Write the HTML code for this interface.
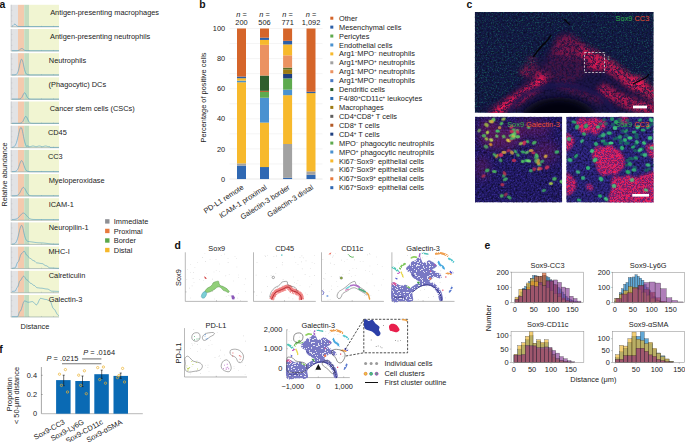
<!DOCTYPE html>
<html><head><meta charset="utf-8">
<style>
html,body{margin:0;padding:0;background:#fff;}
body{width:685px;height:442px;overflow:hidden;}
svg{display:block;font-family:"Liberation Sans",sans-serif;font-size:7.4px;fill:#222;}
</style></head><body>
<svg width="685" height="442" viewBox="0 0 685 442">
<defs>
<clipPath id="cTop"><rect x="474.8" y="11.9" width="178.9" height="100.9"/></clipPath>
<clipPath id="cBL"><rect x="475" y="116.8" width="87.1" height="85.6"/></clipPath>
<clipPath id="cBR"><rect x="566.3" y="116.8" width="87.3" height="85.6"/></clipPath>
<filter id="b06" x="-50%" y="-50%" width="200%" height="200%"><feGaussianBlur stdDeviation="0.6"/></filter>
<filter id="b1" x="-50%" y="-50%" width="200%" height="200%"><feGaussianBlur stdDeviation="1.2"/></filter>
<filter id="b2" x="-50%" y="-50%" width="200%" height="200%"><feGaussianBlur stdDeviation="2.5"/></filter>
<filter id="b4" x="-50%" y="-50%" width="200%" height="200%"><feGaussianBlur stdDeviation="4"/></filter>
<filter id="nzT" x="0" y="0" width="100%" height="100%" color-interpolation-filters="sRGB"><feTurbulence type="fractalNoise" baseFrequency="0.8" numOctaves="2" seed="4"/><feColorMatrix type="matrix" values="0 0 0 0 0.1  0 0 0 0 0.42  0 0 0 0 0.38  0 5.0 0 0 -2.6"/></filter>
<filter id="nzD" x="0" y="0" width="100%" height="100%" color-interpolation-filters="sRGB"><feTurbulence type="fractalNoise" baseFrequency="0.5" numOctaves="2" seed="9"/><feColorMatrix type="matrix" values="0 0 0 0 0.03  0 0 0 0 0.03  0 0 0 0 0.1  2.4 0 0 0 -1.0"/></filter>
<filter id="nzP" x="0" y="0" width="100%" height="100%" color-interpolation-filters="sRGB"><feTurbulence type="fractalNoise" baseFrequency="0.7" numOctaves="2" seed="11"/><feColorMatrix type="matrix" values="0 0 0 0 0.3  0 0 0 0 0.25  0 0 0 0 0.72  0 0 2.4 0 -1.0"/></filter>
<filter id="nzR" x="0" y="0" width="100%" height="100%" color-interpolation-filters="sRGB"><feTurbulence type="fractalNoise" baseFrequency="0.42" numOctaves="2" seed="21"/><feColorMatrix type="matrix" values="0 0 0 0 0.95  0 0 0 0 0.1  0 0 0 0 0.33  7.0 0 0 0 -3.5"/></filter>
<filter id="nzR3" x="0" y="0" width="100%" height="100%" color-interpolation-filters="sRGB"><feTurbulence type="fractalNoise" baseFrequency="0.25" numOctaves="2" seed="27"/><feColorMatrix type="matrix" values="0 0 0 0 0.9  0 0 0 0 0.1  0 0 0 0 0.32  0 0 7.0 0 -3.6"/></filter>
<filter id="nzR2" x="0" y="0" width="100%" height="100%" color-interpolation-filters="sRGB"><feTurbulence type="fractalNoise" baseFrequency="0.9" numOctaves="2" seed="23"/><feColorMatrix type="matrix" values="0 0 0 0 0.95  0 0 0 0 0.12  0 0 0 0 0.35  0 6.0 0 0 -2.9"/></filter>
<filter id="nzG" x="0" y="0" width="100%" height="100%" color-interpolation-filters="sRGB"><feTurbulence type="fractalNoise" baseFrequency="0.9" numOctaves="2" seed="31"/><feColorMatrix type="matrix" values="0 0 0 0 0.15  0 0 0 0 0.7  0 0 0 0 0.35  0 0 0 3.0 -1.5"/></filter>
<mask id="mRedTop" maskUnits="userSpaceOnUse" x="474" y="11" width="181" height="103">
<g filter="url(#b2)" fill="none" stroke-linecap="round">
<path d="M495.00,114.00 C496.67,112.67 501.67,108.33 505.00,106.00 C508.33,103.67 511.33,102.33 515.00,100.00 C518.67,97.67 523.17,94.67 527.00,92.00 C530.83,89.33 534.83,87.00 538.00,84.00 C541.17,81.00 544.67,75.67 546.00,74.00" stroke="#fff" stroke-width="10"/>
<path d="M546.00,74.00 C546.83,72.00 549.33,66.00 551.00,62.00 C552.67,58.00 554.33,53.67 556.00,50.00 C557.67,46.33 560.17,41.67 561.00,40.00" stroke="#4a4a4a" stroke-width="8"/>
<path d="M561.00,38.00 C562.17,37.67 565.50,35.33 568.00,36.00 C570.50,36.67 574.67,41.00 576.00,42.00" stroke="#333" stroke-width="6"/>
<ellipse cx="530" cy="72" rx="10" ry="5" fill="#aaa" stroke="none"/>
<path d="M560.00,84.00 C562.50,85.00 570.00,88.00 575.00,90.00 C580.00,92.00 585.83,94.33 590.00,96.00 C594.17,97.67 598.33,99.33 600.00,100.00" stroke="#444" stroke-width="8"/>
<path d="M581.00,50.00 C583.50,51.33 590.83,55.00 596.00,58.00 C601.17,61.00 606.67,64.33 612.00,68.00 C617.33,71.67 623.00,76.67 628.00,80.00 C633.00,83.33 637.67,85.67 642.00,88.00 C646.33,90.33 652.00,93.00 654.00,94.00" stroke="#ccc" stroke-width="12"/>
<path d="M604.00,90.00 C606.33,91.33 613.33,95.67 618.00,98.00 C622.67,100.33 627.33,102.33 632.00,104.00 C636.67,105.67 642.00,107.00 646.00,108.00 C650.00,109.00 654.33,109.67 656.00,110.00" stroke="#bbb" stroke-width="12"/>
<ellipse cx="596" cy="64" rx="8" ry="7" fill="#eee" stroke="none"/>
<ellipse cx="566" cy="68" rx="22" ry="14" fill="#333" stroke="none"/>
<ellipse cx="568" cy="47" rx="14" ry="11" fill="#777" stroke="none"/>
<ellipse cx="636" cy="83" rx="10" ry="7" fill="#fff" stroke="none"/>
<ellipse cx="532" cy="66" rx="6" ry="10" fill="#555" stroke="none"/>
</g>
</mask>
<mask id="mRedBR" maskUnits="userSpaceOnUse" x="566" y="116" width="88" height="87"><g filter="url(#b1)"><path d="M577.00,120.00 C578.00,118.58 580.17,117.67 582.00,117.50 C583.83,117.33 586.00,119.00 588.00,119.00 C590.00,119.00 592.00,117.50 594.00,117.50 C596.00,117.50 598.00,118.25 600.00,119.00 C602.00,119.75 605.17,120.50 606.00,122.00 C606.83,123.50 606.00,126.50 605.00,128.00 C604.00,129.50 601.50,129.83 600.00,131.00 C598.50,132.17 597.67,134.83 596.00,135.00 C594.33,135.17 591.83,132.00 590.00,132.00 C588.17,132.00 586.67,135.17 585.00,135.00 C583.33,134.83 581.50,132.50 580.00,131.00 C578.50,129.50 576.50,127.83 576.00,126.00 C575.50,124.17 576.00,121.42 577.00,120.00 Z" fill="#fff"/><path d="M566.00,134.00 C566.67,131.50 568.67,134.17 570.00,135.00 C571.33,135.83 573.50,137.33 574.00,139.00 C574.50,140.67 573.83,143.17 573.00,145.00 C572.17,146.83 570.17,149.17 569.00,150.00 C567.83,150.83 566.50,152.67 566.00,150.00 C565.50,147.33 565.33,136.50 566.00,134.00 Z" fill="#fff"/><path d="M594.00,150.00 C595.00,148.00 596.33,146.50 598.00,146.00 C599.67,145.50 602.17,147.33 604.00,147.00 C605.83,146.67 607.17,143.83 609.00,144.00 C610.83,144.17 613.00,146.67 615.00,148.00 C617.00,149.33 619.50,150.33 621.00,152.00 C622.50,153.67 623.33,155.83 624.00,158.00 C624.67,160.17 625.50,163.00 625.00,165.00 C624.50,167.00 622.50,168.33 621.00,170.00 C619.50,171.67 618.00,174.33 616.00,175.00 C614.00,175.67 611.17,173.83 609.00,174.00 C606.83,174.17 604.83,176.50 603.00,176.00 C601.17,175.50 599.17,172.83 598.00,171.00 C596.83,169.17 597.00,167.17 596.00,165.00 C595.00,162.83 592.33,160.50 592.00,158.00 C591.67,155.50 593.00,152.00 594.00,150.00 Z" fill="#fff"/><path d="M611.00,180.00 C611.67,178.00 614.17,176.50 616.00,176.00 C617.83,175.50 620.00,177.17 622.00,177.00 C624.00,176.83 626.00,175.00 628.00,175.00 C630.00,175.00 632.00,176.83 634.00,177.00 C636.00,177.17 638.00,176.50 640.00,176.00 C642.00,175.50 644.00,174.67 646.00,174.00 C648.00,173.33 650.33,172.00 652.00,172.00 C653.67,172.00 655.33,168.67 656.00,174.00 C656.67,179.33 663.33,199.00 656.00,204.00 C648.67,209.00 619.83,205.33 612.00,204.00 C604.17,202.67 609.00,198.67 609.00,196.00 C609.00,193.33 611.67,190.67 612.00,188.00 C612.33,185.33 610.33,182.00 611.00,180.00 Z" fill="#fff"/><path d="M566.00,174.00 C566.67,170.83 568.50,174.00 570.00,175.00 C571.50,176.00 574.00,178.00 575.00,180.00 C576.00,182.00 576.50,184.83 576.00,187.00 C575.50,189.17 573.67,191.83 572.00,193.00 C570.33,194.17 567.00,197.17 566.00,194.00 C565.00,190.83 565.33,177.17 566.00,174.00 Z" fill="#fff"/><path d="M620.00,117.00 C621.17,116.17 625.67,116.17 627.00,117.00 C628.33,117.83 628.50,120.67 628.00,122.00 C627.50,123.33 625.33,125.00 624.00,125.00 C622.67,125.00 620.67,123.33 620.00,122.00 C619.33,120.67 618.83,117.83 620.00,117.00 Z" fill="#fff"/><path d="M646.00,146.00 C646.33,143.83 650.33,144.00 652.00,144.00 C653.67,144.00 655.33,144.00 656.00,146.00 C656.67,148.00 657.00,154.17 656.00,156.00 C655.00,157.83 651.67,158.67 650.00,157.00 C648.33,155.33 645.67,148.17 646.00,146.00 Z" fill="#fff"/><path d="M586.00,186.00 C586.00,184.83 588.83,183.67 590.00,184.00 C591.17,184.33 593.00,186.83 593.00,188.00 C593.00,189.17 591.17,191.33 590.00,191.00 C588.83,190.67 586.00,187.17 586.00,186.00 Z" fill="#fff"/></g></mask><filter id="lace" x="0" y="0" width="100%" height="100%" color-interpolation-filters="sRGB"><feTurbulence type="fractalNoise" baseFrequency="0.7" numOctaves="2" seed="5"/><feColorMatrix type="matrix" values="4 0 0 0 -1.3  4 0 0 0 -1.3  4 0 0 0 -1.3  0 0 0 0 1"/><feComponentTransfer><feFuncR type="discrete" tableValues="0.2 1 1 1"/><feFuncG type="discrete" tableValues="0.2 1 1 1"/><feFuncB type="discrete" tableValues="0.2 1 1 1"/></feComponentTransfer></filter>
<mask id="mLace" maskUnits="userSpaceOnUse" x="-3" y="-3" width="70" height="56"><rect x="-3" y="-3" width="70" height="56" fill="#fff" filter="url(#lace)"/></mask>
<filter id="spk" x="0" y="0" width="100%" height="100%" color-interpolation-filters="sRGB"><feTurbulence type="fractalNoise" baseFrequency="1.2" numOctaves="1" seed="8"/><feColorMatrix type="matrix" values="5 0 0 0 -1.6  5 0 0 0 -1.6  5 0 0 0 -1.6  0 0 0 0 1"/></filter>
<mask id="mSpk" maskUnits="userSpaceOnUse" x="260" y="275" width="50" height="30"><rect x="260" y="275" width="50" height="30" fill="#fff" filter="url(#spk)"/></mask>
</defs>
<text x="-0.60" y="7.80" font-size="10.4" font-weight="bold" fill="#111">a</text>
<rect x="10.80" y="4.80" width="7.20" height="22.00" fill="#e2e3e5"/>
<rect x="18.00" y="4.80" width="6.20" height="22.00" fill="#f3caae"/>
<rect x="24.20" y="4.80" width="4.80" height="22.00" fill="#c2dcc0"/>
<rect x="29.00" y="4.80" width="30.00" height="22.00" fill="#f1f5d2"/>
<line x1="11.20" y1="4.80" x2="11.20" y2="26.80" stroke="#c4c5c9" stroke-width="0.8"/>
<line x1="11.20" y1="21.30" x2="12.40" y2="21.30" stroke="#b8b8bc" stroke-width="0.4"/>
<line x1="11.20" y1="15.80" x2="12.40" y2="15.80" stroke="#b8b8bc" stroke-width="0.4"/>
<line x1="11.20" y1="10.30" x2="12.40" y2="10.30" stroke="#b8b8bc" stroke-width="0.4"/>
<line x1="10.80" y1="26.80" x2="59.00" y2="26.80" stroke="#9aaaa4" stroke-width="0.7"/>
<line x1="29.00" y1="26.80" x2="29.00" y2="25.80" stroke="#9aa" stroke-width="0.4"/>
<line x1="41.50" y1="26.80" x2="41.50" y2="25.80" stroke="#9aa" stroke-width="0.4"/>
<line x1="53.50" y1="26.80" x2="53.50" y2="25.80" stroke="#9aa" stroke-width="0.4"/>
<path d="M12.00,26.27 L12.50,26.01 L13.00,25.59 L13.50,25.07 L14.00,24.54 L14.50,24.20 L15.00,24.16 L15.50,24.45 L16.00,24.96 L16.50,25.49 L17.00,25.94 L17.50,26.23 L18.00,26.39 L18.50,26.46 L19.00,26.49 L19.50,26.50 L20.00,26.50 L20.50,26.50 L21.00,26.50 L21.50,26.50 L22.00,26.50 L22.50,26.50 L23.00,26.50 L23.50,26.50 L24.00,26.50 L24.50,26.50 L25.00,26.50 L25.50,26.50 L26.00,26.50 L26.50,26.50 L27.00,26.50 L27.50,26.50 L28.00,26.50 L28.50,26.50 L29.00,26.50 L29.50,26.50 L30.00,26.50 L30.50,26.50 L31.00,26.50 L31.50,26.50 L32.00,26.50 L32.50,26.50 L33.00,26.50 L33.50,26.50 L34.00,26.50 L34.50,26.50 L35.00,26.50 L35.50,26.50 L36.00,26.50 L36.50,26.50 L37.00,26.50 L37.50,26.50 L38.00,26.50 L38.50,26.50 L39.00,26.50 L39.50,26.50 L40.00,26.50 L40.50,26.50 L41.00,26.50 L41.50,26.50 L42.00,26.50 L42.50,26.50 L43.00,26.50 L43.50,26.50 L44.00,26.50 L44.50,26.50 L45.00,26.50 L45.50,26.50 L46.00,26.50 L46.50,26.50 L47.00,26.50 L47.50,26.50 L48.00,26.50 L48.50,26.50 L49.00,26.50 L49.50,26.50 L50.00,26.50 L50.50,26.50 L51.00,26.50 L51.50,26.50 L52.00,26.50 L52.50,26.50 L53.00,26.50 L53.50,26.50 L54.00,26.50 L54.50,26.50 L55.00,26.50 L55.50,26.50 L56.00,26.50 L56.50,26.50 L57.00,26.50 L57.50,26.50 L58.00,26.50 L58.50,26.50 L59.00,26.50" fill="none" stroke="#4a9cbf" stroke-width="0.65" stroke-opacity="0.9"/>
<text x="50.20" y="15.30">Antigen-presenting macrophages</text>
<rect x="10.80" y="28.98" width="7.20" height="22.00" fill="#e2e3e5"/>
<rect x="18.00" y="28.98" width="6.20" height="22.00" fill="#f3caae"/>
<rect x="24.20" y="28.98" width="4.80" height="22.00" fill="#c2dcc0"/>
<rect x="29.00" y="28.98" width="30.00" height="22.00" fill="#f1f5d2"/>
<line x1="11.20" y1="28.98" x2="11.20" y2="50.98" stroke="#c4c5c9" stroke-width="0.8"/>
<line x1="11.20" y1="45.48" x2="12.40" y2="45.48" stroke="#b8b8bc" stroke-width="0.4"/>
<line x1="11.20" y1="39.98" x2="12.40" y2="39.98" stroke="#b8b8bc" stroke-width="0.4"/>
<line x1="11.20" y1="34.48" x2="12.40" y2="34.48" stroke="#b8b8bc" stroke-width="0.4"/>
<line x1="10.80" y1="50.98" x2="59.00" y2="50.98" stroke="#9aaaa4" stroke-width="0.7"/>
<line x1="29.00" y1="50.98" x2="29.00" y2="49.98" stroke="#9aa" stroke-width="0.4"/>
<line x1="41.50" y1="50.98" x2="41.50" y2="49.98" stroke="#9aa" stroke-width="0.4"/>
<line x1="53.50" y1="50.98" x2="53.50" y2="49.98" stroke="#9aa" stroke-width="0.4"/>
<path d="M12.00,50.68 L12.50,50.68 L13.00,50.68 L13.50,50.68 L14.00,50.68 L14.50,50.68 L15.00,50.68 L15.50,50.68 L16.00,50.68 L16.50,50.67 L17.00,50.66 L17.50,50.62 L18.00,50.55 L18.50,50.42 L19.00,50.22 L19.50,49.91 L20.00,49.54 L20.50,49.13 L21.00,48.78 L21.50,48.57 L22.00,48.55 L22.50,48.73 L23.00,49.06 L23.50,49.46 L24.00,49.84 L24.50,50.16 L25.00,50.39 L25.50,50.53 L26.00,50.61 L26.50,50.65 L27.00,50.67 L27.50,50.68 L28.00,50.68 L28.50,50.68 L29.00,50.68 L29.50,50.68 L30.00,50.68 L30.50,50.68 L31.00,50.68 L31.50,50.68 L32.00,50.68 L32.50,50.68 L33.00,50.68 L33.50,50.68 L34.00,50.68 L34.50,50.68 L35.00,50.68 L35.50,50.68 L36.00,50.68 L36.50,50.68 L37.00,50.68 L37.50,50.68 L38.00,50.68 L38.50,50.68 L39.00,50.68 L39.50,50.68 L40.00,50.68 L40.50,50.68 L41.00,50.68 L41.50,50.68 L42.00,50.68 L42.50,50.68 L43.00,50.68 L43.50,50.68 L44.00,50.68 L44.50,50.68 L45.00,50.68 L45.50,50.68 L46.00,50.68 L46.50,50.68 L47.00,50.68 L47.50,50.68 L48.00,50.68 L48.50,50.68 L49.00,50.68 L49.50,50.68 L50.00,50.68 L50.50,50.68 L51.00,50.68 L51.50,50.68 L52.00,50.68 L52.50,50.68 L53.00,50.68 L53.50,50.68 L54.00,50.68 L54.50,50.68 L55.00,50.68 L55.50,50.68 L56.00,50.68 L56.50,50.68 L57.00,50.68 L57.50,50.68 L58.00,50.68 L58.50,50.68 L59.00,50.68" fill="none" stroke="#4a9cbf" stroke-width="0.65" stroke-opacity="0.9"/>
<text x="50.00" y="39.20">Antigen-presenting neutrophils</text>
<rect x="10.80" y="53.16" width="7.20" height="22.00" fill="#e2e3e5"/>
<rect x="18.00" y="53.16" width="6.20" height="22.00" fill="#f3caae"/>
<rect x="24.20" y="53.16" width="4.80" height="22.00" fill="#c2dcc0"/>
<rect x="29.00" y="53.16" width="30.00" height="22.00" fill="#f1f5d2"/>
<line x1="11.20" y1="53.16" x2="11.20" y2="75.16" stroke="#c4c5c9" stroke-width="0.8"/>
<line x1="11.20" y1="69.66" x2="12.40" y2="69.66" stroke="#b8b8bc" stroke-width="0.4"/>
<line x1="11.20" y1="64.16" x2="12.40" y2="64.16" stroke="#b8b8bc" stroke-width="0.4"/>
<line x1="11.20" y1="58.66" x2="12.40" y2="58.66" stroke="#b8b8bc" stroke-width="0.4"/>
<line x1="10.80" y1="75.16" x2="59.00" y2="75.16" stroke="#9aaaa4" stroke-width="0.7"/>
<line x1="29.00" y1="75.16" x2="29.00" y2="74.16" stroke="#9aa" stroke-width="0.4"/>
<line x1="41.50" y1="75.16" x2="41.50" y2="74.16" stroke="#9aa" stroke-width="0.4"/>
<line x1="53.50" y1="75.16" x2="53.50" y2="74.16" stroke="#9aa" stroke-width="0.4"/>
<path d="M12.00,74.86 L12.50,74.86 L13.00,74.86 L13.50,74.86 L14.00,74.85 L14.50,74.83 L15.00,74.79 L15.50,74.71 L16.00,74.55 L16.50,74.25 L17.00,73.75 L17.50,72.94 L18.00,71.75 L18.50,70.14 L19.00,68.12 L19.50,65.82 L20.00,63.46 L20.50,61.37 L21.00,59.86 L21.50,59.18 L22.00,59.48 L22.50,60.68 L23.00,62.58 L23.50,64.86 L24.00,67.22 L24.50,69.37 L25.00,71.16 L25.50,72.52 L26.00,73.46 L26.50,74.08 L27.00,74.45 L27.50,74.66 L28.00,74.77 L28.50,74.82 L29.00,74.84 L29.50,74.85 L30.00,74.86 L30.50,74.86 L31.00,74.86 L31.50,74.86 L32.00,74.86 L32.50,74.86 L33.00,74.86 L33.50,74.86 L34.00,74.86 L34.50,74.86 L35.00,74.86 L35.50,74.86 L36.00,74.86 L36.50,74.86 L37.00,74.86 L37.50,74.86 L38.00,74.86 L38.50,74.86 L39.00,74.86 L39.50,74.86 L40.00,74.86 L40.50,74.86 L41.00,74.86 L41.50,74.86 L42.00,74.86 L42.50,74.86 L43.00,74.86 L43.50,74.86 L44.00,74.86 L44.50,74.86 L45.00,74.86 L45.50,74.86 L46.00,74.86 L46.50,74.86 L47.00,74.86 L47.50,74.86 L48.00,74.86 L48.50,74.86 L49.00,74.86 L49.50,74.86 L50.00,74.86 L50.50,74.86 L51.00,74.86 L51.50,74.86 L52.00,74.86 L52.50,74.86 L53.00,74.86 L53.50,74.86 L54.00,74.86 L54.50,74.86 L55.00,74.86 L55.50,74.86 L56.00,74.86 L56.50,74.86 L57.00,74.86 L57.50,74.86 L58.00,74.86 L58.50,74.86 L59.00,74.86" fill="none" stroke="#4a9cbf" stroke-width="0.65" stroke-opacity="0.9"/>
<text x="48.80" y="63.10">Neutrophils</text>
<rect x="10.80" y="77.34" width="7.20" height="22.00" fill="#e2e3e5"/>
<rect x="18.00" y="77.34" width="6.20" height="22.00" fill="#f3caae"/>
<rect x="24.20" y="77.34" width="4.80" height="22.00" fill="#c2dcc0"/>
<rect x="29.00" y="77.34" width="30.00" height="22.00" fill="#f1f5d2"/>
<line x1="11.20" y1="77.34" x2="11.20" y2="99.34" stroke="#c4c5c9" stroke-width="0.8"/>
<line x1="11.20" y1="93.84" x2="12.40" y2="93.84" stroke="#b8b8bc" stroke-width="0.4"/>
<line x1="11.20" y1="88.34" x2="12.40" y2="88.34" stroke="#b8b8bc" stroke-width="0.4"/>
<line x1="11.20" y1="82.84" x2="12.40" y2="82.84" stroke="#b8b8bc" stroke-width="0.4"/>
<line x1="10.80" y1="99.34" x2="59.00" y2="99.34" stroke="#9aaaa4" stroke-width="0.7"/>
<line x1="29.00" y1="99.34" x2="29.00" y2="98.34" stroke="#9aa" stroke-width="0.4"/>
<line x1="41.50" y1="99.34" x2="41.50" y2="98.34" stroke="#9aa" stroke-width="0.4"/>
<line x1="53.50" y1="99.34" x2="53.50" y2="98.34" stroke="#9aa" stroke-width="0.4"/>
<path d="M12.00,99.04 L12.50,99.04 L13.00,99.04 L13.50,99.04 L14.00,99.04 L14.50,99.04 L15.00,99.04 L15.50,99.04 L16.00,99.04 L16.50,99.04 L17.00,99.04 L17.50,99.04 L18.00,99.04 L18.50,99.03 L19.00,99.01 L19.50,98.97 L20.00,98.88 L20.50,98.70 L21.00,98.38 L21.50,97.86 L22.00,97.10 L22.50,96.13 L23.00,95.04 L23.50,93.98 L24.00,93.18 L24.50,92.82 L25.00,92.98 L25.50,93.62 L26.00,94.60 L26.50,95.70 L27.00,96.74 L27.50,97.58 L28.00,98.20 L28.50,98.59 L29.00,98.82 L29.50,98.94 L30.00,99.00 L30.50,99.02 L31.00,99.03 L31.50,99.04 L32.00,99.04 L32.50,99.04 L33.00,99.04 L33.50,99.04 L34.00,99.04 L34.50,99.04 L35.00,99.04 L35.50,99.04 L36.00,99.04 L36.50,99.04 L37.00,99.04 L37.50,99.04 L38.00,99.04 L38.50,99.04 L39.00,99.04 L39.50,99.04 L40.00,99.04 L40.50,99.04 L41.00,99.04 L41.50,99.04 L42.00,99.04 L42.50,99.04 L43.00,99.04 L43.50,99.04 L44.00,99.04 L44.50,99.04 L45.00,99.04 L45.50,99.04 L46.00,99.04 L46.50,99.04 L47.00,99.04 L47.50,99.04 L48.00,99.04 L48.50,99.04 L49.00,99.04 L49.50,99.04 L50.00,99.04 L50.50,99.04 L51.00,99.04 L51.50,99.04 L52.00,99.04 L52.50,99.04 L53.00,99.04 L53.50,99.04 L54.00,99.04 L54.50,99.04 L55.00,99.04 L55.50,99.04 L56.00,99.04 L56.50,99.04 L57.00,99.04 L57.50,99.04 L58.00,99.04 L58.50,99.04 L59.00,99.04" fill="none" stroke="#4a9cbf" stroke-width="0.65" stroke-opacity="0.9"/>
<text x="48.60" y="87.00">(Phagocytic) DCs</text>
<rect x="10.80" y="101.52" width="7.20" height="22.00" fill="#e2e3e5"/>
<rect x="18.00" y="101.52" width="6.20" height="22.00" fill="#f3caae"/>
<rect x="24.20" y="101.52" width="4.80" height="22.00" fill="#c2dcc0"/>
<rect x="29.00" y="101.52" width="30.00" height="22.00" fill="#f1f5d2"/>
<line x1="11.20" y1="101.52" x2="11.20" y2="123.52" stroke="#c4c5c9" stroke-width="0.8"/>
<line x1="11.20" y1="118.02" x2="12.40" y2="118.02" stroke="#b8b8bc" stroke-width="0.4"/>
<line x1="11.20" y1="112.52" x2="12.40" y2="112.52" stroke="#b8b8bc" stroke-width="0.4"/>
<line x1="11.20" y1="107.02" x2="12.40" y2="107.02" stroke="#b8b8bc" stroke-width="0.4"/>
<line x1="10.80" y1="123.52" x2="59.00" y2="123.52" stroke="#9aaaa4" stroke-width="0.7"/>
<line x1="29.00" y1="123.52" x2="29.00" y2="122.52" stroke="#9aa" stroke-width="0.4"/>
<line x1="41.50" y1="123.52" x2="41.50" y2="122.52" stroke="#9aa" stroke-width="0.4"/>
<line x1="53.50" y1="123.52" x2="53.50" y2="122.52" stroke="#9aa" stroke-width="0.4"/>
<path d="M12.00,123.22 L12.50,123.22 L13.00,123.22 L13.50,123.22 L14.00,123.22 L14.50,123.22 L15.00,123.22 L15.50,123.22 L16.00,123.22 L16.50,123.22 L17.00,123.22 L17.50,123.22 L18.00,123.22 L18.50,123.22 L19.00,123.21 L19.50,123.20 L20.00,123.18 L20.50,123.13 L21.00,123.02 L21.50,122.82 L22.00,122.48 L22.50,121.94 L23.00,121.17 L23.50,120.18 L24.00,119.05 L24.50,117.92 L25.00,116.99 L25.50,116.43 L26.00,116.38 L26.50,116.84 L27.00,117.71 L27.50,118.82 L28.00,119.96 L28.50,120.99 L29.00,121.80 L29.50,122.39 L30.00,122.77 L30.50,122.99 L31.00,123.11 L31.50,123.17 L32.00,123.20 L32.50,123.21 L33.00,123.22 L33.50,123.22 L34.00,123.22 L34.50,123.22 L35.00,123.22 L35.50,123.22 L36.00,123.22 L36.50,123.22 L37.00,123.22 L37.50,123.22 L38.00,123.22 L38.50,123.22 L39.00,123.22 L39.50,123.22 L40.00,123.22 L40.50,123.22 L41.00,123.22 L41.50,123.22 L42.00,123.22 L42.50,123.22 L43.00,123.22 L43.50,123.22 L44.00,123.22 L44.50,123.22 L45.00,123.22 L45.50,123.22 L46.00,123.22 L46.50,123.22 L47.00,123.22 L47.50,123.22 L48.00,123.22 L48.50,123.22 L49.00,123.22 L49.50,123.22 L50.00,123.22 L50.50,123.22 L51.00,123.22 L51.50,123.22 L52.00,123.22 L52.50,123.22 L53.00,123.22 L53.50,123.22 L54.00,123.22 L54.50,123.22 L55.00,123.22 L55.50,123.22 L56.00,123.22 L56.50,123.22 L57.00,123.22 L57.50,123.22 L58.00,123.22 L58.50,123.22 L59.00,123.22" fill="none" stroke="#4a9cbf" stroke-width="0.65" stroke-opacity="0.9"/>
<text x="49.70" y="110.90">Cancer stem cells (CSCs)</text>
<rect x="10.80" y="125.70" width="7.20" height="22.00" fill="#e2e3e5"/>
<rect x="18.00" y="125.70" width="6.20" height="22.00" fill="#f3caae"/>
<rect x="24.20" y="125.70" width="4.80" height="22.00" fill="#c2dcc0"/>
<rect x="29.00" y="125.70" width="30.00" height="22.00" fill="#f1f5d2"/>
<line x1="11.20" y1="125.70" x2="11.20" y2="147.70" stroke="#c4c5c9" stroke-width="0.8"/>
<line x1="11.20" y1="142.20" x2="12.40" y2="142.20" stroke="#b8b8bc" stroke-width="0.4"/>
<line x1="11.20" y1="136.70" x2="12.40" y2="136.70" stroke="#b8b8bc" stroke-width="0.4"/>
<line x1="11.20" y1="131.20" x2="12.40" y2="131.20" stroke="#b8b8bc" stroke-width="0.4"/>
<line x1="10.80" y1="147.70" x2="59.00" y2="147.70" stroke="#9aaaa4" stroke-width="0.7"/>
<line x1="29.00" y1="147.70" x2="29.00" y2="146.70" stroke="#9aa" stroke-width="0.4"/>
<line x1="41.50" y1="147.70" x2="41.50" y2="146.70" stroke="#9aa" stroke-width="0.4"/>
<line x1="53.50" y1="147.70" x2="53.50" y2="146.70" stroke="#9aa" stroke-width="0.4"/>
<path d="M12.00,147.32 L12.50,147.26 L13.00,147.15 L13.50,146.98 L14.00,146.71 L14.50,146.30 L15.00,145.71 L15.50,144.89 L16.00,143.80 L16.50,142.41 L17.00,140.73 L17.50,138.77 L18.00,136.61 L18.50,134.38 L19.00,132.20 L19.50,130.26 L20.00,128.73 L20.50,127.74 L21.00,127.41 L21.50,127.87 L22.00,129.21 L22.50,131.24 L23.00,133.70 L23.50,136.32 L24.00,138.86 L24.50,141.12 L25.00,142.99 L25.50,144.45 L26.00,145.52 L26.50,146.25 L27.00,146.73 L27.50,145.73 L28.00,146.04 L28.50,146.30 L29.00,146.49 L29.50,146.61 L30.00,146.63 L30.50,146.58 L31.00,146.45 L31.50,146.30 L32.00,146.15 L32.50,146.04 L33.00,146.00 L33.50,146.04 L34.00,146.15 L34.50,146.31 L35.00,146.46 L35.50,146.59 L36.00,146.64 L36.50,146.63 L37.00,146.53 L37.50,146.39 L38.00,146.23 L38.50,146.09 L39.00,146.01 L39.50,146.01 L40.00,146.08 L40.50,146.22 L41.00,146.38 L41.50,146.52 L42.00,146.62 L42.50,146.65 L43.00,146.59 L43.50,146.47 L44.00,146.32 L44.50,146.17 L45.00,146.05 L45.50,146.00 L46.00,146.03 L46.50,146.14 L47.00,146.29 L47.50,146.44 L48.00,146.57 L48.50,146.64 L49.00,146.63 L49.50,146.55 L50.00,147.40 L50.50,147.40 L51.00,147.40 L51.50,147.40 L52.00,147.40 L52.50,147.40 L53.00,147.40 L53.50,147.40 L54.00,147.40 L54.50,147.40 L55.00,147.40 L55.50,147.40 L56.00,147.40 L56.50,147.40 L57.00,147.40 L57.50,147.40 L58.00,147.40 L58.50,147.40 L59.00,147.40" fill="none" stroke="#4a9cbf" stroke-width="0.65" stroke-opacity="0.9"/>
<text x="47.90" y="134.80">CD45</text>
<rect x="10.80" y="149.88" width="7.20" height="22.00" fill="#e2e3e5"/>
<rect x="18.00" y="149.88" width="6.20" height="22.00" fill="#f3caae"/>
<rect x="24.20" y="149.88" width="4.80" height="22.00" fill="#c2dcc0"/>
<rect x="29.00" y="149.88" width="30.00" height="22.00" fill="#f1f5d2"/>
<line x1="11.20" y1="149.88" x2="11.20" y2="171.88" stroke="#c4c5c9" stroke-width="0.8"/>
<line x1="11.20" y1="166.38" x2="12.40" y2="166.38" stroke="#b8b8bc" stroke-width="0.4"/>
<line x1="11.20" y1="160.88" x2="12.40" y2="160.88" stroke="#b8b8bc" stroke-width="0.4"/>
<line x1="11.20" y1="155.38" x2="12.40" y2="155.38" stroke="#b8b8bc" stroke-width="0.4"/>
<line x1="10.80" y1="171.88" x2="59.00" y2="171.88" stroke="#9aaaa4" stroke-width="0.7"/>
<line x1="29.00" y1="171.88" x2="29.00" y2="170.88" stroke="#9aa" stroke-width="0.4"/>
<line x1="41.50" y1="171.88" x2="41.50" y2="170.88" stroke="#9aa" stroke-width="0.4"/>
<line x1="53.50" y1="171.88" x2="53.50" y2="170.88" stroke="#9aa" stroke-width="0.4"/>
<path d="M12.00,171.58 L12.50,171.58 L13.00,171.57 L13.50,171.57 L14.00,171.55 L14.50,171.52 L15.00,171.46 L15.50,171.35 L16.00,171.15 L16.50,170.83 L17.00,170.35 L17.50,169.65 L18.00,168.71 L18.50,167.52 L19.00,166.13 L19.50,164.63 L20.00,163.16 L20.50,161.90 L21.00,161.02 L21.50,160.63 L22.00,160.79 L22.50,161.50 L23.00,162.62 L23.50,164.03 L24.00,165.53 L24.50,166.98 L25.00,168.26 L25.50,169.30 L26.00,170.10 L26.50,170.66 L27.00,171.04 L27.50,171.28 L28.00,171.42 L28.50,171.50 L29.00,171.54 L29.50,171.56 L30.00,171.57 L30.50,171.58 L31.00,171.58 L31.50,171.58 L32.00,171.58 L32.50,171.58 L33.00,171.58 L33.50,171.58 L34.00,171.58 L34.50,171.58 L35.00,171.58 L35.50,171.58 L36.00,171.58 L36.50,171.58 L37.00,171.58 L37.50,171.58 L38.00,171.58 L38.50,171.58 L39.00,171.58 L39.50,171.58 L40.00,171.58 L40.50,171.58 L41.00,171.58 L41.50,171.58 L42.00,171.58 L42.50,171.58 L43.00,171.58 L43.50,171.58 L44.00,171.58 L44.50,171.58 L45.00,171.58 L45.50,171.58 L46.00,171.58 L46.50,171.58 L47.00,171.58 L47.50,171.58 L48.00,171.58 L48.50,171.58 L49.00,171.58 L49.50,171.58 L50.00,171.58 L50.50,171.58 L51.00,171.58 L51.50,171.58 L52.00,171.58 L52.50,171.58 L53.00,171.58 L53.50,171.58 L54.00,171.58 L54.50,171.58 L55.00,171.58 L55.50,171.58 L56.00,171.58 L56.50,171.58 L57.00,171.58 L57.50,171.58 L58.00,171.58 L58.50,171.58 L59.00,171.58" fill="none" stroke="#4a9cbf" stroke-width="0.65" stroke-opacity="0.9"/>
<text x="47.90" y="158.70">CC3</text>
<rect x="10.80" y="174.06" width="7.20" height="22.00" fill="#e2e3e5"/>
<rect x="18.00" y="174.06" width="6.20" height="22.00" fill="#f3caae"/>
<rect x="24.20" y="174.06" width="4.80" height="22.00" fill="#c2dcc0"/>
<rect x="29.00" y="174.06" width="30.00" height="22.00" fill="#f1f5d2"/>
<line x1="11.20" y1="174.06" x2="11.20" y2="196.06" stroke="#c4c5c9" stroke-width="0.8"/>
<line x1="11.20" y1="190.56" x2="12.40" y2="190.56" stroke="#b8b8bc" stroke-width="0.4"/>
<line x1="11.20" y1="185.06" x2="12.40" y2="185.06" stroke="#b8b8bc" stroke-width="0.4"/>
<line x1="11.20" y1="179.56" x2="12.40" y2="179.56" stroke="#b8b8bc" stroke-width="0.4"/>
<line x1="10.80" y1="196.06" x2="59.00" y2="196.06" stroke="#9aaaa4" stroke-width="0.7"/>
<line x1="29.00" y1="196.06" x2="29.00" y2="195.06" stroke="#9aa" stroke-width="0.4"/>
<line x1="41.50" y1="196.06" x2="41.50" y2="195.06" stroke="#9aa" stroke-width="0.4"/>
<line x1="53.50" y1="196.06" x2="53.50" y2="195.06" stroke="#9aa" stroke-width="0.4"/>
<path d="M12.00,195.76 L12.50,195.76 L13.00,195.76 L13.50,195.76 L14.00,195.75 L14.50,195.75 L15.00,195.73 L15.50,195.70 L16.00,195.66 L16.50,195.57 L17.00,195.44 L17.50,195.24 L18.00,194.95 L18.50,194.53 L19.00,193.98 L19.50,193.28 L20.00,192.43 L20.50,191.48 L21.00,190.47 L21.50,189.48 L22.00,188.59 L22.50,187.90 L23.00,187.48 L23.50,187.38 L24.00,187.61 L24.50,188.15 L25.00,188.93 L25.50,189.87 L26.00,190.88 L26.50,191.87 L27.00,192.79 L27.50,193.57 L28.00,194.22 L28.50,194.71 L29.00,195.08 L29.50,195.33 L30.00,195.50 L30.50,195.61 L31.00,195.68 L31.50,195.72 L32.00,195.74 L32.50,195.75 L33.00,195.75 L33.50,195.76 L34.00,195.76 L34.50,195.76 L35.00,195.76 L35.50,195.76 L36.00,195.76 L36.50,195.76 L37.00,195.76 L37.50,195.76 L38.00,195.76 L38.50,195.76 L39.00,195.76 L39.50,195.76 L40.00,195.76 L40.50,195.76 L41.00,195.76 L41.50,195.76 L42.00,195.76 L42.50,195.76 L43.00,195.76 L43.50,195.76 L44.00,195.76 L44.50,195.76 L45.00,195.76 L45.50,195.76 L46.00,195.76 L46.50,195.76 L47.00,195.76 L47.50,195.76 L48.00,195.76 L48.50,195.76 L49.00,195.76 L49.50,195.76 L50.00,195.76 L50.50,195.76 L51.00,195.76 L51.50,195.76 L52.00,195.76 L52.50,195.76 L53.00,195.76 L53.50,195.76 L54.00,195.76 L54.50,195.76 L55.00,195.76 L55.50,195.76 L56.00,195.76 L56.50,195.76 L57.00,195.76 L57.50,195.76 L58.00,195.76 L58.50,195.76 L59.00,195.76" fill="none" stroke="#4a9cbf" stroke-width="0.65" stroke-opacity="0.9"/>
<text x="48.70" y="182.60">Myeloperoxidase</text>
<rect x="10.80" y="198.24" width="7.20" height="22.00" fill="#e2e3e5"/>
<rect x="18.00" y="198.24" width="6.20" height="22.00" fill="#f3caae"/>
<rect x="24.20" y="198.24" width="4.80" height="22.00" fill="#c2dcc0"/>
<rect x="29.00" y="198.24" width="30.00" height="22.00" fill="#f1f5d2"/>
<line x1="11.20" y1="198.24" x2="11.20" y2="220.24" stroke="#c4c5c9" stroke-width="0.8"/>
<line x1="11.20" y1="214.74" x2="12.40" y2="214.74" stroke="#b8b8bc" stroke-width="0.4"/>
<line x1="11.20" y1="209.24" x2="12.40" y2="209.24" stroke="#b8b8bc" stroke-width="0.4"/>
<line x1="11.20" y1="203.74" x2="12.40" y2="203.74" stroke="#b8b8bc" stroke-width="0.4"/>
<line x1="10.80" y1="220.24" x2="59.00" y2="220.24" stroke="#9aaaa4" stroke-width="0.7"/>
<line x1="29.00" y1="220.24" x2="29.00" y2="219.24" stroke="#9aa" stroke-width="0.4"/>
<line x1="41.50" y1="220.24" x2="41.50" y2="219.24" stroke="#9aa" stroke-width="0.4"/>
<line x1="53.50" y1="220.24" x2="53.50" y2="219.24" stroke="#9aa" stroke-width="0.4"/>
<path d="M12.00,219.50 L12.50,219.49 L13.00,219.48 L13.50,219.46 L14.00,219.42 L14.50,219.38 L15.00,219.30 L15.50,219.20 L16.00,219.07 L16.50,218.88 L17.00,218.64 L17.50,218.33 L18.00,217.96 L18.50,217.51 L19.00,217.00 L19.50,216.44 L20.00,215.84 L20.50,215.23 L21.00,214.64 L21.50,214.10 L22.00,213.65 L22.50,213.31 L23.00,213.11 L23.50,213.06 L24.00,213.17 L24.50,213.43 L25.00,213.82 L25.50,214.31 L26.00,214.87 L26.50,215.48 L27.00,216.08 L27.50,216.67 L28.00,217.21 L28.50,217.70 L29.00,218.12 L29.50,218.46 L30.00,218.74 L30.50,218.96 L31.00,219.13 L31.50,219.25 L32.00,219.34 L32.50,219.40 L33.00,219.44 L33.50,219.47 L34.00,219.48 L34.50,219.49 L35.00,219.50 L35.50,219.50 L36.00,219.51 L36.50,219.51 L37.00,219.51 L37.50,219.51 L38.00,219.51 L38.50,219.51 L39.00,219.51 L39.50,219.51 L40.00,219.51 L40.50,219.51 L41.00,219.51 L41.50,219.51 L42.00,219.51 L42.50,219.51 L43.00,219.51 L43.50,219.51 L44.00,219.51 L44.50,219.51 L45.00,219.51 L45.50,219.51 L46.00,219.51 L46.50,219.51 L47.00,219.51 L47.50,219.51 L48.00,219.51 L48.50,219.51 L49.00,219.51 L49.50,219.51 L50.00,219.51 L50.50,219.51 L51.00,219.51 L51.50,219.51 L52.00,219.51 L52.50,219.51 L53.00,219.51 L53.50,219.51 L54.00,219.51 L54.50,219.51 L55.00,219.51 L55.50,219.51 L56.00,219.51 L56.50,219.51 L57.00,219.51 L57.50,219.51 L58.00,219.51 L58.50,219.51 L59.00,219.51" fill="none" stroke="#4a9cbf" stroke-width="0.65" stroke-opacity="0.9"/>
<text x="48.70" y="206.50">ICAM-1</text>
<rect x="10.80" y="222.42" width="7.20" height="22.00" fill="#e2e3e5"/>
<rect x="18.00" y="222.42" width="6.20" height="22.00" fill="#f3caae"/>
<rect x="24.20" y="222.42" width="4.80" height="22.00" fill="#c2dcc0"/>
<rect x="29.00" y="222.42" width="30.00" height="22.00" fill="#f1f5d2"/>
<line x1="11.20" y1="222.42" x2="11.20" y2="244.42" stroke="#c4c5c9" stroke-width="0.8"/>
<line x1="11.20" y1="238.92" x2="12.40" y2="238.92" stroke="#b8b8bc" stroke-width="0.4"/>
<line x1="11.20" y1="233.42" x2="12.40" y2="233.42" stroke="#b8b8bc" stroke-width="0.4"/>
<line x1="11.20" y1="227.92" x2="12.40" y2="227.92" stroke="#b8b8bc" stroke-width="0.4"/>
<line x1="10.80" y1="244.42" x2="59.00" y2="244.42" stroke="#9aaaa4" stroke-width="0.7"/>
<line x1="29.00" y1="244.42" x2="29.00" y2="243.42" stroke="#9aa" stroke-width="0.4"/>
<line x1="41.50" y1="244.42" x2="41.50" y2="243.42" stroke="#9aa" stroke-width="0.4"/>
<line x1="53.50" y1="244.42" x2="53.50" y2="243.42" stroke="#9aa" stroke-width="0.4"/>
<path d="M12.00,244.10 L12.50,244.08 L13.00,244.04 L13.50,243.97 L14.00,243.86 L14.50,243.67 L15.00,243.37 L15.50,242.93 L16.00,242.28 L16.50,241.39 L17.00,240.21 L17.50,238.73 L18.00,236.95 L18.50,234.93 L19.00,232.77 L19.50,230.62 L20.00,228.64 L20.50,227.02 L21.00,225.91 L21.50,225.38 L22.00,225.56 L22.50,226.65 L23.00,228.47 L23.50,230.73 L24.00,233.09 L24.50,235.30 L25.00,237.17 L25.50,238.61 L26.00,239.65 L26.50,240.36 L27.00,240.85 L27.50,241.18 L28.00,241.38 L28.50,241.50 L29.00,241.58 L29.50,241.65 L30.00,241.71 L30.50,241.77 L31.00,241.83 L31.50,241.90 L32.00,241.97 L32.50,242.04 L33.00,242.11 L33.50,242.18 L34.00,242.26 L34.50,242.33 L35.00,242.40 L35.50,242.47 L36.00,242.54 L36.50,242.60 L37.00,242.66 L37.50,242.71 L38.00,242.75 L38.50,242.78 L39.00,242.81 L39.50,242.82 L40.00,242.83 L40.50,242.83 L41.00,242.85 L41.50,242.87 L42.00,242.89 L42.50,242.93 L43.00,242.96 L43.50,243.01 L44.00,243.06 L44.50,243.11 L45.00,243.16 L45.50,243.22 L46.00,243.28 L46.50,243.35 L47.00,243.41 L47.50,243.47 L48.00,243.54 L48.50,243.60 L49.00,243.67 L49.50,243.73 L50.00,243.79 L50.50,243.84 L51.00,243.89 L51.50,243.94 L52.00,243.99 L52.50,244.02 L53.00,244.06 L53.50,244.08 L54.00,244.10 L54.50,244.12 L55.00,244.12 L55.50,244.12 L56.00,244.12 L56.50,244.12 L57.00,244.12 L57.50,244.12 L58.00,244.12 L58.50,244.12 L59.00,244.12" fill="none" stroke="#4a9cbf" stroke-width="0.65" stroke-opacity="0.9"/>
<text x="48.70" y="230.40">Neuropilin-1</text>
<rect x="10.80" y="246.60" width="7.20" height="22.00" fill="#e2e3e5"/>
<rect x="18.00" y="246.60" width="6.20" height="22.00" fill="#f3caae"/>
<rect x="24.20" y="246.60" width="4.80" height="22.00" fill="#c2dcc0"/>
<rect x="29.00" y="246.60" width="30.00" height="22.00" fill="#f1f5d2"/>
<line x1="11.20" y1="246.60" x2="11.20" y2="268.60" stroke="#c4c5c9" stroke-width="0.8"/>
<line x1="11.20" y1="263.10" x2="12.40" y2="263.10" stroke="#b8b8bc" stroke-width="0.4"/>
<line x1="11.20" y1="257.60" x2="12.40" y2="257.60" stroke="#b8b8bc" stroke-width="0.4"/>
<line x1="11.20" y1="252.10" x2="12.40" y2="252.10" stroke="#b8b8bc" stroke-width="0.4"/>
<line x1="10.80" y1="268.60" x2="59.00" y2="268.60" stroke="#9aaaa4" stroke-width="0.7"/>
<line x1="29.00" y1="268.60" x2="29.00" y2="267.60" stroke="#9aa" stroke-width="0.4"/>
<line x1="41.50" y1="268.60" x2="41.50" y2="267.60" stroke="#9aa" stroke-width="0.4"/>
<line x1="53.50" y1="268.60" x2="53.50" y2="267.60" stroke="#9aa" stroke-width="0.4"/>
<path d="M12.00,268.30 L12.50,268.27 L13.00,268.19 L13.50,268.09 L14.00,267.98 L14.50,267.90 L15.00,267.87 L15.50,267.42 L16.00,266.31 L16.50,264.86 L17.00,263.41 L17.50,262.30 L18.00,261.85 L18.50,261.40 L19.00,260.23 L19.50,258.63 L20.00,256.90 L20.50,255.30 L21.00,254.13 L21.50,253.68 L22.00,253.43 L22.50,252.83 L23.00,252.09 L23.50,251.45 L24.00,251.11 L24.50,251.32 L25.00,252.09 L25.50,253.14 L26.00,254.22 L26.50,255.06 L27.00,255.40 L27.50,255.62 L28.00,256.18 L28.50,256.91 L29.00,257.63 L29.50,258.19 L30.00,258.41 L30.50,258.53 L31.00,258.84 L31.50,259.26 L32.00,259.71 L32.50,260.13 L33.00,260.44 L33.50,260.56 L34.00,260.69 L34.50,261.03 L35.00,261.49 L35.50,261.99 L36.00,262.46 L36.50,262.79 L37.00,262.93 L37.50,262.94 L38.00,262.99 L38.50,263.06 L39.00,263.15 L39.50,263.25 L40.00,263.34 L40.50,263.43 L41.00,263.50 L41.50,263.55 L42.00,263.57 L42.50,263.66 L43.00,263.91 L43.50,264.25 L44.00,264.65 L44.50,265.04 L45.00,265.38 L45.50,265.63 L46.00,265.72 L46.50,265.81 L47.00,266.06 L47.50,266.40 L48.00,266.80 L48.50,267.19 L49.00,267.53 L49.50,267.78 L50.00,267.87 L50.50,267.87 L51.00,267.88 L51.50,267.90 L52.00,267.92 L52.50,267.95 L53.00,267.98 L53.50,268.01 L54.00,268.05 L54.50,268.09 L55.00,268.12 L55.50,268.16 L56.00,268.19 L56.50,268.22 L57.00,268.25 L57.50,268.27 L58.00,268.29 L58.50,268.30 L59.00,268.30" fill="none" stroke="#4a9cbf" stroke-width="0.65" stroke-opacity="0.9"/>
<text x="48.40" y="254.30">MHC-I</text>
<rect x="10.80" y="270.78" width="7.20" height="22.00" fill="#e2e3e5"/>
<rect x="18.00" y="270.78" width="6.20" height="22.00" fill="#f3caae"/>
<rect x="24.20" y="270.78" width="4.80" height="22.00" fill="#c2dcc0"/>
<rect x="29.00" y="270.78" width="30.00" height="22.00" fill="#f1f5d2"/>
<line x1="11.20" y1="270.78" x2="11.20" y2="292.78" stroke="#c4c5c9" stroke-width="0.8"/>
<line x1="11.20" y1="287.28" x2="12.40" y2="287.28" stroke="#b8b8bc" stroke-width="0.4"/>
<line x1="11.20" y1="281.78" x2="12.40" y2="281.78" stroke="#b8b8bc" stroke-width="0.4"/>
<line x1="11.20" y1="276.28" x2="12.40" y2="276.28" stroke="#b8b8bc" stroke-width="0.4"/>
<line x1="10.80" y1="292.78" x2="59.00" y2="292.78" stroke="#9aaaa4" stroke-width="0.7"/>
<line x1="29.00" y1="292.78" x2="29.00" y2="291.78" stroke="#9aa" stroke-width="0.4"/>
<line x1="41.50" y1="292.78" x2="41.50" y2="291.78" stroke="#9aa" stroke-width="0.4"/>
<line x1="53.50" y1="292.78" x2="53.50" y2="291.78" stroke="#9aa" stroke-width="0.4"/>
<path d="M12.00,291.41 L12.50,291.39 L13.00,291.35 L13.50,291.30 L14.00,291.25 L14.50,291.21 L15.00,291.19 L15.50,290.77 L16.00,289.75 L16.50,288.54 L17.00,287.53 L17.50,287.11 L18.00,286.43 L18.50,284.83 L19.00,282.93 L19.50,281.33 L20.00,280.66 L20.50,280.42 L21.00,279.80 L21.50,278.96 L22.00,278.02 L22.50,277.15 L23.00,276.47 L23.50,276.15 L24.00,276.29 L24.50,276.81 L25.00,277.57 L25.50,278.41 L26.00,279.20 L26.50,279.78 L27.00,280.01 L27.50,280.16 L28.00,280.55 L28.50,281.10 L29.00,281.73 L29.50,282.36 L30.00,282.91 L30.50,283.30 L31.00,283.45 L31.50,283.59 L32.00,283.95 L32.50,284.42 L33.00,284.88 L33.50,285.24 L34.00,285.38 L34.50,285.54 L35.00,285.93 L35.50,286.46 L36.00,287.00 L36.50,287.46 L37.00,287.72 L37.50,287.76 L38.00,287.80 L38.50,287.87 L39.00,287.95 L39.50,288.03 L40.00,288.11 L40.50,288.16 L41.00,288.18 L41.50,288.20 L42.00,288.24 L42.50,288.30 L43.00,288.38 L43.50,288.48 L44.00,288.58 L44.50,288.68 L45.00,288.78 L45.50,288.87 L46.00,288.95 L46.50,289.00 L47.00,289.03 L47.50,289.05 L48.00,289.17 L48.50,289.39 L49.00,289.68 L49.50,290.01 L50.00,290.35 L50.50,290.67 L51.00,290.94 L51.50,291.12 L52.00,291.19 L52.50,291.19 L53.00,291.20 L53.50,291.22 L54.00,291.23 L54.50,291.25 L55.00,291.27 L55.50,291.30 L56.00,291.32 L56.50,291.34 L57.00,291.36 L57.50,291.38 L58.00,291.39 L58.50,291.40 L59.00,291.41" fill="none" stroke="#4a9cbf" stroke-width="0.65" stroke-opacity="0.9"/>
<text x="48.70" y="278.20">Calreticulin</text>
<rect x="10.80" y="294.96" width="7.20" height="22.00" fill="#e2e3e5"/>
<rect x="18.00" y="294.96" width="6.20" height="22.00" fill="#f3caae"/>
<rect x="24.20" y="294.96" width="4.80" height="22.00" fill="#c2dcc0"/>
<rect x="29.00" y="294.96" width="30.00" height="22.00" fill="#f1f5d2"/>
<line x1="11.20" y1="294.96" x2="11.20" y2="316.96" stroke="#c4c5c9" stroke-width="0.8"/>
<line x1="11.20" y1="311.46" x2="12.40" y2="311.46" stroke="#b8b8bc" stroke-width="0.4"/>
<line x1="11.20" y1="305.96" x2="12.40" y2="305.96" stroke="#b8b8bc" stroke-width="0.4"/>
<line x1="11.20" y1="300.46" x2="12.40" y2="300.46" stroke="#b8b8bc" stroke-width="0.4"/>
<line x1="10.80" y1="316.96" x2="59.00" y2="316.96" stroke="#9aaaa4" stroke-width="0.7"/>
<line x1="29.00" y1="316.96" x2="29.00" y2="315.96" stroke="#9aa" stroke-width="0.4"/>
<line x1="41.50" y1="316.96" x2="41.50" y2="315.96" stroke="#9aa" stroke-width="0.4"/>
<line x1="53.50" y1="316.96" x2="53.50" y2="315.96" stroke="#9aa" stroke-width="0.4"/>
<path d="M12.00,316.66 L12.50,316.66 L13.00,316.66 L13.50,316.66 L14.00,316.66 L14.50,316.66 L15.00,316.66 L15.50,316.66 L16.00,316.66 L16.50,316.66 L17.00,316.66 L17.50,316.66 L18.00,316.10 L18.50,314.77 L19.00,313.18 L19.50,311.84 L20.00,311.28 L20.50,310.93 L21.00,309.98 L21.50,308.61 L22.00,306.98 L22.50,305.27 L23.00,303.64 L23.50,302.27 L24.00,301.32 L24.50,300.96 L25.00,301.02 L25.50,301.18 L26.00,301.39 L26.50,301.63 L27.00,301.88 L27.50,302.08 L28.00,302.22 L28.50,302.25 L29.00,302.22 L29.50,302.14 L30.00,302.03 L30.50,301.91 L31.00,301.79 L31.50,301.69 L32.00,301.63 L32.50,301.62 L33.00,301.80 L33.50,302.18 L34.00,302.70 L34.50,303.28 L35.00,303.86 L35.50,304.35 L36.00,304.70 L36.50,304.83 L37.00,304.57 L37.50,303.87 L38.00,302.88 L38.50,301.73 L39.00,300.57 L39.50,299.53 L40.00,298.76 L40.50,298.40 L41.00,298.40 L41.50,298.46 L42.00,298.56 L42.50,298.69 L43.00,298.83 L43.50,298.98 L44.00,299.13 L44.50,299.26 L45.00,299.36 L45.50,299.43 L46.00,299.46 L46.50,299.52 L47.00,299.70 L47.50,299.94 L48.00,300.21 L48.50,300.49 L49.00,300.73 L49.50,300.90 L50.00,300.96 L50.50,301.39 L51.00,302.50 L51.50,304.01 L52.00,305.66 L52.50,307.17 L53.00,308.28 L53.50,308.70 L54.00,308.89 L54.50,309.40 L55.00,310.14 L55.50,311.05 L56.00,312.04 L56.50,313.02 L57.00,313.93 L57.50,314.68 L58.00,315.18 L58.50,315.37 L59.00,315.58" fill="none" stroke="#4a9cbf" stroke-width="0.65" stroke-opacity="0.9"/>
<text x="48.70" y="302.10">Galectin-3</text>
<rect x="105.10" y="219.20" width="4.40" height="4.40" fill="#8e8f94"/>
<text x="113.80" y="224.00">Immediate</text>
<rect x="105.10" y="228.75" width="4.40" height="4.40" fill="#e87a3d"/>
<text x="113.80" y="233.55">Proximal</text>
<rect x="105.10" y="238.30" width="4.40" height="4.40" fill="#5aa74b"/>
<text x="113.80" y="243.10">Border</text>
<rect x="105.10" y="247.85" width="4.40" height="4.40" fill="#f6b72a"/>
<text x="113.80" y="252.65">Distal</text>
<text x="0.00" y="0.00" font-size="7.25" text-anchor="middle" transform="translate(6.5 174.5) rotate(-90)">Relative abundance</text>
<text x="35.00" y="328.60" text-anchor="middle">Distance</text>
<text x="199.20" y="7.60" font-size="10.4" font-weight="bold" fill="#111">b</text>
<line x1="229.50" y1="163.95" x2="322.50" y2="163.95" stroke="#ececec" stroke-width="0.6"/>
<line x1="229.50" y1="148.90" x2="322.50" y2="148.90" stroke="#ececec" stroke-width="0.6"/>
<line x1="229.50" y1="133.85" x2="322.50" y2="133.85" stroke="#ececec" stroke-width="0.6"/>
<line x1="229.50" y1="118.80" x2="322.50" y2="118.80" stroke="#ececec" stroke-width="0.6"/>
<line x1="229.50" y1="103.75" x2="322.50" y2="103.75" stroke="#ececec" stroke-width="0.6"/>
<line x1="229.50" y1="88.70" x2="322.50" y2="88.70" stroke="#ececec" stroke-width="0.6"/>
<line x1="229.50" y1="73.65" x2="322.50" y2="73.65" stroke="#ececec" stroke-width="0.6"/>
<line x1="229.50" y1="58.60" x2="322.50" y2="58.60" stroke="#ececec" stroke-width="0.6"/>
<line x1="229.50" y1="43.55" x2="322.50" y2="43.55" stroke="#ececec" stroke-width="0.6"/>
<line x1="229.50" y1="28.50" x2="322.50" y2="28.50" stroke="#ececec" stroke-width="0.6"/>
<line x1="229.50" y1="179.00" x2="322.50" y2="179.00" stroke="#e0e0e0" stroke-width="0.7"/>
<text x="225.20" y="181.60" text-anchor="end">0</text>
<text x="225.20" y="151.50" text-anchor="end">20</text>
<text x="225.20" y="121.40" text-anchor="end">40</text>
<text x="225.20" y="91.30" text-anchor="end">60</text>
<text x="225.20" y="61.20" text-anchor="end">80</text>
<text x="225.20" y="31.10" text-anchor="end">100</text>
<text x="0.00" y="0.00" text-anchor="middle" transform="translate(205.8 97.5) rotate(-90)">Percentage of positive cells</text>
<rect x="237.00" y="165.61" width="9.00" height="13.44" fill="#2f68b3"/>
<rect x="237.00" y="163.35" width="9.00" height="2.31" fill="#a2a2a2"/>
<rect x="237.00" y="82.23" width="9.00" height="81.17" fill="#f7b92c"/>
<rect x="237.00" y="80.57" width="9.00" height="1.71" fill="#4a92d0"/>
<rect x="237.00" y="78.17" width="9.00" height="2.46" fill="#f7b92c"/>
<rect x="237.00" y="76.51" width="9.00" height="1.71" fill="#2c5fa8"/>
<rect x="237.00" y="28.50" width="9.00" height="48.06" fill="#d5652a"/>
<rect x="260.00" y="167.02" width="9.00" height="12.03" fill="#2f68b3"/>
<rect x="260.00" y="122.54" width="9.00" height="44.53" fill="#f7b92c"/>
<rect x="260.00" y="97.69" width="9.00" height="24.91" fill="#4a92d0"/>
<rect x="260.00" y="91.84" width="9.00" height="5.89" fill="#5eaa4e"/>
<rect x="260.00" y="90.80" width="9.00" height="1.10" fill="#b35a27"/>
<rect x="260.00" y="75.52" width="9.00" height="15.32" fill="#2f5e2d"/>
<rect x="260.00" y="44.82" width="9.00" height="30.75" fill="#eb9261"/>
<rect x="260.00" y="39.88" width="9.00" height="4.99" fill="#f7b92c"/>
<rect x="260.00" y="37.63" width="9.00" height="2.30" fill="#2c5fa8"/>
<rect x="260.00" y="28.50" width="9.00" height="9.18" fill="#d5652a"/>
<rect x="283.10" y="177.80" width="9.00" height="1.25" fill="#2f68b3"/>
<rect x="283.10" y="143.96" width="9.00" height="33.89" fill="#a2a2a2"/>
<rect x="283.10" y="95.14" width="9.00" height="48.87" fill="#f7b92c"/>
<rect x="283.10" y="89.60" width="9.00" height="5.59" fill="#4a92d0"/>
<rect x="283.10" y="78.37" width="9.00" height="11.28" fill="#5eaa4e"/>
<rect x="283.10" y="73.87" width="9.00" height="4.54" fill="#1f3f80"/>
<rect x="283.10" y="69.38" width="9.00" height="4.54" fill="#9c7a12"/>
<rect x="283.10" y="67.59" width="9.00" height="1.85" fill="#596e27"/>
<rect x="283.10" y="55.31" width="9.00" height="12.33" fill="#eb9261"/>
<rect x="283.10" y="44.37" width="9.00" height="10.98" fill="#f7b92c"/>
<rect x="283.10" y="40.78" width="9.00" height="3.64" fill="#2c5fa8"/>
<rect x="283.10" y="28.50" width="9.00" height="12.33" fill="#d5652a"/>
<rect x="306.50" y="174.79" width="9.00" height="4.26" fill="#2f68b3"/>
<rect x="306.50" y="171.32" width="9.00" height="3.51" fill="#a2a2a2"/>
<rect x="306.50" y="93.06" width="9.00" height="78.31" fill="#f7b92c"/>
<rect x="306.50" y="91.71" width="9.00" height="1.40" fill="#2c5fa8"/>
<rect x="306.50" y="28.50" width="9.00" height="63.26" fill="#d5652a"/>
<text x="241.50" y="17.30" text-anchor="middle"><tspan font-style="italic">n</tspan> =</text>
<text x="241.50" y="25.20" text-anchor="middle">200</text>
<text x="264.50" y="17.30" text-anchor="middle"><tspan font-style="italic">n</tspan> =</text>
<text x="264.50" y="25.20" text-anchor="middle">506</text>
<text x="287.60" y="17.30" text-anchor="middle"><tspan font-style="italic">n</tspan> =</text>
<text x="287.60" y="25.20" text-anchor="middle">771</text>
<text x="311.00" y="17.30" text-anchor="middle"><tspan font-style="italic">n</tspan> =</text>
<text x="311.00" y="25.20" text-anchor="middle">1,092</text>
<text x="0.00" y="0.00" text-anchor="end" transform="translate(244.30 188.60) rotate(-33)">PD-L1 remote</text>
<text x="0.00" y="0.00" text-anchor="end" transform="translate(267.30 188.60) rotate(-33)">ICAM-1 proximal</text>
<text x="0.00" y="0.00" text-anchor="end" transform="translate(290.40 188.60) rotate(-33)">Galectin-3 border</text>
<text x="0.00" y="0.00" text-anchor="end" transform="translate(313.80 188.60) rotate(-33)">Galectin-3 distal</text>
<rect x="330.30" y="16.70" width="3.00" height="3.00" fill="#d5652a"/>
<text x="339.00" y="20.80">Other</text>
<rect x="330.30" y="25.62" width="3.00" height="3.00" fill="#2c5fa8"/>
<text x="339.00" y="29.72">Mesenchymal cells</text>
<rect x="330.30" y="34.54" width="3.00" height="3.00" fill="#5eaa4e"/>
<text x="339.00" y="38.64">Pericytes</text>
<rect x="330.30" y="43.46" width="3.00" height="3.00" fill="#4a92d0"/>
<text x="339.00" y="47.56">Endothelial cells</text>
<rect x="330.30" y="52.38" width="3.00" height="3.00" fill="#f7b92c"/>
<text x="339.00" y="56.48">Arg1<tspan baseline-shift="super" font-size="4.5">−</tspan>MPO<tspan baseline-shift="super" font-size="4.5">−</tspan> neutrophils</text>
<rect x="330.30" y="61.30" width="3.00" height="3.00" fill="#a2a2a2"/>
<text x="339.00" y="65.40">Arg1<tspan baseline-shift="super" font-size="4.5">+</tspan>MPO<tspan baseline-shift="super" font-size="4.5">+</tspan> neutrophils</text>
<rect x="330.30" y="70.22" width="3.00" height="3.00" fill="#eb9261"/>
<text x="339.00" y="74.32">Arg1<tspan baseline-shift="super" font-size="4.5">−</tspan>MPO<tspan baseline-shift="super" font-size="4.5">+</tspan> neutrophils</text>
<rect x="330.30" y="79.14" width="3.00" height="3.00" fill="#4a79c2"/>
<text x="339.00" y="83.24">Arg1<tspan baseline-shift="super" font-size="4.5">+</tspan>MPO<tspan baseline-shift="super" font-size="4.5">−</tspan> neutrophils</text>
<rect x="330.30" y="88.06" width="3.00" height="3.00" fill="#2f5e2d"/>
<text x="339.00" y="92.16">Dendritic cells</text>
<rect x="330.30" y="96.98" width="3.00" height="3.00" fill="#2b6cb0"/>
<text x="339.00" y="101.08">F4/80<tspan baseline-shift="super" font-size="4.5">+</tspan>CD11c<tspan baseline-shift="super" font-size="4.5">+</tspan> leukocytes</text>
<rect x="330.30" y="105.90" width="3.00" height="3.00" fill="#9c7a12"/>
<text x="339.00" y="110.00">Macrophages</text>
<rect x="330.30" y="114.82" width="3.00" height="3.00" fill="#5e5e5e"/>
<text x="339.00" y="118.92">CD4<tspan baseline-shift="super" font-size="4.5">+</tspan>CD8<tspan baseline-shift="super" font-size="4.5">+</tspan> T cells</text>
<rect x="330.30" y="123.74" width="3.00" height="3.00" fill="#b35a27"/>
<text x="339.00" y="127.84">CD8<tspan baseline-shift="super" font-size="4.5">+</tspan> T cells</text>
<rect x="330.30" y="132.66" width="3.00" height="3.00" fill="#1f3f80"/>
<text x="339.00" y="136.76">CD4<tspan baseline-shift="super" font-size="4.5">+</tspan> T cells</text>
<rect x="330.30" y="141.58" width="3.00" height="3.00" fill="#5eaa4e"/>
<text x="339.00" y="145.68">MPO<tspan baseline-shift="super" font-size="4.5">−</tspan> phagocytic neutrophils</text>
<rect x="330.30" y="150.50" width="3.00" height="3.00" fill="#4a92d0"/>
<text x="339.00" y="154.60">MPO<tspan baseline-shift="super" font-size="4.5">+</tspan> phagocytic neutrophils</text>
<rect x="330.30" y="159.42" width="3.00" height="3.00" fill="#f7b92c"/>
<text x="339.00" y="163.52">Ki67<tspan baseline-shift="super" font-size="4.5">−</tspan>Sox9<tspan baseline-shift="super" font-size="4.5">−</tspan> epithelial cells</text>
<rect x="330.30" y="168.34" width="3.00" height="3.00" fill="#a2a2a2"/>
<text x="339.00" y="172.44">Ki67<tspan baseline-shift="super" font-size="4.5">−</tspan>Sox9<tspan baseline-shift="super" font-size="4.5">+</tspan> epithelial cells</text>
<rect x="330.30" y="177.26" width="3.00" height="3.00" fill="#e87a3d"/>
<text x="339.00" y="181.36">Ki67<tspan baseline-shift="super" font-size="4.5">+</tspan>Sox9<tspan baseline-shift="super" font-size="4.5">+</tspan> epithelial cells</text>
<rect x="330.30" y="186.18" width="3.00" height="3.00" fill="#2f68b3"/>
<text x="339.00" y="190.28">Ki67<tspan baseline-shift="super" font-size="4.5">+</tspan>Sox9<tspan baseline-shift="super" font-size="4.5">−</tspan> epithelial cells</text>
<text x="466.40" y="8.00" font-size="10.4" font-weight="bold" fill="#111">c</text>
<g clip-path="url(#cTop)">
<rect x="474.80" y="11.90" width="178.90" height="100.90" fill="#141a48"/>
<rect x="474.8" y="11.9" width="178.9" height="100.9" filter="url(#nzT)" opacity="0.6"/>
<path d="M488.00,113.00 C462.83,110.50 499.67,103.17 505.00,98.00 C510.33,92.83 515.00,87.33 520.00,82.00 C525.00,76.67 530.33,71.33 535.00,66.00 C539.67,60.67 544.33,54.83 548.00,50.00 C551.67,45.17 554.33,40.17 557.00,37.00 C559.67,33.83 561.50,31.17 564.00,31.00 C566.50,30.83 568.50,33.50 572.00,36.00 C575.50,38.50 580.67,42.33 585.00,46.00 C589.33,49.67 593.00,53.67 598.00,58.00 C603.00,62.33 609.33,67.33 615.00,72.00 C620.67,76.67 626.50,81.67 632.00,86.00 C637.50,90.33 644.00,93.50 648.00,98.00 C652.00,102.50 682.67,110.50 656.00,113.00 C629.33,115.50 513.17,115.50 488.00,113.00 Z" fill="#1c1349" filter="url(#b2)"/>
<rect x="474.8" y="11.9" width="178.9" height="100.9" filter="url(#nzD)" opacity="0.7"/>
<g mask="url(#mRedTop)">
<rect x="474.80" y="11.90" width="178.90" height="100.90" fill="#b0184e" opacity="0.3"/>
<rect x="474.8" y="11.9" width="178.9" height="100.9" filter="url(#nzR)"/>
<rect x="474.8" y="11.9" width="178.9" height="100.9" filter="url(#nzR2)" opacity="0.6"/>
<rect x="474.8" y="11.9" width="178.9" height="100.9" filter="url(#nzR3)"/>
</g>
<path d="M508.00,113.00 C510.00,110.50 514.67,102.17 520.00,98.00 C525.33,93.83 533.33,90.17 540.00,88.00 C546.67,85.83 553.33,85.00 560.00,85.00 C566.67,85.00 573.33,86.17 580.00,88.00 C586.67,89.83 594.17,91.83 600.00,96.00 C605.83,100.17 612.50,110.17 615.00,113.00" fill="none" stroke="#1a1450" stroke-width="5" opacity="0.8" filter="url(#b1)"/>
<ellipse cx="559" cy="121" rx="39" ry="24" fill="#0a0822" filter="url(#b2)"/>
<ellipse cx="559" cy="123" rx="33" ry="22" fill="#04030c" filter="url(#b2)" opacity="0.9"/>
<path d="M533,57 C537,52 541,46 545,43 C548,40 550,37 551,35" fill="none" stroke="#05040a" stroke-width="1.6"/>
<path d="M564,19 C566,21 568,23 570,25" fill="none" stroke="#05040a" stroke-width="1.2"/>
<path d="M633,84 C637,82 641,80 645,78 C647,77 648,76 649,74" fill="none" stroke="#05040a" stroke-width="1.3"/>
</g>
<rect x="584.5" y="52.5" width="20" height="20" fill="none" stroke="#d8d8d8" stroke-width="0.8" stroke-dasharray="2.2,1.4"/>
<text x="607.30" y="59.50" font-size="5" fill="#8a9">1</text>
<rect x="633.00" y="105.60" width="14.00" height="2.80" fill="#ffffff"/>
<text x="615.6" y="20.6" fill="#2fb04c">Sox9 <tspan fill="#ec4f2c">CC3</tspan></text>
<g clip-path="url(#cBL)">
<rect x="475.00" y="116.80" width="87.10" height="85.60" fill="#201864"/>
<rect x="475" y="116.8" width="87.1" height="85.6" filter="url(#nzP)" opacity="0.7"/>
<rect x="475" y="116.8" width="87.1" height="85.6" filter="url(#nzD)" opacity="0.8"/>
<ellipse cx="500" cy="138" rx="22" ry="12" fill="#a81c55" opacity="0.35" filter="url(#b4)"/>
<ellipse cx="532" cy="128" rx="20" ry="9" fill="#a81c55" opacity="0.3" filter="url(#b4)"/>
<ellipse cx="545" cy="152" rx="14" ry="12" fill="#a81c55" opacity="0.25" filter="url(#b4)"/>
<ellipse cx="488" cy="125" rx="10" ry="6" fill="#a81c55" opacity="0.35" filter="url(#b4)"/>
<ellipse cx="482" cy="168" rx="8" ry="12" fill="#a81c55" opacity="0.25" filter="url(#b4)"/>
<ellipse cx="486.5" cy="124.9" rx="2.5" ry="1.9" transform="rotate(39 486.5 124.9)" fill="#a8d040" opacity="0.78" filter="url(#b06)"/>
<ellipse cx="493.3" cy="119.6" rx="2.5" ry="1.7" transform="rotate(-47 493.3 119.6)" fill="#70b870" opacity="0.79" filter="url(#b06)"/>
<ellipse cx="479.2" cy="130.6" rx="2.2" ry="1.5" transform="rotate(-48 479.2 130.6)" fill="#80b060" opacity="0.83" filter="url(#b06)"/>
<ellipse cx="483.9" cy="135.8" rx="2.3" ry="1.8" transform="rotate(4 483.9 135.8)" fill="#50c060" opacity="0.82" filter="url(#b06)"/>
<ellipse cx="486.5" cy="138.9" rx="2.0" ry="1.6" transform="rotate(47 486.5 138.9)" fill="#a8d040" opacity="0.80" filter="url(#b06)"/>
<ellipse cx="491.2" cy="140" rx="2.1" ry="1.7" transform="rotate(31 491.2 140)" fill="#c0e050" opacity="0.91" filter="url(#b06)"/>
<ellipse cx="490.7" cy="144.6" rx="1.8" ry="1.5" transform="rotate(36 490.7 144.6)" fill="#e09030" opacity="0.91" filter="url(#b06)"/>
<ellipse cx="486" cy="146.7" rx="2.4" ry="1.9" transform="rotate(27 486 146.7)" fill="#50a060" opacity="0.90" filter="url(#b06)"/>
<ellipse cx="501" cy="155" rx="2.2" ry="1.9" transform="rotate(-13 501 155)" fill="#e03060" opacity="0.89" filter="url(#b06)"/>
<ellipse cx="496.9" cy="156.1" rx="2.5" ry="1.5" transform="rotate(-53 496.9 156.1)" fill="#e09030" opacity="0.76" filter="url(#b06)"/>
<ellipse cx="500.6" cy="160.3" rx="2.1" ry="1.8" transform="rotate(47 500.6 160.3)" fill="#50c060" opacity="0.70" filter="url(#b06)"/>
<ellipse cx="513.6" cy="137.4" rx="2.0" ry="1.5" transform="rotate(27 513.6 137.4)" fill="#60e070" opacity="0.84" filter="url(#b06)"/>
<ellipse cx="508.4" cy="140.5" rx="2.5" ry="1.8" transform="rotate(23 508.4 140.5)" fill="#e0d040" opacity="0.89" filter="url(#b06)"/>
<ellipse cx="511" cy="135.3" rx="2.6" ry="1.4" transform="rotate(-31 511 135.3)" fill="#50d060" opacity="0.85" filter="url(#b06)"/>
<ellipse cx="517.8" cy="136.8" rx="2.4" ry="1.7" transform="rotate(-2 517.8 136.8)" fill="#60d060" opacity="0.89" filter="url(#b06)"/>
<ellipse cx="517.2" cy="130.6" rx="2.1" ry="1.7" transform="rotate(-20 517.2 130.6)" fill="#70b070" opacity="0.90" filter="url(#b06)"/>
<ellipse cx="513.6" cy="130" rx="2.1" ry="1.7" transform="rotate(-17 513.6 130)" fill="#60a060" opacity="0.94" filter="url(#b06)"/>
<ellipse cx="513.9" cy="135.1" rx="2.6" ry="1.8" transform="rotate(59 513.9 135.1)" fill="#70e070" opacity="0.95" filter="url(#b06)"/>
<ellipse cx="525.0" cy="141.9" rx="1.9" ry="1.5" transform="rotate(2 525.0 141.9)" fill="#c83058" opacity="0.85" filter="url(#b06)"/>
<ellipse cx="527.1" cy="152.4" rx="2.3" ry="1.4" transform="rotate(-31 527.1 152.4)" fill="#70e070" opacity="0.73" filter="url(#b06)"/>
<ellipse cx="550.9" cy="183.5" rx="2.1" ry="1.6" transform="rotate(-9 550.9 183.5)" fill="#a8d048" opacity="0.89" filter="url(#b06)"/>
<ellipse cx="493.6" cy="119.8" rx="2.1" ry="1.6" transform="rotate(50 493.6 119.8)" fill="#60c060" opacity="0.92" filter="url(#b06)"/>
<ellipse cx="536.8" cy="155.4" rx="2.4" ry="1.6" transform="rotate(53 536.8 155.4)" fill="#50d060" opacity="0.86" filter="url(#b06)"/>
<ellipse cx="542.0" cy="161.5" rx="2.2" ry="1.6" transform="rotate(-31 542.0 161.5)" fill="#40b868" opacity="0.79" filter="url(#b06)"/>
<ellipse cx="561.4" cy="181.7" rx="2.0" ry="1.7" transform="rotate(47 561.4 181.7)" fill="#70e070" opacity="0.84" filter="url(#b06)"/>
<ellipse cx="534.2" cy="142.7" rx="2.6" ry="1.8" transform="rotate(-28 534.2 142.7)" fill="#50d060" opacity="0.79" filter="url(#b06)"/>
<ellipse cx="523.1" cy="152.0" rx="2.6" ry="1.5" transform="rotate(15 523.1 152.0)" fill="#40b868" opacity="0.86" filter="url(#b06)"/>
<ellipse cx="522.7" cy="161.4" rx="1.9" ry="1.7" transform="rotate(16 522.7 161.4)" fill="#50d060" opacity="0.86" filter="url(#b06)"/>
<ellipse cx="538.0" cy="160.4" rx="2.0" ry="1.6" transform="rotate(-13 538.0 160.4)" fill="#d8a840" opacity="0.79" filter="url(#b06)"/>
<ellipse cx="504.0" cy="152.3" rx="2.6" ry="1.6" transform="rotate(4 504.0 152.3)" fill="#d8a840" opacity="0.85" filter="url(#b06)"/>
<ellipse cx="496.8" cy="136.1" rx="1.9" ry="1.7" transform="rotate(53 496.8 136.1)" fill="#70e070" opacity="0.75" filter="url(#b06)"/>
<ellipse cx="526.0" cy="160.5" rx="2.1" ry="1.6" transform="rotate(-16 526.0 160.5)" fill="#40b868" opacity="0.91" filter="url(#b06)"/>
<ellipse cx="490.5" cy="121.4" rx="1.9" ry="1.6" transform="rotate(24 490.5 121.4)" fill="#a8d048" opacity="0.86" filter="url(#b06)"/>
<ellipse cx="499.6" cy="127.7" rx="1.8" ry="1.6" transform="rotate(8 499.6 127.7)" fill="#d8a840" opacity="0.72" filter="url(#b06)"/>
<ellipse cx="511.3" cy="139.3" rx="2.3" ry="1.5" transform="rotate(-28 511.3 139.3)" fill="#c83058" opacity="0.74" filter="url(#b06)"/>
<ellipse cx="508.5" cy="150.7" rx="2.2" ry="1.4" transform="rotate(-21 508.5 150.7)" fill="#c83058" opacity="0.74" filter="url(#b06)"/>
<ellipse cx="514.8" cy="133.1" rx="2.2" ry="1.5" transform="rotate(47 514.8 133.1)" fill="#60c060" opacity="0.87" filter="url(#b06)"/>
<ellipse cx="501.4" cy="123.5" rx="2.0" ry="1.5" transform="rotate(-45 501.4 123.5)" fill="#50d060" opacity="0.86" filter="url(#b06)"/>
<ellipse cx="503.5" cy="119.1" rx="2.3" ry="1.6" transform="rotate(-21 503.5 119.1)" fill="#a8d048" opacity="0.81" filter="url(#b06)"/>
<ellipse cx="531.1" cy="150.5" rx="2.5" ry="1.6" transform="rotate(-1 531.1 150.5)" fill="#d8a840" opacity="0.80" filter="url(#b06)"/>
<ellipse cx="534.2" cy="169.2" rx="2.0" ry="1.9" transform="rotate(-35 534.2 169.2)" fill="#c83058" opacity="0.76" filter="url(#b06)"/>
<ellipse cx="514.0" cy="160.5" rx="2.2" ry="1.8" transform="rotate(4 514.0 160.5)" fill="#c83058" opacity="0.86" filter="url(#b06)"/>
<ellipse cx="554.5" cy="178.9" rx="2.4" ry="1.8" transform="rotate(-17 554.5 178.9)" fill="#50d060" opacity="0.79" filter="url(#b06)"/>
<ellipse cx="517.6" cy="132.0" rx="2.0" ry="1.4" transform="rotate(53 517.6 132.0)" fill="#c83058" opacity="0.87" filter="url(#b06)"/>
<ellipse cx="539.0" cy="168.9" rx="2.0" ry="1.7" transform="rotate(-23 539.0 168.9)" fill="#d8a840" opacity="0.93" filter="url(#b06)"/>
<ellipse cx="492.1" cy="121.7" rx="1.9" ry="1.8" transform="rotate(-7 492.1 121.7)" fill="#d8a840" opacity="0.84" filter="url(#b06)"/>
<ellipse cx="518.0" cy="155.1" rx="1.9" ry="1.6" transform="rotate(46 518.0 155.1)" fill="#50d060" opacity="0.71" filter="url(#b06)"/>
<ellipse cx="512.9" cy="136.6" rx="1.8" ry="1.5" transform="rotate(-21 512.9 136.6)" fill="#d8a840" opacity="0.76" filter="url(#b06)"/>
<ellipse cx="530.8" cy="170.7" rx="2.0" ry="1.8" transform="rotate(10 530.8 170.7)" fill="#40b868" opacity="0.79" filter="url(#b06)"/>
<ellipse cx="536.0" cy="161.3" rx="2.2" ry="1.7" transform="rotate(59 536.0 161.3)" fill="#60c060" opacity="0.75" filter="url(#b06)"/>
<ellipse cx="528.7" cy="160.9" rx="2.5" ry="1.6" transform="rotate(7 528.7 160.9)" fill="#70e070" opacity="0.93" filter="url(#b06)"/>
<ellipse cx="556.9" cy="152.0" rx="2.5" ry="1.7" transform="rotate(-14 556.9 152.0)" fill="#40b868" opacity="0.90" filter="url(#b06)"/>
<ellipse cx="527.6" cy="141.6" rx="1.9" ry="1.5" transform="rotate(48 527.6 141.6)" fill="#48c868" opacity="0.84" filter="url(#b06)"/>
<ellipse cx="540.4" cy="168.6" rx="2.4" ry="1.5" transform="rotate(8 540.4 168.6)" fill="#c83058" opacity="0.84" filter="url(#b06)"/>
<ellipse cx="539.4" cy="164.8" rx="2.2" ry="1.6" transform="rotate(6 539.4 164.8)" fill="#40b868" opacity="0.75" filter="url(#b06)"/>
<ellipse cx="536.2" cy="157.8" rx="2.5" ry="1.8" transform="rotate(22 536.2 157.8)" fill="#48c868" opacity="0.71" filter="url(#b06)"/>
<ellipse cx="538.4" cy="163.1" rx="2.0" ry="1.9" transform="rotate(-11 538.4 163.1)" fill="#d8a840" opacity="0.79" filter="url(#b06)"/>
<ellipse cx="515.5" cy="151.6" rx="2.1" ry="1.4" transform="rotate(57 515.5 151.6)" fill="#40b868" opacity="0.93" filter="url(#b06)"/>
<ellipse cx="523.8" cy="143.4" rx="2.2" ry="1.8" transform="rotate(54 523.8 143.4)" fill="#c83058" opacity="0.89" filter="url(#b06)"/>
<ellipse cx="533.3" cy="152.8" rx="2.1" ry="1.4" transform="rotate(4 533.3 152.8)" fill="#c83058" opacity="0.79" filter="url(#b06)"/>
<ellipse cx="494.6" cy="155.0" rx="2.5" ry="1.4" transform="rotate(41 494.6 155.0)" fill="#50d060" opacity="0.72" filter="url(#b06)"/>
<ellipse cx="543.8" cy="190.4" rx="2.3" ry="1.5" transform="rotate(-21 543.8 190.4)" fill="#40b868" opacity="0.75" filter="url(#b06)"/>
<ellipse cx="503.7" cy="136.6" rx="2.1" ry="1.8" transform="rotate(35 503.7 136.6)" fill="#60c060" opacity="0.80" filter="url(#b06)"/>
<ellipse cx="487.4" cy="132.4" rx="1.9" ry="1.7" transform="rotate(-55 487.4 132.4)" fill="#a8d048" opacity="0.92" filter="url(#b06)"/>
<ellipse cx="520.8" cy="143.6" rx="2.3" ry="1.6" transform="rotate(-24 520.8 143.6)" fill="#a8d048" opacity="0.79" filter="url(#b06)"/>
<ellipse cx="511.5" cy="126.8" rx="2.3" ry="1.8" transform="rotate(-46 511.5 126.8)" fill="#c83058" opacity="0.94" filter="url(#b06)"/>
<ellipse cx="545.7" cy="156.3" rx="1.9" ry="1.7" transform="rotate(-43 545.7 156.3)" fill="#d8a840" opacity="0.90" filter="url(#b06)"/>
<ellipse cx="511.6" cy="131.5" rx="2.2" ry="1.5" transform="rotate(10 511.6 131.5)" fill="#c83058" opacity="0.91" filter="url(#b06)"/>
<ellipse cx="547.0" cy="167.4" rx="2.5" ry="1.9" transform="rotate(-32 547.0 167.4)" fill="#c83058" opacity="0.91" filter="url(#b06)"/>
<ellipse cx="497.2" cy="131.0" rx="1.8" ry="1.5" transform="rotate(-2 497.2 131.0)" fill="#50d060" opacity="0.84" filter="url(#b06)"/>
<ellipse cx="511.9" cy="152.6" rx="2.4" ry="1.8" transform="rotate(45 511.9 152.6)" fill="#d8a840" opacity="0.76" filter="url(#b06)"/>
<ellipse cx="528.6" cy="127.3" rx="1.8" ry="1.6" transform="rotate(37 528.6 127.3)" fill="#60c060" opacity="0.81" filter="url(#b06)"/>
<ellipse cx="498.2" cy="131.2" rx="1.9" ry="1.4" transform="rotate(19 498.2 131.2)" fill="#40b868" opacity="0.79" filter="url(#b06)"/>
<ellipse cx="511.7" cy="138.6" rx="2.0" ry="1.7" transform="rotate(-13 511.7 138.6)" fill="#40b868" opacity="0.80" filter="url(#b06)"/>
<ellipse cx="502.4" cy="184.8" rx="2.1" ry="1.7" transform="rotate(8 502.4 184.8)" fill="#b03050" opacity="0.92" filter="url(#b06)"/>
<ellipse cx="503.9" cy="175.5" rx="2.3" ry="1.7" transform="rotate(-59 503.9 175.5)" fill="#40b060" opacity="0.77" filter="url(#b06)"/>
<ellipse cx="504.6" cy="173.3" rx="2.5" ry="1.6" transform="rotate(59 504.6 173.3)" fill="#b03050" opacity="0.91" filter="url(#b06)"/>
<ellipse cx="494.3" cy="171.6" rx="2.5" ry="1.5" transform="rotate(9 494.3 171.6)" fill="#50c060" opacity="0.87" filter="url(#b06)"/>
<ellipse cx="505.8" cy="194.6" rx="2.4" ry="1.5" transform="rotate(-45 505.8 194.6)" fill="#b03050" opacity="0.72" filter="url(#b06)"/>
<ellipse cx="509.3" cy="197.5" rx="2.6" ry="1.7" transform="rotate(35 509.3 197.5)" fill="#40b060" opacity="0.81" filter="url(#b06)"/>
<ellipse cx="505.3" cy="179.3" rx="2.5" ry="1.7" transform="rotate(-26 505.3 179.3)" fill="#40b060" opacity="0.89" filter="url(#b06)"/>
<ellipse cx="501.7" cy="195.8" rx="2.1" ry="1.9" transform="rotate(-20 501.7 195.8)" fill="#50c060" opacity="0.78" filter="url(#b06)"/>
<ellipse cx="487.2" cy="170.4" rx="2.3" ry="1.9" transform="rotate(-20 487.2 170.4)" fill="#40b060" opacity="0.87" filter="url(#b06)"/>
<ellipse cx="483.4" cy="175.9" rx="2.2" ry="1.5" transform="rotate(-32 483.4 175.9)" fill="#b03050" opacity="0.86" filter="url(#b06)"/>
</g>
<text x="507.2" y="126.7" fill="#2fb04c">Sox9 <tspan fill="#ec4f2c">Galectin-3</tspan></text>
<g clip-path="url(#cBR)">
<rect x="566.30" y="116.80" width="87.30" height="85.60" fill="#2a2278"/>
<rect x="566.3" y="116.8" width="87.3" height="85.6" filter="url(#nzP)" opacity="0.7"/>
<rect x="566.3" y="116.8" width="87.3" height="85.6" filter="url(#nzD)" opacity="0.8"/>
<g mask="url(#mRedBR)">
<rect x="566.30" y="116.80" width="87.30" height="85.60" fill="#d0184e" opacity="0.5"/>
<rect x="566.3" y="116.8" width="87.3" height="85.6" filter="url(#nzR)"/>
<rect x="566.3" y="116.8" width="87.3" height="85.6" filter="url(#nzR2)"/>
<rect x="566.3" y="116.8" width="87.3" height="85.6" filter="url(#nzP)" opacity="0.5"/>
</g>
<ellipse cx="617.4" cy="138.0" rx="2.2" ry="1.7" fill="#147a60" opacity="0.6" filter="url(#b06)"/>
<ellipse cx="649.3" cy="168.9" rx="2.2" ry="1.7" fill="#147a60" opacity="0.6" filter="url(#b06)"/>
<ellipse cx="620.7" cy="142.9" rx="2.2" ry="1.7" fill="#147a60" opacity="0.6" filter="url(#b06)"/>
<ellipse cx="627.8" cy="143.1" rx="2.2" ry="1.7" fill="#147a60" opacity="0.6" filter="url(#b06)"/>
<ellipse cx="626.4" cy="135.5" rx="2.2" ry="1.7" fill="#147a60" opacity="0.6" filter="url(#b06)"/>
<ellipse cx="652.2" cy="124.1" rx="2.2" ry="1.7" fill="#147a60" opacity="0.6" filter="url(#b06)"/>
<ellipse cx="613.1" cy="124.7" rx="2.2" ry="1.7" fill="#147a60" opacity="0.6" filter="url(#b06)"/>
<ellipse cx="642.2" cy="149.0" rx="2.2" ry="1.7" fill="#147a60" opacity="0.6" filter="url(#b06)"/>
<ellipse cx="600.4" cy="123.9" rx="2.2" ry="1.7" fill="#147a60" opacity="0.6" filter="url(#b06)"/>
<ellipse cx="634.8" cy="167.5" rx="2.2" ry="1.7" fill="#147a60" opacity="0.6" filter="url(#b06)"/>
<ellipse cx="621.4" cy="122.3" rx="2.2" ry="1.7" fill="#147a60" opacity="0.6" filter="url(#b06)"/>
<ellipse cx="649.3" cy="125.5" rx="2.2" ry="1.7" fill="#147a60" opacity="0.6" filter="url(#b06)"/>
<ellipse cx="617.3" cy="121.4" rx="2.2" ry="1.7" fill="#147a60" opacity="0.6" filter="url(#b06)"/>
<ellipse cx="627.0" cy="165.1" rx="2.2" ry="1.7" fill="#147a60" opacity="0.6" filter="url(#b06)"/>
<ellipse cx="605.9" cy="123.8" rx="2.2" ry="1.7" fill="#147a60" opacity="0.6" filter="url(#b06)"/>
<ellipse cx="654.5" cy="165.1" rx="2.2" ry="1.7" fill="#147a60" opacity="0.6" filter="url(#b06)"/>
<ellipse cx="608.1" cy="144.0" rx="2.2" ry="1.7" fill="#147a60" opacity="0.6" filter="url(#b06)"/>
<ellipse cx="642.1" cy="154.6" rx="2.2" ry="1.7" fill="#147a60" opacity="0.6" filter="url(#b06)"/>
<ellipse cx="605.7" cy="143.4" rx="2.2" ry="1.7" fill="#147a60" opacity="0.6" filter="url(#b06)"/>
<ellipse cx="646.3" cy="170.2" rx="2.2" ry="1.7" fill="#147a60" opacity="0.6" filter="url(#b06)"/>
<ellipse cx="625.0" cy="126.1" rx="2.2" ry="1.7" fill="#147a60" opacity="0.6" filter="url(#b06)"/>
<ellipse cx="637.1" cy="127.0" rx="2.2" ry="1.7" fill="#147a60" opacity="0.6" filter="url(#b06)"/>
<ellipse cx="604.1" cy="119.8" rx="2.2" ry="1.7" fill="#147a60" opacity="0.6" filter="url(#b06)"/>
<ellipse cx="635.4" cy="150.6" rx="2.2" ry="1.7" fill="#147a60" opacity="0.6" filter="url(#b06)"/>
<ellipse cx="600.1" cy="136.3" rx="2.2" ry="1.7" fill="#147a60" opacity="0.6" filter="url(#b06)"/>
<ellipse cx="636.5" cy="134.7" rx="2.2" ry="1.7" fill="#147a60" opacity="0.6" filter="url(#b06)"/>
<ellipse cx="622.9" cy="131.0" rx="2.2" ry="1.7" fill="#147a60" opacity="0.6" filter="url(#b06)"/>
<ellipse cx="635.8" cy="144.0" rx="2.2" ry="1.7" fill="#147a60" opacity="0.6" filter="url(#b06)"/>
<ellipse cx="619.7" cy="119.5" rx="2.2" ry="1.7" fill="#147a60" opacity="0.6" filter="url(#b06)"/>
<ellipse cx="654.3" cy="119.2" rx="2.2" ry="1.7" fill="#147a60" opacity="0.6" filter="url(#b06)"/>
<ellipse cx="621.0" cy="140.8" rx="2.2" ry="1.7" fill="#147a60" opacity="0.6" filter="url(#b06)"/>
<ellipse cx="627.5" cy="160.5" rx="2.2" ry="1.7" fill="#147a60" opacity="0.6" filter="url(#b06)"/>
<ellipse cx="610.3" cy="133.6" rx="2.2" ry="1.7" fill="#147a60" opacity="0.6" filter="url(#b06)"/>
<ellipse cx="627.3" cy="120.5" rx="2.2" ry="1.7" fill="#147a60" opacity="0.6" filter="url(#b06)"/>
<ellipse cx="605.1" cy="143.8" rx="2.2" ry="1.7" fill="#147a60" opacity="0.6" filter="url(#b06)"/>
<ellipse cx="632.5" cy="158.8" rx="2.2" ry="1.7" fill="#147a60" opacity="0.6" filter="url(#b06)"/>
<ellipse cx="626.0" cy="143.4" rx="2.2" ry="1.7" fill="#147a60" opacity="0.6" filter="url(#b06)"/>
<ellipse cx="636.6" cy="137.2" rx="2.2" ry="1.7" fill="#147a60" opacity="0.6" filter="url(#b06)"/>
<ellipse cx="614.7" cy="138.9" rx="2.2" ry="1.7" fill="#147a60" opacity="0.6" filter="url(#b06)"/>
<ellipse cx="630.0" cy="158.4" rx="2.2" ry="1.7" fill="#147a60" opacity="0.6" filter="url(#b06)"/>
<ellipse cx="577" cy="127" rx="2.6" ry="1.9" transform="rotate(-56 577 127)" fill="#28b068" opacity="0.94" filter="url(#b06)"/>
<ellipse cx="584" cy="134" rx="2.1" ry="1.7" transform="rotate(18 584 134)" fill="#28b068" opacity="0.93" filter="url(#b06)"/>
<ellipse cx="569" cy="139" rx="2.2" ry="2.0" transform="rotate(9 569 139)" fill="#30c874" opacity="0.81" filter="url(#b06)"/>
<ellipse cx="582" cy="141" rx="2.2" ry="1.6" transform="rotate(-50 582 141)" fill="#40d880" opacity="0.78" filter="url(#b06)"/>
<ellipse cx="603.3" cy="135" rx="2.5" ry="2.0" transform="rotate(-40 603.3 135)" fill="#40d880" opacity="0.76" filter="url(#b06)"/>
<ellipse cx="609" cy="133" rx="2.7" ry="1.8" transform="rotate(-9 609 133)" fill="#30c874" opacity="0.80" filter="url(#b06)"/>
<ellipse cx="615" cy="128" rx="2.4" ry="1.9" transform="rotate(-2 615 128)" fill="#40d880" opacity="0.83" filter="url(#b06)"/>
<ellipse cx="620" cy="137" rx="2.0" ry="2.0" transform="rotate(-56 620 137)" fill="#28b068" opacity="0.82" filter="url(#b06)"/>
<ellipse cx="625" cy="140" rx="2.1" ry="2.0" transform="rotate(12 625 140)" fill="#30c874" opacity="0.88" filter="url(#b06)"/>
<ellipse cx="603" cy="141" rx="2.6" ry="1.6" transform="rotate(-5 603 141)" fill="#28b068" opacity="0.78" filter="url(#b06)"/>
<ellipse cx="611" cy="143" rx="2.6" ry="1.6" transform="rotate(-2 611 143)" fill="#40d880" opacity="0.92" filter="url(#b06)"/>
<ellipse cx="630" cy="138" rx="2.7" ry="1.7" transform="rotate(2 630 138)" fill="#40d880" opacity="0.90" filter="url(#b06)"/>
<ellipse cx="634" cy="132" rx="2.3" ry="1.6" transform="rotate(-9 634 132)" fill="#30c874" opacity="0.77" filter="url(#b06)"/>
<ellipse cx="638" cy="127" rx="2.6" ry="1.8" transform="rotate(-38 638 127)" fill="#40d880" opacity="0.94" filter="url(#b06)"/>
<ellipse cx="643" cy="130" rx="2.6" ry="1.6" transform="rotate(2 643 130)" fill="#28b068" opacity="0.85" filter="url(#b06)"/>
<ellipse cx="648" cy="127" rx="2.4" ry="1.8" transform="rotate(-52 648 127)" fill="#28b068" opacity="0.89" filter="url(#b06)"/>
<ellipse cx="650" cy="138" rx="2.5" ry="1.9" transform="rotate(-14 650 138)" fill="#40d880" opacity="0.89" filter="url(#b06)"/>
<ellipse cx="644" cy="143" rx="2.2" ry="1.7" transform="rotate(38 644 143)" fill="#40d880" opacity="0.89" filter="url(#b06)"/>
<ellipse cx="640" cy="150" rx="2.7" ry="1.7" transform="rotate(-38 640 150)" fill="#40d880" opacity="0.92" filter="url(#b06)"/>
<ellipse cx="645" cy="155" rx="2.3" ry="1.9" transform="rotate(-19 645 155)" fill="#40d880" opacity="0.80" filter="url(#b06)"/>
<ellipse cx="636" cy="158" rx="2.2" ry="1.8" transform="rotate(26 636 158)" fill="#28b068" opacity="0.82" filter="url(#b06)"/>
<ellipse cx="630" cy="164" rx="2.5" ry="1.9" transform="rotate(46 630 164)" fill="#28b068" opacity="0.82" filter="url(#b06)"/>
<ellipse cx="628" cy="172" rx="2.6" ry="1.9" transform="rotate(28 628 172)" fill="#28b068" opacity="0.95" filter="url(#b06)"/>
<ellipse cx="634" cy="170" rx="2.7" ry="1.8" transform="rotate(7 634 170)" fill="#30c874" opacity="0.79" filter="url(#b06)"/>
<ellipse cx="632" cy="180" rx="2.3" ry="1.9" transform="rotate(-24 632 180)" fill="#40d880" opacity="0.77" filter="url(#b06)"/>
<ellipse cx="652" cy="148" rx="2.5" ry="1.7" transform="rotate(18 652 148)" fill="#40d880" opacity="0.85" filter="url(#b06)"/>
<ellipse cx="648" cy="165" rx="2.7" ry="1.7" transform="rotate(10 648 165)" fill="#40d880" opacity="0.80" filter="url(#b06)"/>
<ellipse cx="574" cy="122" rx="2.7" ry="1.6" transform="rotate(15 574 122)" fill="#28b068" opacity="0.87" filter="url(#b06)"/>
<ellipse cx="592" cy="151" rx="2.1" ry="1.9" transform="rotate(-37 592 151)" fill="#40d880" opacity="0.89" filter="url(#b06)"/>
<ellipse cx="595" cy="160" rx="2.7" ry="2.0" transform="rotate(-39 595 160)" fill="#30c874" opacity="0.93" filter="url(#b06)"/>
<ellipse cx="588" cy="168" rx="2.1" ry="2.0" transform="rotate(1 588 168)" fill="#30c874" opacity="0.86" filter="url(#b06)"/>
<ellipse cx="578" cy="172" rx="2.3" ry="1.7" transform="rotate(24 578 172)" fill="#40d880" opacity="0.76" filter="url(#b06)"/>
<ellipse cx="583" cy="178" rx="2.1" ry="1.9" transform="rotate(-13 583 178)" fill="#30c874" opacity="0.82" filter="url(#b06)"/>
<ellipse cx="601" cy="179" rx="2.7" ry="1.9" transform="rotate(50 601 179)" fill="#30c874" opacity="0.89" filter="url(#b06)"/>
<ellipse cx="614" cy="186" rx="2.4" ry="2.0" transform="rotate(10 614 186)" fill="#40d880" opacity="0.81" filter="url(#b06)"/>
<ellipse cx="600" cy="196" rx="2.2" ry="1.8" transform="rotate(14 600 196)" fill="#28b068" opacity="0.94" filter="url(#b06)"/>
<ellipse cx="606" cy="199" rx="2.6" ry="1.7" transform="rotate(44 606 199)" fill="#40d880" opacity="0.88" filter="url(#b06)"/>
<ellipse cx="579" cy="200" rx="2.3" ry="1.6" transform="rotate(16 579 200)" fill="#28b068" opacity="0.86" filter="url(#b06)"/>
<ellipse cx="570" cy="160" rx="2.7" ry="2.0" transform="rotate(17 570 160)" fill="#30c874" opacity="0.82" filter="url(#b06)"/>
<ellipse cx="576" cy="156" rx="2.6" ry="1.5" transform="rotate(-47 576 156)" fill="#28b068" opacity="0.86" filter="url(#b06)"/>
<ellipse cx="646" cy="190" rx="2.4" ry="1.6" transform="rotate(20 646 190)" fill="#40d880" opacity="0.83" filter="url(#b06)"/>
<ellipse cx="633" cy="147" rx="2.3" ry="1.6" transform="rotate(-23 633 147)" fill="#28b068" opacity="0.94" filter="url(#b06)"/>
<ellipse cx="622" cy="148" rx="2.3" ry="2.0" transform="rotate(56 622 148)" fill="#30c874" opacity="0.87" filter="url(#b06)"/>
<ellipse cx="616" cy="122" rx="2.2" ry="2.0" transform="rotate(3 616 122)" fill="#28b068" opacity="0.83" filter="url(#b06)"/>
<ellipse cx="612" cy="119" rx="2.2" ry="2.0" transform="rotate(2 612 119)" fill="#28b068" opacity="0.78" filter="url(#b06)"/>
<ellipse cx="598" cy="127" rx="2.0" ry="1.8" transform="rotate(-4 598 127)" fill="#30c874" opacity="0.81" filter="url(#b06)"/>
<ellipse cx="586" cy="126" rx="2.5" ry="1.9" transform="rotate(-59 586 126)" fill="#28b068" opacity="0.86" filter="url(#b06)"/>
<ellipse cx="596" cy="144" rx="2.2" ry="2.0" transform="rotate(40 596 144)" fill="#30c874" opacity="0.80" filter="url(#b06)"/>
<ellipse cx="640" cy="120" rx="2.2" ry="1.6" transform="rotate(-24 640 120)" fill="#28b068" opacity="0.85" filter="url(#b06)"/>
<ellipse cx="651" cy="120" rx="2.7" ry="1.8" transform="rotate(50 651 120)" fill="#40d880" opacity="0.93" filter="url(#b06)"/>
<ellipse cx="626" cy="131" rx="2.6" ry="1.5" transform="rotate(-44 626 131)" fill="#28b068" opacity="0.81" filter="url(#b06)"/>
<ellipse cx="655" cy="132" rx="2.5" ry="1.8" transform="rotate(33 655 132)" fill="#40d880" opacity="0.76" filter="url(#b06)"/>
<ellipse cx="637" cy="142" rx="2.2" ry="1.8" transform="rotate(44 637 142)" fill="#40d880" opacity="0.78" filter="url(#b06)"/>
</g>
<text x="615.3" y="126.7" fill="#2fb04c">Sox9 <tspan fill="#ec4f2c">CC3</tspan></text>
<rect x="632.30" y="194.00" width="16.70" height="2.60" fill="#ffffff"/>
<text x="174.60" y="248.60" font-size="10.4" font-weight="bold" fill="#111">d</text>
<line x1="185.30" y1="252.30" x2="185.30" y2="301.40" stroke="#8a8a8a" stroke-width="0.6"/>
<line x1="185.30" y1="301.40" x2="247.70" y2="301.40" stroke="#8a8a8a" stroke-width="0.6"/>
<line x1="216.50" y1="301.40" x2="216.50" y2="300.20" stroke="#8a8a8a" stroke-width="0.5"/>
<line x1="185.30" y1="291.90" x2="186.50" y2="291.90" stroke="#8a8a8a" stroke-width="0.5"/>
<path d="M186.5,279.4h0.6v0.6h-0.6zM227.7,258.4h0.6v0.6h-0.6zM227.8,262.3h0.6v0.6h-0.6zM212.3,291.3h0.6v0.6h-0.6zM222.2,285.8h0.6v0.6h-0.6zM243.9,283.9h0.6v0.6h-0.6zM238.2,292.9h0.6v0.6h-0.6zM215.0,285.4h0.6v0.6h-0.6zM229.8,295.6h0.6v0.6h-0.6zM214.4,289.0h0.6v0.6h-0.6zM204.6,253.5h0.6v0.6h-0.6zM233.4,280.7h0.6v0.6h-0.6zM225.5,275.6h0.6v0.6h-0.6zM205.1,261.1h0.6v0.6h-0.6zM228.3,295.2h0.6v0.6h-0.6zM245.1,278.6h0.6v0.6h-0.6zM212.0,278.8h0.6v0.6h-0.6zM189.2,287.8h0.6v0.6h-0.6zM202.4,257.3h0.6v0.6h-0.6zM190.1,297.7h0.6v0.6h-0.6zM206.4,273.5h0.6v0.6h-0.6zM190.4,272.4h0.6v0.6h-0.6zM215.7,259.1h0.6v0.6h-0.6zM193.7,282.2h0.6v0.6h-0.6zM236.1,258.5h0.6v0.6h-0.6zM240.3,300.1h0.6v0.6h-0.6zM228.9,273.9h0.6v0.6h-0.6zM197.4,262.0h0.6v0.6h-0.6zM234.7,256.5h0.6v0.6h-0.6zM199.2,279.5h0.6v0.6h-0.6zM226.2,288.4h0.6v0.6h-0.6zM203.2,280.2h0.6v0.6h-0.6zM193.4,272.1h0.6v0.6h-0.6zM224.0,253.8h0.6v0.6h-0.6zM191.8,285.6h0.6v0.6h-0.6zM215.9,269.9h0.6v0.6h-0.6zM225.9,296.4h0.6v0.6h-0.6zM194.6,267.2h0.6v0.6h-0.6zM220.6,285.2h0.6v0.6h-0.6zM203.8,297.7h0.6v0.6h-0.6zM219.5,263.7h0.6v0.6h-0.6zM190.1,264.4h0.6v0.6h-0.6zM236.6,266.7h0.6v0.6h-0.6zM245.2,291.4h0.6v0.6h-0.6zM238.5,274.7h0.6v0.6h-0.6zM209.8,259.5h0.6v0.6h-0.6zM187.4,269.4h0.6v0.6h-0.6zM220.9,255.0h0.6v0.6h-0.6zM238.4,277.2h0.6v0.6h-0.6zM213.7,271.7h0.6v0.6h-0.6zM214.2,298.7h0.6v0.6h-0.6zM192.8,278.3h0.6v0.6h-0.6zM219.0,271.4h0.6v0.6h-0.6zM237.5,297.8h0.6v0.6h-0.6zM212.2,290.7h0.6v0.6h-0.6z" fill="#c4c4c4"/>
<text x="216.80" y="251.10" text-anchor="middle">Sox9</text>
<text x="0.00" y="0.00" text-anchor="middle" transform="translate(181.1 277.6) rotate(-90)">Sox9</text>
<path d="M204.80,291.70 C204.85,291.02 206.28,289.15 207.20,288.30 C208.12,287.45 209.45,287.22 210.30,286.60 C211.15,285.98 211.85,285.22 212.30,284.60 C212.75,283.98 212.50,283.37 213.00,282.90 C213.50,282.43 214.52,282.08 215.30,281.80 C216.08,281.52 217.13,281.25 217.70,281.20 C218.27,281.15 218.47,281.12 218.70,281.50 C218.93,281.88 218.82,282.82 219.10,283.50 C219.38,284.18 219.72,285.08 220.40,285.60 C221.08,286.12 222.28,286.20 223.20,286.60 C224.12,287.00 225.12,287.48 225.90,288.00 C226.68,288.52 227.33,289.08 227.90,289.70 C228.47,290.32 229.30,291.25 229.30,291.70 C229.30,292.15 228.47,292.47 227.90,292.40 C227.33,292.33 226.68,291.65 225.90,291.30 C225.12,290.95 223.93,290.80 223.20,290.30 C222.47,289.80 222.13,288.87 221.50,288.30 C220.87,287.73 220.15,287.07 219.40,286.90 C218.65,286.73 217.73,286.95 217.00,287.30 C216.27,287.65 215.78,288.43 215.00,289.00 C214.22,289.57 213.20,290.20 212.30,290.70 C211.40,291.20 210.50,291.72 209.60,292.00 C208.70,292.28 207.70,292.45 206.90,292.40 C206.10,292.35 204.75,292.38 204.80,291.70 Z" fill="#92d07a" stroke="#4f8a40" stroke-width="0.45"/>
<ellipse cx="204.0" cy="294.9" rx="2.2" ry="3.6" transform="rotate(28 204 294.9)" fill="#7ccfd6" stroke="#4a9aa8" stroke-width="0.4"/>
<path d="M204,276.3 L205.8,277.2 L206.8,278.9 L205,278.8 Z" fill="#d44848"/>
<path d="M231.2,295.5 L233.5,295.3 L234.9,297.5 L234.2,299.4 L232,299.2 Z" fill="#8a58b8"/>
<line x1="253.50" y1="252.30" x2="253.50" y2="301.40" stroke="#8a8a8a" stroke-width="0.6"/>
<line x1="253.50" y1="301.40" x2="315.80" y2="301.40" stroke="#8a8a8a" stroke-width="0.6"/>
<line x1="284.50" y1="301.40" x2="284.50" y2="300.20" stroke="#8a8a8a" stroke-width="0.5"/>
<line x1="253.50" y1="291.90" x2="254.70" y2="291.90" stroke="#8a8a8a" stroke-width="0.5"/>
<path d="M299.7,257.2h0.6v0.6h-0.6zM309.5,276.4h0.6v0.6h-0.6zM267.3,286.3h0.6v0.6h-0.6zM277.2,292.7h0.6v0.6h-0.6zM272.0,297.1h0.6v0.6h-0.6zM297.0,290.8h0.6v0.6h-0.6zM277.3,287.3h0.6v0.6h-0.6zM276.1,267.2h0.6v0.6h-0.6zM292.6,298.6h0.6v0.6h-0.6zM276.3,255.0h0.6v0.6h-0.6zM314.4,263.4h0.6v0.6h-0.6zM265.4,256.3h0.6v0.6h-0.6zM256.7,262.1h0.6v0.6h-0.6zM266.3,276.4h0.6v0.6h-0.6zM311.0,284.4h0.6v0.6h-0.6zM275.5,273.4h0.6v0.6h-0.6zM272.6,297.3h0.6v0.6h-0.6zM310.1,268.5h0.6v0.6h-0.6zM282.4,262.3h0.6v0.6h-0.6zM293.9,256.7h0.6v0.6h-0.6zM306.9,294.2h0.6v0.6h-0.6zM282.8,279.3h0.6v0.6h-0.6zM261.1,291.8h0.6v0.6h-0.6zM299.7,285.0h0.6v0.6h-0.6zM256.5,295.5h0.6v0.6h-0.6zM275.3,288.7h0.6v0.6h-0.6zM273.6,256.1h0.6v0.6h-0.6zM255.8,274.8h0.6v0.6h-0.6zM305.7,260.6h0.6v0.6h-0.6zM301.9,268.6h0.6v0.6h-0.6zM281.9,264.6h0.6v0.6h-0.6zM314.4,254.9h0.6v0.6h-0.6zM297.6,280.4h0.6v0.6h-0.6zM294.1,282.4h0.6v0.6h-0.6zM309.5,286.6h0.6v0.6h-0.6zM295.5,262.0h0.6v0.6h-0.6zM276.3,256.4h0.6v0.6h-0.6zM314.4,275.3h0.6v0.6h-0.6zM301.3,261.6h0.6v0.6h-0.6zM267.1,255.4h0.6v0.6h-0.6zM291.2,287.5h0.6v0.6h-0.6zM270.8,275.1h0.6v0.6h-0.6zM281.8,285.4h0.6v0.6h-0.6zM264.7,254.9h0.6v0.6h-0.6zM304.9,292.7h0.6v0.6h-0.6zM288.6,297.6h0.6v0.6h-0.6zM297.7,264.5h0.6v0.6h-0.6zM302.9,257.6h0.6v0.6h-0.6zM282.9,285.5h0.6v0.6h-0.6zM293.3,276.7h0.6v0.6h-0.6zM301.6,255.6h0.6v0.6h-0.6zM304.8,274.3h0.6v0.6h-0.6zM293.1,294.5h0.6v0.6h-0.6zM311.8,262.5h0.6v0.6h-0.6zM296.5,283.5h0.6v0.6h-0.6z" fill="#c4c4c4"/>
<text x="284.70" y="251.10" text-anchor="middle">CD45</text>
<path d="M271.40,299.50 C272.00,298.42 273.67,294.50 275.00,293.00 C276.33,291.50 277.95,291.22 279.40,290.50 C280.85,289.78 282.50,289.25 283.70,288.70 C284.90,288.15 285.63,287.38 286.60,287.20 C287.57,287.02 288.65,287.05 289.50,287.60 C290.35,288.15 290.62,289.78 291.70,290.50 C292.78,291.22 294.55,291.12 296.00,291.90 C297.45,292.68 299.48,293.87 300.40,295.20 C301.32,296.53 301.32,299.12 301.50,299.90" fill="none" stroke="#f08a8a" stroke-width="5.2" stroke-linejoin="round" mask="url(#mSpk)"/>
<path d="M271.40,298.90 C272.00,297.82 273.67,293.90 275.00,292.40 C276.33,290.90 277.95,290.62 279.40,289.90 C280.85,289.18 282.50,288.65 283.70,288.10 C284.90,287.55 285.63,286.78 286.60,286.60 C287.57,286.42 288.65,286.45 289.50,287.00 C290.35,287.55 290.62,289.18 291.70,289.90 C292.78,290.62 294.55,290.52 296.00,291.30 C297.45,292.08 299.48,293.27 300.40,294.60 C301.32,295.93 301.32,298.52 301.50,299.30" fill="none" stroke="#f08282" stroke-width="3.6"/>
<path d="M271.40,299.50 C272.00,298.42 273.67,294.50 275.00,293.00 C276.33,291.50 277.95,291.22 279.40,290.50 C280.85,289.78 282.50,289.25 283.70,288.70 C284.90,288.15 285.63,287.38 286.60,287.20 C287.57,287.02 288.65,287.05 289.50,287.60 C290.35,288.15 290.62,289.78 291.70,290.50 C292.78,291.22 294.55,291.12 296.00,291.90 C297.45,292.68 299.48,293.87 300.40,295.20 C301.32,296.53 301.32,299.12 301.50,299.90" fill="none" stroke="#a8141e" stroke-width="0.8"/>
<path d="M269.60,297.30 C269.90,296.35 270.50,293.22 271.40,291.60 C272.30,289.98 273.78,288.57 275.00,287.60 C276.22,286.63 277.73,286.47 278.70,285.80 C279.67,285.13 280.27,284.22 280.80,283.60 C281.33,282.98 281.17,282.47 281.90,282.10 C282.63,281.73 284.30,281.45 285.20,281.40 C286.10,281.35 286.88,281.25 287.30,281.80 C287.72,282.35 287.08,283.98 287.70,284.70 C288.32,285.42 289.73,285.62 291.00,286.10 C292.27,286.58 294.22,286.68 295.30,287.60 C296.38,288.52 297.13,290.93 297.50,291.60" fill="none" stroke="#555" stroke-width="0.5"/>
<circle cx="273.3" cy="277.4" r="1.2" fill="none" stroke="#555" stroke-width="0.5"/>
<rect x="281.2" y="254.3" width="1.2" height="1.6" fill="#5ac8c8"/>
<line x1="321.50" y1="252.30" x2="321.50" y2="301.40" stroke="#8a8a8a" stroke-width="0.6"/>
<line x1="321.50" y1="301.40" x2="383.90" y2="301.40" stroke="#8a8a8a" stroke-width="0.6"/>
<line x1="352.20" y1="301.40" x2="352.20" y2="300.20" stroke="#8a8a8a" stroke-width="0.5"/>
<line x1="321.50" y1="291.90" x2="322.70" y2="291.90" stroke="#8a8a8a" stroke-width="0.5"/>
<path d="M333.9,264.3h0.6v0.6h-0.6zM378.5,290.5h0.6v0.6h-0.6zM327.7,299.7h0.6v0.6h-0.6zM332.3,256.8h0.6v0.6h-0.6zM366.6,282.7h0.6v0.6h-0.6zM349.1,270.1h0.6v0.6h-0.6zM348.1,289.5h0.6v0.6h-0.6zM354.0,259.6h0.6v0.6h-0.6zM323.2,288.9h0.6v0.6h-0.6zM364.1,295.3h0.6v0.6h-0.6zM382.9,279.4h0.6v0.6h-0.6zM330.9,276.1h0.6v0.6h-0.6zM369.6,265.7h0.6v0.6h-0.6zM346.8,259.5h0.6v0.6h-0.6zM354.9,275.5h0.6v0.6h-0.6zM364.6,290.9h0.6v0.6h-0.6zM381.0,284.7h0.6v0.6h-0.6zM339.2,276.5h0.6v0.6h-0.6zM337.5,286.4h0.6v0.6h-0.6zM370.6,294.9h0.6v0.6h-0.6zM376.0,256.7h0.6v0.6h-0.6zM369.0,271.2h0.6v0.6h-0.6zM369.0,253.3h0.6v0.6h-0.6zM339.8,297.6h0.6v0.6h-0.6zM330.4,254.6h0.6v0.6h-0.6zM331.2,285.7h0.6v0.6h-0.6zM369.7,254.2h0.6v0.6h-0.6zM325.4,273.4h0.6v0.6h-0.6zM328.9,291.2h0.6v0.6h-0.6zM356.4,268.4h0.6v0.6h-0.6zM341.0,259.8h0.6v0.6h-0.6zM352.6,268.5h0.6v0.6h-0.6zM324.6,278.8h0.6v0.6h-0.6zM367.1,254.6h0.6v0.6h-0.6zM329.8,299.0h0.6v0.6h-0.6zM372.4,273.8h0.6v0.6h-0.6zM338.1,298.1h0.6v0.6h-0.6zM323.5,278.1h0.6v0.6h-0.6zM330.1,262.8h0.6v0.6h-0.6zM344.1,261.0h0.6v0.6h-0.6zM359.9,261.0h0.6v0.6h-0.6zM381.9,265.9h0.6v0.6h-0.6zM359.1,283.0h0.6v0.6h-0.6zM331.2,289.3h0.6v0.6h-0.6zM348.7,273.5h0.6v0.6h-0.6zM342.6,274.3h0.6v0.6h-0.6zM336.3,281.4h0.6v0.6h-0.6zM332.9,255.6h0.6v0.6h-0.6zM362.8,260.9h0.6v0.6h-0.6zM351.1,276.4h0.6v0.6h-0.6zM322.6,259.3h0.6v0.6h-0.6zM373.9,285.6h0.6v0.6h-0.6zM335.0,253.4h0.6v0.6h-0.6zM377.4,264.4h0.6v0.6h-0.6zM365.1,270.0h0.6v0.6h-0.6z" fill="#c4c4c4"/>
<text x="352.20" y="251.10" text-anchor="middle">CD11c</text>
<path d="M338.00,293.20 C338.33,292.60 338.20,292.20 339.20,291.40 C340.20,290.60 342.60,289.40 344.00,288.40 C345.40,287.40 346.50,286.30 347.60,285.40 C348.70,284.50 349.50,283.67 350.60,283.00 C351.70,282.33 353.40,281.53 354.20,281.40 C355.00,281.27 355.10,281.63 355.40,282.20 C355.70,282.77 355.50,284.17 356.00,284.80 C356.50,285.43 357.60,285.50 358.40,286.00 C359.20,286.50 359.80,287.10 360.80,287.80 C361.80,288.50 363.40,289.40 364.40,290.20 C365.40,291.00 366.20,291.90 366.80,292.60 C367.40,293.30 368.00,294.00 368.00,294.40 C368.00,294.80 367.40,295.20 366.80,295.00 C366.20,294.80 365.30,293.80 364.40,293.20 C363.50,292.60 362.40,292.00 361.40,291.40 C360.40,290.80 359.50,290.20 358.40,289.60 C357.30,289.00 356.00,288.00 354.80,287.80 C353.60,287.60 352.40,287.90 351.20,288.40 C350.00,288.90 348.80,290.10 347.60,290.80 C346.40,291.50 344.90,292.00 344.00,292.60 C343.10,293.20 342.70,293.60 342.20,294.40 C341.70,295.20 341.50,296.70 341.00,297.40 C340.50,298.10 339.80,298.60 339.20,298.60 C338.60,298.60 337.73,298.00 337.40,297.40 C337.07,296.80 337.10,295.70 337.20,295.00 C337.30,294.30 337.67,293.80 338.00,293.20 Z" fill="none" stroke="#555" stroke-width="0.5"/>
<path d="M346.20,288.80 C346.50,288.55 347.40,287.70 348.00,287.30 C348.60,286.90 349.50,286.55 349.80,286.40" fill="none" stroke="#6ccfd8" stroke-width="1.4" stroke-linecap="round"/>
<path d="M345.60,290.20 C345.92,290.08 347.00,289.67 347.50,289.50 C348.00,289.33 348.42,289.25 348.60,289.20" fill="none" stroke="#e080c0" stroke-width="1.2" stroke-linecap="round"/>
<path d="M350.80,285.60 C351.25,285.50 352.55,285.00 353.50,285.00 C354.45,285.00 355.55,285.23 356.50,285.60 C357.45,285.97 358.75,286.93 359.20,287.20" fill="none" stroke="#b070c8" stroke-width="1.7" stroke-linecap="round"/>
<path d="M359.00,288.80 C359.42,289.00 360.75,289.63 361.50,290.00 C362.25,290.37 362.88,290.67 363.50,291.00 C364.12,291.33 364.92,291.83 365.20,292.00" fill="none" stroke="#4aa878" stroke-width="1.6" stroke-linecap="round"/>
<path d="M366.60,292.80 C366.90,293.08 368.00,293.83 368.40,294.50 C368.80,295.17 368.80,296.05 369.00,296.80 C369.20,297.55 369.50,298.63 369.60,299.00" fill="none" stroke="#e8a040" stroke-width="1.4" stroke-linecap="round"/>
<path d="M328.4,254.6 L330,253 L331.4,252.5 L330.4,254.2 Z" fill="#ee5a4a"/>
<path d="M348.40,254.60 C348.67,254.88 349.37,255.87 350.00,256.30 C350.63,256.73 351.63,257.08 352.20,257.20 C352.77,257.32 353.20,257.03 353.40,257.00" fill="none" stroke="#4aaa4a" stroke-width="0.9" stroke-linecap="round"/>
<circle cx="341.3" cy="278" r="1.3" fill="#8aaa3a" stroke="#556" stroke-width="0.3"/>
<path d="M322.20,290.50 C322.47,290.83 323.70,291.82 323.80,292.50 C323.90,293.18 322.97,294.25 322.80,294.60" fill="none" stroke="#5050c0" stroke-width="0.9" stroke-linecap="round"/>
<ellipse cx="327.4" cy="296" rx="1.1" ry="0.7" fill="#5a8ad8"/>
<line x1="391.90" y1="252.30" x2="391.90" y2="301.40" stroke="#8a8a8a" stroke-width="0.6"/>
<line x1="391.90" y1="301.40" x2="454.50" y2="301.40" stroke="#8a8a8a" stroke-width="0.6"/>
<line x1="423.10" y1="301.40" x2="423.10" y2="300.20" stroke="#8a8a8a" stroke-width="0.5"/>
<line x1="391.90" y1="291.90" x2="393.10" y2="291.90" stroke="#8a8a8a" stroke-width="0.5"/>
<path d="M421.0,262.8h0.6v0.6h-0.6zM442.7,267.6h0.6v0.6h-0.6zM424.2,289.3h0.6v0.6h-0.6zM440.5,270.6h0.6v0.6h-0.6zM441.9,291.7h0.6v0.6h-0.6zM433.1,296.1h0.6v0.6h-0.6zM396.7,276.6h0.6v0.6h-0.6zM414.1,260.0h0.6v0.6h-0.6zM407.3,271.3h0.6v0.6h-0.6zM398.6,272.0h0.6v0.6h-0.6zM438.6,266.6h0.6v0.6h-0.6zM448.7,290.8h0.6v0.6h-0.6zM438.7,275.8h0.6v0.6h-0.6zM421.4,278.4h0.6v0.6h-0.6zM398.4,262.7h0.6v0.6h-0.6zM434.6,258.2h0.6v0.6h-0.6zM429.6,282.5h0.6v0.6h-0.6zM442.2,254.3h0.6v0.6h-0.6zM434.0,282.0h0.6v0.6h-0.6zM424.0,276.9h0.6v0.6h-0.6zM426.0,285.8h0.6v0.6h-0.6zM420.2,290.4h0.6v0.6h-0.6zM428.0,297.3h0.6v0.6h-0.6zM426.7,256.2h0.6v0.6h-0.6zM401.8,272.9h0.6v0.6h-0.6zM451.0,254.2h0.6v0.6h-0.6zM439.6,263.0h0.6v0.6h-0.6zM410.3,254.6h0.6v0.6h-0.6zM439.8,282.1h0.6v0.6h-0.6zM445.2,297.6h0.6v0.6h-0.6zM417.9,298.9h0.6v0.6h-0.6zM393.8,297.1h0.6v0.6h-0.6zM407.1,255.1h0.6v0.6h-0.6zM398.3,298.6h0.6v0.6h-0.6zM411.1,269.9h0.6v0.6h-0.6zM441.5,297.2h0.6v0.6h-0.6zM429.6,279.8h0.6v0.6h-0.6zM422.2,257.6h0.6v0.6h-0.6zM400.2,269.4h0.6v0.6h-0.6zM440.5,273.3h0.6v0.6h-0.6zM451.6,284.9h0.6v0.6h-0.6zM415.8,288.7h0.6v0.6h-0.6zM424.9,263.1h0.6v0.6h-0.6zM433.9,268.4h0.6v0.6h-0.6zM412.5,293.0h0.6v0.6h-0.6z" fill="#c4c4c4"/>
<text x="423.10" y="251.10" text-anchor="middle">Galectin-3</text>
<g transform="translate(391.9 252.3)"><g mask="url(#mLace)" fill="#7878c4"><path d="M14.20,15.80 C14.47,14.73 16.47,13.65 17.40,12.60 C18.33,11.55 18.73,10.28 19.80,9.50 C20.87,8.72 22.75,8.57 23.80,7.90 C24.85,7.23 25.18,5.63 26.10,5.50 C27.02,5.37 28.50,6.30 29.30,7.10 C30.10,7.90 30.10,9.90 30.90,10.30 C31.70,10.70 33.05,9.90 34.10,9.50 C35.15,9.10 36.15,7.90 37.20,7.90 C38.25,7.90 39.47,8.97 40.40,9.50 C41.33,10.03 42.02,10.45 42.80,11.10 C43.58,11.75 45.10,12.62 45.10,13.40 C45.10,14.18 43.58,15.13 42.80,15.80 C42.02,16.47 40.02,16.73 40.40,17.40 C40.78,18.07 43.65,18.88 45.10,19.80 C46.55,20.72 48.30,21.98 49.10,22.90 C49.90,23.82 50.30,24.77 49.90,25.30 C49.50,25.83 47.88,26.23 46.70,26.10 C45.52,25.97 43.98,24.37 42.80,24.50 C41.62,24.63 40.80,25.97 39.60,26.90 C38.40,27.83 36.52,29.30 35.60,30.10 C34.68,30.90 34.75,31.43 34.10,31.70 C33.45,31.97 32.50,31.97 31.70,31.70 C30.90,31.43 30.23,30.63 29.30,30.10 C28.37,29.57 27.28,29.17 26.10,28.50 C24.92,27.83 23.25,26.90 22.20,26.10 C21.15,25.30 20.33,24.62 19.80,23.70 C19.27,22.78 19.67,21.38 19.00,20.60 C18.33,19.82 16.60,19.80 15.80,19.00 C15.00,18.20 13.93,16.87 14.20,15.80 Z"/><path d="M0.00,31.60 C0.63,28.60 2.55,30.63 4.00,30.90 C5.45,31.17 7.12,32.95 8.70,33.20 C10.28,33.45 12.05,32.13 13.50,32.40 C14.95,32.67 16.35,33.87 17.40,34.80 C18.45,35.73 19.27,36.68 19.80,38.00 C20.33,39.32 20.48,40.88 20.60,42.70 C20.72,44.52 22.27,47.87 20.50,48.90 C18.73,49.93 13.38,48.90 10.00,48.90 C6.62,48.90 1.87,51.78 0.20,48.90 C-1.47,46.02 -0.63,34.60 0.00,31.60 Z"/><path d="M16.60,47.50 C17.13,45.92 18.22,40.38 19.80,38.00 C21.38,35.62 23.98,34.40 26.10,33.20 C28.22,32.00 30.38,31.07 32.50,30.80 C34.62,30.53 36.95,30.93 38.80,31.60 C40.65,32.27 42.15,33.33 43.60,34.80 C45.05,36.27 46.58,38.42 47.50,40.40 C48.42,42.38 48.83,45.65 49.10,46.70" fill="none" stroke="#7878c4" stroke-width="4.2" stroke-linecap="round"/><ellipse cx="32" cy="31" rx="4" ry="2.5"/></g><path d="M20.60,39.80 C21.65,39.00 24.78,36.20 26.90,35.00 C29.02,33.80 31.18,32.87 33.30,32.60 C35.42,32.33 37.75,32.73 39.60,33.40 C41.45,34.07 42.95,35.13 44.40,36.60 C45.85,38.07 47.38,40.22 48.30,42.20 C49.22,44.18 49.63,47.45 49.90,48.50" fill="none" stroke="#2c2c80" stroke-width="0.9"/><path d="M1.00,44.00 C1.67,44.25 3.67,45.42 5.00,45.50 C6.33,45.58 7.67,44.42 9.00,44.50 C10.33,44.58 12.33,45.75 13.00,46.00" fill="none" stroke="#2c2c80" stroke-width="0.7"/><path d="M19.50,21.50 C19.83,21.83 20.92,23.42 21.50,23.50 C22.08,23.58 22.75,22.25 23.00,22.00" fill="none" stroke="#2c2c80" stroke-width="0.6"/><g mask="url(#mLace)"><path d="M44.10,1.50 C44.75,1.38 46.68,0.78 48.00,0.80 C49.32,0.82 50.75,1.15 52.00,1.60 C53.25,2.05 54.92,3.18 55.50,3.50" fill="none" stroke="#f0a050" stroke-width="2.17" stroke-linecap="round"/><path d="M56.90,6.30 C57.33,6.53 58.73,7.17 59.50,7.70 C60.27,8.23 61.17,9.20 61.50,9.50" fill="none" stroke="#5ac8d0" stroke-width="1.89" stroke-linecap="round"/><path d="M46.50,9.50 C46.75,10.00 47.25,11.67 48.00,12.50 C48.75,13.33 50.33,13.83 51.00,14.50 C51.67,15.17 51.83,16.17 52.00,16.50" fill="none" stroke="#4aaae0" stroke-width="2.03" stroke-linecap="round"/><path d="M8.00,16.50 C8.33,16.00 9.17,14.33 10.00,13.50 C10.83,12.67 12.50,11.83 13.00,11.50" fill="none" stroke="#80c860" stroke-width="2.03" stroke-linecap="round"/><path d="M0.80,15.00 C1.25,15.25 2.63,15.83 3.50,16.50 C4.37,17.17 5.58,18.58 6.00,19.00" fill="none" stroke="#50c8b8" stroke-width="2.03" stroke-linecap="round"/><path d="M9.00,19.50 C9.25,20.00 10.17,21.58 10.50,22.50 C10.83,23.42 10.92,24.58 11.00,25.00" fill="none" stroke="#e8d850" stroke-width="1.45" stroke-linecap="round"/><path d="M0.50,31.50 C0.83,31.42 1.92,30.83 2.50,31.00 C3.08,31.17 3.75,32.25 4.00,32.50" fill="none" stroke="#e05a9a" stroke-width="2.03" stroke-linecap="round"/><path d="M54.50,20.80 C55.25,20.97 58.25,21.63 59.00,21.80" fill="none" stroke="#f0a050" stroke-width="1.74" stroke-linecap="round"/><path d="M57.60,39.50 C57.83,39.17 58.60,38.25 59.00,37.50 C59.40,36.75 59.83,35.42 60.00,35.00" fill="none" stroke="#5a7ad0" stroke-width="1.74" stroke-linecap="round"/><path d="M19.50,5.50 C19.92,5.33 21.17,4.58 22.00,4.50 C22.83,4.42 24.08,4.92 24.50,5.00" fill="none" stroke="#90d060" stroke-width="1.74" stroke-linecap="round"/><path d="M28.00,1.50 C27.92,1.92 27.50,3.25 27.50,4.00 C27.50,4.75 27.92,5.67 28.00,6.00" fill="none" stroke="#a060c8" stroke-width="1.45" stroke-linecap="round"/><path d="M30.50,0.80 C30.92,0.87 32.08,1.03 33.00,1.20 C33.92,1.37 35.50,1.70 36.00,1.80" fill="none" stroke="#50c0b8" stroke-width="1.45" stroke-linecap="round"/><path d="M25.70,29.50 C26.03,29.83 27.37,31.17 27.70,31.50" fill="none" stroke="#40a040" stroke-width="1.45" stroke-linecap="round"/><path d="M15.00,34.00 C15.50,34.25 17.50,35.25 18.00,35.50" fill="none" stroke="#80c860" stroke-width="1.45" stroke-linecap="round"/><path d="M58.70,19.50 C59.00,19.67 60.20,20.33 60.50,20.50" fill="none" stroke="#5a5ad0" stroke-width="2.03" stroke-linecap="round"/><path d="M6.00,21.00 C6.25,20.83 7.25,20.17 7.50,20.00" fill="none" stroke="#c050c0" stroke-width="1.45" stroke-linecap="round"/><path d="M4.00,26.00 C4.25,26.17 5.25,26.83 5.50,27.00" fill="none" stroke="#5a5ad0" stroke-width="1.30" stroke-linecap="round"/></g><circle cx="38.3" cy="26.3" r="1.2" fill="#f07850"/><rect x="42.4" y="12.1" width="1.2" height="1.2" fill="#d040a0"/><rect x="53.3" y="24.099999999999998" width="1.2" height="1.2" fill="#e04060"/><rect x="50.3" y="37.3" width="1.2" height="1.2" fill="#e04060"/><rect x="37.9" y="18.4" width="1.2" height="1.2" fill="#e05090"/></g>
<line x1="184.50" y1="328.10" x2="184.50" y2="377.00" stroke="#8a8a8a" stroke-width="0.6"/>
<line x1="184.50" y1="377.00" x2="247.00" y2="377.00" stroke="#8a8a8a" stroke-width="0.6"/>
<line x1="216.30" y1="377.00" x2="216.30" y2="375.80" stroke="#8a8a8a" stroke-width="0.5"/>
<path d="M239.3,361.4h0.6v0.6h-0.6zM245.0,340.8h0.6v0.6h-0.6zM191.6,342.9h0.6v0.6h-0.6zM233.7,366.5h0.6v0.6h-0.6zM190.2,373.7h0.6v0.6h-0.6zM190.1,348.5h0.6v0.6h-0.6zM196.7,359.9h0.6v0.6h-0.6zM220.0,358.5h0.6v0.6h-0.6zM224.2,354.7h0.6v0.6h-0.6zM210.1,339.9h0.6v0.6h-0.6zM214.7,357.1h0.6v0.6h-0.6zM200.3,348.7h0.6v0.6h-0.6zM190.6,370.8h0.6v0.6h-0.6zM205.5,348.9h0.6v0.6h-0.6zM194.5,343.0h0.6v0.6h-0.6zM219.1,355.5h0.6v0.6h-0.6zM211.7,344.4h0.6v0.6h-0.6zM191.7,366.0h0.6v0.6h-0.6zM205.5,332.7h0.6v0.6h-0.6zM243.1,335.6h0.6v0.6h-0.6zM216.9,332.5h0.6v0.6h-0.6zM197.0,351.0h0.6v0.6h-0.6zM208.7,371.4h0.6v0.6h-0.6zM239.6,358.0h0.6v0.6h-0.6zM233.8,368.5h0.6v0.6h-0.6zM185.6,360.6h0.6v0.6h-0.6zM192.3,344.8h0.6v0.6h-0.6zM207.7,364.8h0.6v0.6h-0.6zM220.3,349.8h0.6v0.6h-0.6zM205.0,365.2h0.6v0.6h-0.6zM196.6,371.0h0.6v0.6h-0.6zM218.7,356.3h0.6v0.6h-0.6zM238.1,369.9h0.6v0.6h-0.6zM207.6,367.3h0.6v0.6h-0.6zM197.3,344.3h0.6v0.6h-0.6zM196.0,370.9h0.6v0.6h-0.6zM245.3,365.0h0.6v0.6h-0.6zM200.4,373.3h0.6v0.6h-0.6zM213.7,329.4h0.6v0.6h-0.6zM244.8,374.2h0.6v0.6h-0.6zM193.5,329.3h0.6v0.6h-0.6zM208.6,345.2h0.6v0.6h-0.6zM230.4,352.1h0.6v0.6h-0.6zM242.2,362.5h0.6v0.6h-0.6zM186.5,367.1h0.6v0.6h-0.6z" fill="#c4c4c4"/>
<text x="216.00" y="328.00" text-anchor="middle">PD-L1</text>
<text x="0.00" y="0.00" text-anchor="middle" transform="translate(180.6 353) rotate(-90)">PD-L1</text>
<path d="M191.80,336.80 C191.93,335.92 192.32,334.58 193.00,333.90 C193.68,333.22 194.92,332.80 195.90,332.70 C196.88,332.60 198.20,332.72 198.90,333.30 C199.60,333.88 200.00,335.22 200.10,336.20 C200.20,337.18 200.00,338.37 199.50,339.20 C199.00,340.03 197.98,340.92 197.10,341.20 C196.22,341.48 195.02,341.23 194.20,340.90 C193.38,340.57 192.60,339.88 192.20,339.20 C191.80,338.52 191.67,337.68 191.80,336.80 Z" fill="none" stroke="#5a5a5a" stroke-width="0.5"/>
<path d="M198.5,338.4h0.8v0.9h-0.8zM194.2,336.2h0.8v0.9h-0.8zM194.0,339.3h0.8v0.9h-0.8zM196.6,338.5h0.8v0.9h-0.8z" fill="#3aa060"/>
<path d="M202.40,337.40 C202.50,336.62 202.92,335.78 203.60,335.10 C204.28,334.42 205.42,333.70 206.50,333.30 C207.58,332.90 209.02,332.83 210.10,332.70 C211.18,332.57 212.27,332.35 213.00,332.50 C213.73,332.65 214.50,333.13 214.50,333.60 C214.50,334.07 213.73,334.77 213.00,335.30 C212.27,335.83 211.08,336.15 210.10,336.80 C209.12,337.45 207.98,338.60 207.10,339.20 C206.22,339.80 205.48,340.30 204.80,340.40 C204.12,340.50 203.40,340.30 203.00,339.80 C202.60,339.30 202.30,338.18 202.40,337.40 Z" fill="none" stroke="#5a5a5a" stroke-width="0.5"/>
<path d="M204.8,334.0h0.8v0.9h-0.8zM207.3,338.2h0.8v0.9h-0.8zM204.6,335.7h0.8v0.9h-0.8zM205.8,338.5h0.8v0.9h-0.8z" fill="#4a8ad8"/>
<path d="M185.40,357.40 C185.88,356.80 186.92,356.10 187.70,356.20 C188.48,356.30 189.22,357.20 190.10,358.00 C190.98,358.80 191.83,360.32 193.00,361.00 C194.17,361.68 195.83,361.72 197.10,362.10 C198.37,362.48 199.72,362.62 200.60,363.30 C201.48,363.98 202.40,365.12 202.40,366.20 C202.40,367.28 201.48,369.02 200.60,369.80 C199.72,370.58 198.37,370.62 197.10,370.90 C195.83,371.18 194.17,371.30 193.00,371.50 C191.83,371.70 191.18,372.13 190.10,372.10 C189.02,372.07 187.38,371.98 186.50,371.30 C185.62,370.62 184.98,369.33 184.80,368.00 C184.62,366.67 185.40,364.67 185.40,363.30 C185.40,361.93 184.80,360.78 184.80,359.80 C184.80,358.82 184.92,358.00 185.40,357.40 Z" fill="none" stroke="#5a5a5a" stroke-width="0.5"/>
<path d="M189.3,367.0h0.8v0.9h-0.8zM187.9,369.5h0.8v0.9h-0.8zM192.5,364.0h0.8v0.9h-0.8zM188.3,368.2h0.8v0.9h-0.8zM195.9,362.1h0.8v0.9h-0.8zM191.4,361.0h0.8v0.9h-0.8zM187.2,368.0h0.8v0.9h-0.8zM187.9,367.9h0.8v0.9h-0.8zM186.5,365.4h0.8v0.9h-0.8zM197.1,368.5h0.8v0.9h-0.8zM187.2,369.5h0.8v0.9h-0.8zM188.5,367.8h0.8v0.9h-0.8z" fill="#b8d050"/>
<path d="M230.10,351.50 C230.28,350.92 230.32,350.18 231.20,349.80 C232.08,349.42 234.02,349.10 235.40,349.20 C236.78,349.30 238.33,349.72 239.50,350.40 C240.67,351.08 241.72,352.23 242.40,353.30 C243.08,354.37 243.60,355.53 243.60,356.80 C243.60,358.07 242.98,359.92 242.40,360.90 C241.82,361.88 240.88,362.60 240.10,362.70 C239.32,362.80 238.30,362.18 237.70,361.50 C237.10,360.82 236.98,359.38 236.50,358.60 C236.02,357.82 235.58,357.30 234.80,356.80 C234.02,356.30 232.58,356.18 231.80,355.60 C231.02,355.02 230.38,353.98 230.10,353.30 C229.82,352.62 229.92,352.08 230.10,351.50 Z" fill="none" stroke="#5a5a5a" stroke-width="0.5"/>
<path d="M232.4,355.6h0.8v0.9h-0.8zM240.5,356.3h0.8v0.9h-0.8zM239.5,355.2h0.8v0.9h-0.8zM232.5,352.5h0.8v0.9h-0.8zM238.9,355.4h0.8v0.9h-0.8zM239.7,359.2h0.8v0.9h-0.8z" fill="#e04848"/>
<path d="M221.80,363.30 C222.20,362.32 222.82,361.48 223.60,360.90 C224.38,360.32 225.62,359.70 226.50,359.80 C227.38,359.90 228.22,360.62 228.90,361.50 C229.58,362.38 230.22,363.92 230.60,365.10 C230.98,366.28 231.38,367.53 231.20,368.60 C231.02,369.67 230.28,371.02 229.50,371.50 C228.72,371.98 227.58,371.78 226.50,371.50 C225.42,371.22 223.88,370.58 223.00,369.80 C222.12,369.02 221.40,367.88 221.20,366.80 C221.00,365.72 221.40,364.28 221.80,363.30 Z" fill="none" stroke="#5a5a5a" stroke-width="0.5"/>
<path d="M227.3,366.8h0.8v0.9h-0.8zM226.8,363.8h0.8v0.9h-0.8zM225.8,367.6h0.8v0.9h-0.8zM228.3,368.3h0.8v0.9h-0.8zM225.8,368.9h0.8v0.9h-0.8zM223.2,368.2h0.8v0.9h-0.8zM224.1,364.7h0.8v0.9h-0.8z" fill="#b050c0"/>
<line x1="286.70" y1="329.40" x2="286.70" y2="377.60" stroke="#8a8a8a" stroke-width="0.6"/>
<line x1="286.70" y1="377.60" x2="349.80" y2="377.60" stroke="#8a8a8a" stroke-width="0.6"/>
<path d="M306.2,339.2h0.6v0.6h-0.6zM338.7,333.9h0.6v0.6h-0.6zM310.3,348.6h0.6v0.6h-0.6zM299.3,336.8h0.6v0.6h-0.6zM309.9,330.5h0.6v0.6h-0.6zM326.4,365.9h0.6v0.6h-0.6zM334.0,334.0h0.6v0.6h-0.6zM329.7,332.1h0.6v0.6h-0.6zM312.7,337.3h0.6v0.6h-0.6zM327.3,364.9h0.6v0.6h-0.6zM317.9,345.1h0.6v0.6h-0.6zM315.7,352.0h0.6v0.6h-0.6zM292.4,347.3h0.6v0.6h-0.6zM325.5,331.1h0.6v0.6h-0.6zM337.3,334.4h0.6v0.6h-0.6zM295.7,360.6h0.6v0.6h-0.6zM308.1,340.3h0.6v0.6h-0.6zM305.7,371.8h0.6v0.6h-0.6zM342.2,356.2h0.6v0.6h-0.6zM305.0,335.3h0.6v0.6h-0.6zM312.1,344.4h0.6v0.6h-0.6zM343.1,355.7h0.6v0.6h-0.6zM314.8,370.6h0.6v0.6h-0.6zM346.7,336.9h0.6v0.6h-0.6zM288.8,331.0h0.6v0.6h-0.6zM311.2,341.4h0.6v0.6h-0.6zM328.3,333.0h0.6v0.6h-0.6zM288.6,340.2h0.6v0.6h-0.6zM301.9,363.5h0.6v0.6h-0.6zM302.1,344.6h0.6v0.6h-0.6zM336.8,341.4h0.6v0.6h-0.6zM330.0,371.2h0.6v0.6h-0.6zM335.1,356.2h0.6v0.6h-0.6zM314.6,335.1h0.6v0.6h-0.6zM295.2,372.3h0.6v0.6h-0.6zM322.4,343.1h0.6v0.6h-0.6zM323.3,357.9h0.6v0.6h-0.6zM311.6,347.9h0.6v0.6h-0.6zM339.4,357.7h0.6v0.6h-0.6zM329.4,360.2h0.6v0.6h-0.6zM291.1,340.2h0.6v0.6h-0.6zM325.5,334.9h0.6v0.6h-0.6zM319.1,368.2h0.6v0.6h-0.6zM310.5,349.3h0.6v0.6h-0.6zM315.6,333.3h0.6v0.6h-0.6z" fill="#c4c4c4"/>
<text x="318.30" y="327.80" text-anchor="middle">Galectin-3</text>
<text x="282.30" y="332.40" text-anchor="end">2,000</text>
<line x1="286.70" y1="329.80" x2="287.90" y2="329.80" stroke="#8a8a8a" stroke-width="0.5"/>
<text x="282.30" y="351.30" text-anchor="end">1,000</text>
<line x1="286.70" y1="348.70" x2="287.90" y2="348.70" stroke="#8a8a8a" stroke-width="0.5"/>
<text x="282.30" y="371.10" text-anchor="end">0</text>
<line x1="286.70" y1="368.50" x2="287.90" y2="368.50" stroke="#8a8a8a" stroke-width="0.5"/>
<text x="292.80" y="388.60" text-anchor="middle">−1,000</text>
<line x1="292.80" y1="377.60" x2="292.80" y2="376.40" stroke="#8a8a8a" stroke-width="0.5"/>
<text x="318.30" y="388.60" text-anchor="middle">0</text>
<line x1="318.30" y1="377.60" x2="318.30" y2="376.40" stroke="#8a8a8a" stroke-width="0.5"/>
<text x="343.70" y="388.60" text-anchor="middle">1,000</text>
<line x1="343.70" y1="377.60" x2="343.70" y2="376.40" stroke="#8a8a8a" stroke-width="0.5"/>
<g transform="translate(286.7 329.4)"><g mask="url(#mLace)" fill="#7878c4"><path d="M14.20,15.80 C14.47,14.73 16.47,13.65 17.40,12.60 C18.33,11.55 18.73,10.28 19.80,9.50 C20.87,8.72 22.75,8.57 23.80,7.90 C24.85,7.23 25.18,5.63 26.10,5.50 C27.02,5.37 28.50,6.30 29.30,7.10 C30.10,7.90 30.10,9.90 30.90,10.30 C31.70,10.70 33.05,9.90 34.10,9.50 C35.15,9.10 36.15,7.90 37.20,7.90 C38.25,7.90 39.47,8.97 40.40,9.50 C41.33,10.03 42.02,10.45 42.80,11.10 C43.58,11.75 45.10,12.62 45.10,13.40 C45.10,14.18 43.58,15.13 42.80,15.80 C42.02,16.47 40.02,16.73 40.40,17.40 C40.78,18.07 43.65,18.88 45.10,19.80 C46.55,20.72 48.30,21.98 49.10,22.90 C49.90,23.82 50.30,24.77 49.90,25.30 C49.50,25.83 47.88,26.23 46.70,26.10 C45.52,25.97 43.98,24.37 42.80,24.50 C41.62,24.63 40.80,25.97 39.60,26.90 C38.40,27.83 36.52,29.30 35.60,30.10 C34.68,30.90 34.75,31.43 34.10,31.70 C33.45,31.97 32.50,31.97 31.70,31.70 C30.90,31.43 30.23,30.63 29.30,30.10 C28.37,29.57 27.28,29.17 26.10,28.50 C24.92,27.83 23.25,26.90 22.20,26.10 C21.15,25.30 20.33,24.62 19.80,23.70 C19.27,22.78 19.67,21.38 19.00,20.60 C18.33,19.82 16.60,19.80 15.80,19.00 C15.00,18.20 13.93,16.87 14.20,15.80 Z"/><path d="M0.00,31.60 C0.63,28.60 2.55,30.63 4.00,30.90 C5.45,31.17 7.12,32.95 8.70,33.20 C10.28,33.45 12.05,32.13 13.50,32.40 C14.95,32.67 16.35,33.87 17.40,34.80 C18.45,35.73 19.27,36.68 19.80,38.00 C20.33,39.32 20.48,40.88 20.60,42.70 C20.72,44.52 22.27,47.87 20.50,48.90 C18.73,49.93 13.38,48.90 10.00,48.90 C6.62,48.90 1.87,51.78 0.20,48.90 C-1.47,46.02 -0.63,34.60 0.00,31.60 Z"/><path d="M16.60,47.50 C17.13,45.92 18.22,40.38 19.80,38.00 C21.38,35.62 23.98,34.40 26.10,33.20 C28.22,32.00 30.38,31.07 32.50,30.80 C34.62,30.53 36.95,30.93 38.80,31.60 C40.65,32.27 42.15,33.33 43.60,34.80 C45.05,36.27 46.58,38.42 47.50,40.40 C48.42,42.38 48.83,45.65 49.10,46.70" fill="none" stroke="#7878c4" stroke-width="4.2" stroke-linecap="round"/><ellipse cx="32" cy="31" rx="4" ry="2.5"/></g><path d="M20.60,39.80 C21.65,39.00 24.78,36.20 26.90,35.00 C29.02,33.80 31.18,32.87 33.30,32.60 C35.42,32.33 37.75,32.73 39.60,33.40 C41.45,34.07 42.95,35.13 44.40,36.60 C45.85,38.07 47.38,40.22 48.30,42.20 C49.22,44.18 49.63,47.45 49.90,48.50" fill="none" stroke="#2c2c80" stroke-width="0.9"/><path d="M1.00,44.00 C1.67,44.25 3.67,45.42 5.00,45.50 C6.33,45.58 7.67,44.42 9.00,44.50 C10.33,44.58 12.33,45.75 13.00,46.00" fill="none" stroke="#2c2c80" stroke-width="0.7"/><path d="M19.50,21.50 C19.83,21.83 20.92,23.42 21.50,23.50 C22.08,23.58 22.75,22.25 23.00,22.00" fill="none" stroke="#2c2c80" stroke-width="0.6"/><g mask="url(#mLace)"><path d="M44.10,1.50 C44.75,1.38 46.68,0.78 48.00,0.80 C49.32,0.82 50.75,1.15 52.00,1.60 C53.25,2.05 54.92,3.18 55.50,3.50" fill="none" stroke="#f0a050" stroke-width="2.17" stroke-linecap="round"/><path d="M56.90,6.30 C57.33,6.53 58.73,7.17 59.50,7.70 C60.27,8.23 61.17,9.20 61.50,9.50" fill="none" stroke="#5ac8d0" stroke-width="1.89" stroke-linecap="round"/><path d="M46.50,9.50 C46.75,10.00 47.25,11.67 48.00,12.50 C48.75,13.33 50.33,13.83 51.00,14.50 C51.67,15.17 51.83,16.17 52.00,16.50" fill="none" stroke="#4aaae0" stroke-width="2.03" stroke-linecap="round"/><path d="M8.00,16.50 C8.33,16.00 9.17,14.33 10.00,13.50 C10.83,12.67 12.50,11.83 13.00,11.50" fill="none" stroke="#80c860" stroke-width="2.03" stroke-linecap="round"/><path d="M0.80,15.00 C1.25,15.25 2.63,15.83 3.50,16.50 C4.37,17.17 5.58,18.58 6.00,19.00" fill="none" stroke="#50c8b8" stroke-width="2.03" stroke-linecap="round"/><path d="M9.00,19.50 C9.25,20.00 10.17,21.58 10.50,22.50 C10.83,23.42 10.92,24.58 11.00,25.00" fill="none" stroke="#e8d850" stroke-width="1.45" stroke-linecap="round"/><path d="M0.50,31.50 C0.83,31.42 1.92,30.83 2.50,31.00 C3.08,31.17 3.75,32.25 4.00,32.50" fill="none" stroke="#e05a9a" stroke-width="2.03" stroke-linecap="round"/><path d="M54.50,20.80 C55.25,20.97 58.25,21.63 59.00,21.80" fill="none" stroke="#f0a050" stroke-width="1.74" stroke-linecap="round"/><path d="M57.60,39.50 C57.83,39.17 58.60,38.25 59.00,37.50 C59.40,36.75 59.83,35.42 60.00,35.00" fill="none" stroke="#5a7ad0" stroke-width="1.74" stroke-linecap="round"/><path d="M19.50,5.50 C19.92,5.33 21.17,4.58 22.00,4.50 C22.83,4.42 24.08,4.92 24.50,5.00" fill="none" stroke="#90d060" stroke-width="1.74" stroke-linecap="round"/><path d="M28.00,1.50 C27.92,1.92 27.50,3.25 27.50,4.00 C27.50,4.75 27.92,5.67 28.00,6.00" fill="none" stroke="#a060c8" stroke-width="1.45" stroke-linecap="round"/><path d="M30.50,0.80 C30.92,0.87 32.08,1.03 33.00,1.20 C33.92,1.37 35.50,1.70 36.00,1.80" fill="none" stroke="#50c0b8" stroke-width="1.45" stroke-linecap="round"/><path d="M25.70,29.50 C26.03,29.83 27.37,31.17 27.70,31.50" fill="none" stroke="#40a040" stroke-width="1.45" stroke-linecap="round"/><path d="M15.00,34.00 C15.50,34.25 17.50,35.25 18.00,35.50" fill="none" stroke="#80c860" stroke-width="1.45" stroke-linecap="round"/><path d="M58.70,19.50 C59.00,19.67 60.20,20.33 60.50,20.50" fill="none" stroke="#5a5ad0" stroke-width="2.03" stroke-linecap="round"/><path d="M6.00,21.00 C6.25,20.83 7.25,20.17 7.50,20.00" fill="none" stroke="#c050c0" stroke-width="1.45" stroke-linecap="round"/><path d="M4.00,26.00 C4.25,26.17 5.25,26.83 5.50,27.00" fill="none" stroke="#5a5ad0" stroke-width="1.30" stroke-linecap="round"/></g><circle cx="38.3" cy="26.3" r="1.2" fill="#f07850"/><rect x="42.4" y="12.1" width="1.2" height="1.2" fill="#d040a0"/><rect x="53.3" y="24.099999999999998" width="1.2" height="1.2" fill="#e04060"/><rect x="50.3" y="37.3" width="1.2" height="1.2" fill="#e04060"/><rect x="37.9" y="18.4" width="1.2" height="1.2" fill="#e05090"/></g>
<path d="M293.70,337.40 C293.83,336.40 294.03,335.13 294.70,334.40 C295.37,333.67 296.62,333.17 297.70,333.00 C298.78,332.83 300.32,332.83 301.20,333.40 C302.08,333.97 302.83,335.32 303.00,336.40 C303.17,337.48 302.75,338.93 302.20,339.90 C301.65,340.87 300.70,341.78 299.70,342.20 C298.70,342.62 297.17,342.70 296.20,342.40 C295.23,342.10 294.32,341.23 293.90,340.40 C293.48,339.57 293.57,338.40 293.70,337.40 Z" fill="none" stroke="#333" stroke-width="0.55"/>
<path d="M294.90,344.20 C295.37,343.98 296.73,343.07 297.70,342.90 C298.67,342.73 299.82,343.32 300.70,343.20 C301.58,343.08 302.62,342.37 303.00,342.20" fill="none" stroke="#60b050" stroke-width="0.9" stroke-linecap="round"/>
<path d="M287.00,358.40 C287.45,356.20 288.75,357.27 289.70,357.20 C290.65,357.13 291.70,357.38 292.70,358.00 C293.70,358.62 294.45,360.25 295.70,360.90 C296.95,361.55 298.70,361.57 300.20,361.90 C301.70,362.23 303.62,362.23 304.70,362.90 C305.78,363.57 306.45,364.73 306.70,365.90 C306.95,367.07 306.87,368.85 306.20,369.90 C305.53,370.95 304.28,371.75 302.70,372.20 C301.12,372.65 298.70,372.60 296.70,372.60 C294.70,372.60 292.32,372.57 290.70,372.20 C289.08,371.83 287.62,372.70 287.00,370.40 C286.38,368.10 286.55,360.60 287.00,358.40 Z" fill="none" stroke="#333" stroke-width="0.5"/>
<path d="M332.00,350.90 C332.47,350.32 333.58,349.62 334.70,349.40 C335.82,349.18 337.37,349.35 338.70,349.60 C340.03,349.85 341.65,350.10 342.70,350.90 C343.75,351.70 344.75,353.07 345.00,354.40 C345.25,355.73 344.83,357.52 344.20,358.90 C343.57,360.28 342.28,362.20 341.20,362.70 C340.12,363.20 338.62,362.70 337.70,361.90 C336.78,361.10 336.45,358.98 335.70,357.90 C334.95,356.82 333.83,356.23 333.20,355.40 C332.57,354.57 332.10,353.65 331.90,352.90 C331.70,352.15 331.53,351.48 332.00,350.90 Z" fill="none" stroke="#333" stroke-width="0.55"/>
<path d="M322.50,362.40 C322.95,361.70 324.17,360.87 325.20,360.70 C326.23,360.53 327.53,360.70 328.70,361.40 C329.87,362.10 331.28,363.57 332.20,364.90 C333.12,366.23 333.90,367.95 334.20,369.40 C334.50,370.85 334.50,373.02 334.00,373.60 C333.50,374.18 332.17,373.60 331.20,372.90 C330.23,372.20 329.28,370.40 328.20,369.40 C327.12,368.40 325.65,367.65 324.70,366.90 C323.75,366.15 322.87,365.65 322.50,364.90 C322.13,364.15 322.05,363.10 322.50,362.40 Z" fill="none" stroke="#333" stroke-width="0.5"/>
<path d="M315.4,369.8 L318.3,364.0 L321.2,369.8 Z" fill="#111"/>
<path d="M345.2,349.6 L363.8,319.3 M345.8,356 L363.8,352.8" fill="none" stroke="#222" stroke-width="0.8" stroke-dasharray="2.4,1.4"/>
<rect x="363.8" y="319.3" width="43.8" height="33.5" fill="none" stroke="#222" stroke-width="0.8" stroke-dasharray="2.4,1.4"/>
<path d="M364.20,320.00 C364.58,318.77 365.78,319.43 366.50,319.60 C367.22,319.77 367.83,320.90 368.50,321.00 C369.17,321.10 369.83,320.40 370.50,320.20 C371.17,320.00 371.92,319.58 372.50,319.80 C373.08,320.02 373.50,320.88 374.00,321.50 C374.50,322.12 374.92,322.92 375.50,323.50 C376.08,324.08 376.83,324.42 377.50,325.00 C378.17,325.58 379.25,326.17 379.50,327.00 C379.75,327.83 378.83,329.00 379.00,330.00 C379.17,331.00 380.42,332.08 380.50,333.00 C380.58,333.92 380.08,335.00 379.50,335.50 C378.92,336.00 377.83,336.33 377.00,336.00 C376.17,335.67 375.33,334.25 374.50,333.50 C373.67,332.75 372.92,332.00 372.00,331.50 C371.08,331.00 370.00,330.83 369.00,330.50 C368.00,330.17 366.80,330.08 366.00,329.50 C365.20,328.92 364.50,328.58 364.20,327.00 C363.90,325.42 363.82,321.23 364.20,320.00 Z" fill="#2b3fa8"/>
<path d="M389.00,326.50 C389.08,325.45 389.75,324.65 390.50,324.20 C391.25,323.75 392.50,323.67 393.50,323.80 C394.50,323.93 395.67,324.38 396.50,325.00 C397.33,325.62 398.00,326.67 398.50,327.50 C399.00,328.33 399.75,329.22 399.50,330.00 C399.25,330.78 398.08,331.95 397.00,332.20 C395.92,332.45 394.17,331.78 393.00,331.50 C391.83,331.22 390.67,331.33 390.00,330.50 C389.33,329.67 388.92,327.55 389.00,326.50 Z" fill="#e81f4c"/>
<path d="M402,319.7 L405.5,320 L407.3,321.2" fill="none" stroke="#f0a040" stroke-width="1.3"/>
<path d="M370.8,339.6h0.9v0.9h-0.9z M375.8,346h0.9v0.9h-0.9z M377.8,345.6h0.9v0.9h-0.9z M380,346.4h0.9v0.9h-0.9z M395,340h0.9v0.9h-0.9z M397.5,340.6h0.9v0.9h-0.9z M400,340.2h0.9v0.9h-0.9z M383,325h0.9v0.9h-0.9z M381.5,347.3h0.9v0.9h-0.9z" fill="#9a9a9a"/>
<circle cx="365.6" cy="363.6" r="1.5" fill="#9a9a9a"/>
<circle cx="371.1" cy="363.6" r="1.5" fill="#9a9a9a"/>
<circle cx="376.6" cy="363.6" r="1.5" fill="#9a9a9a"/>
<circle cx="365.6" cy="373.8" r="1.45" fill="#e8d040" stroke="#e8803a" stroke-width="0.9"/>
<circle cx="371.1" cy="373.8" r="1.45" fill="#60c060" stroke="#3a9a9a" stroke-width="0.9"/>
<circle cx="376.6" cy="373.8" r="1.45" fill="#50b080" stroke="#a040b0" stroke-width="0.9"/>
<line x1="365.00" y1="382.50" x2="378.00" y2="382.50" stroke="#111" stroke-width="1.0"/>
<text x="384.40" y="366.20">Individual cells</text>
<text x="384.40" y="376.40">Cell clusters</text>
<text x="384.40" y="385.10">First cluster outline</text>
<text x="484.50" y="248.50" font-size="10.4" font-weight="bold" fill="#111">e</text>
<rect x="515.00" y="300.32" width="1.94" height="2.28" fill="#0072bd" fill-opacity="0.62" stroke="#2a2a2a" stroke-width="0.35" stroke-opacity="0.8"/>
<rect x="516.94" y="298.80" width="1.94" height="3.80" fill="#0072bd" fill-opacity="0.62" stroke="#2a2a2a" stroke-width="0.35" stroke-opacity="0.8"/>
<rect x="518.88" y="295.76" width="1.94" height="6.84" fill="#0072bd" fill-opacity="0.62" stroke="#2a2a2a" stroke-width="0.35" stroke-opacity="0.8"/>
<rect x="520.82" y="291.96" width="1.94" height="10.64" fill="#0072bd" fill-opacity="0.62" stroke="#2a2a2a" stroke-width="0.35" stroke-opacity="0.8"/>
<rect x="522.76" y="288.16" width="1.94" height="14.44" fill="#0072bd" fill-opacity="0.62" stroke="#2a2a2a" stroke-width="0.35" stroke-opacity="0.8"/>
<rect x="524.70" y="286.34" width="1.94" height="16.26" fill="#0072bd" fill-opacity="0.62" stroke="#2a2a2a" stroke-width="0.35" stroke-opacity="0.8"/>
<rect x="526.64" y="284.36" width="1.94" height="18.24" fill="#0072bd" fill-opacity="0.62" stroke="#2a2a2a" stroke-width="0.35" stroke-opacity="0.8"/>
<rect x="528.58" y="281.32" width="1.94" height="21.28" fill="#0072bd" fill-opacity="0.62" stroke="#2a2a2a" stroke-width="0.35" stroke-opacity="0.8"/>
<rect x="530.52" y="278.28" width="1.94" height="24.32" fill="#0072bd" fill-opacity="0.62" stroke="#2a2a2a" stroke-width="0.35" stroke-opacity="0.8"/>
<rect x="532.46" y="275.54" width="1.94" height="27.06" fill="#0072bd" fill-opacity="0.62" stroke="#2a2a2a" stroke-width="0.35" stroke-opacity="0.8"/>
<rect x="534.40" y="275.24" width="1.94" height="27.36" fill="#0072bd" fill-opacity="0.62" stroke="#2a2a2a" stroke-width="0.35" stroke-opacity="0.8"/>
<rect x="536.34" y="276.00" width="1.94" height="26.60" fill="#0072bd" fill-opacity="0.62" stroke="#2a2a2a" stroke-width="0.35" stroke-opacity="0.8"/>
<rect x="538.28" y="276.76" width="1.94" height="25.84" fill="#0072bd" fill-opacity="0.62" stroke="#2a2a2a" stroke-width="0.35" stroke-opacity="0.8"/>
<rect x="540.22" y="276.30" width="1.94" height="26.30" fill="#0072bd" fill-opacity="0.62" stroke="#2a2a2a" stroke-width="0.35" stroke-opacity="0.8"/>
<rect x="542.16" y="275.54" width="1.94" height="27.06" fill="#0072bd" fill-opacity="0.62" stroke="#2a2a2a" stroke-width="0.35" stroke-opacity="0.8"/>
<rect x="544.10" y="275.24" width="1.94" height="27.36" fill="#0072bd" fill-opacity="0.62" stroke="#2a2a2a" stroke-width="0.35" stroke-opacity="0.8"/>
<rect x="546.04" y="276.76" width="1.94" height="25.84" fill="#0072bd" fill-opacity="0.62" stroke="#2a2a2a" stroke-width="0.35" stroke-opacity="0.8"/>
<rect x="547.98" y="277.52" width="1.94" height="25.08" fill="#0072bd" fill-opacity="0.62" stroke="#2a2a2a" stroke-width="0.35" stroke-opacity="0.8"/>
<rect x="549.92" y="279.80" width="1.94" height="22.80" fill="#0072bd" fill-opacity="0.62" stroke="#2a2a2a" stroke-width="0.35" stroke-opacity="0.8"/>
<rect x="551.86" y="281.32" width="1.94" height="21.28" fill="#0072bd" fill-opacity="0.62" stroke="#2a2a2a" stroke-width="0.35" stroke-opacity="0.8"/>
<rect x="553.80" y="284.36" width="1.94" height="18.24" fill="#0072bd" fill-opacity="0.62" stroke="#2a2a2a" stroke-width="0.35" stroke-opacity="0.8"/>
<rect x="555.74" y="285.12" width="1.94" height="17.48" fill="#0072bd" fill-opacity="0.62" stroke="#2a2a2a" stroke-width="0.35" stroke-opacity="0.8"/>
<rect x="557.68" y="287.40" width="1.94" height="15.20" fill="#0072bd" fill-opacity="0.62" stroke="#2a2a2a" stroke-width="0.35" stroke-opacity="0.8"/>
<rect x="559.62" y="288.92" width="1.94" height="13.68" fill="#0072bd" fill-opacity="0.62" stroke="#2a2a2a" stroke-width="0.35" stroke-opacity="0.8"/>
<rect x="561.56" y="291.96" width="1.94" height="10.64" fill="#0072bd" fill-opacity="0.62" stroke="#2a2a2a" stroke-width="0.35" stroke-opacity="0.8"/>
<rect x="563.50" y="294.24" width="1.94" height="8.36" fill="#0072bd" fill-opacity="0.62" stroke="#2a2a2a" stroke-width="0.35" stroke-opacity="0.8"/>
<rect x="565.44" y="296.52" width="1.94" height="6.08" fill="#0072bd" fill-opacity="0.62" stroke="#2a2a2a" stroke-width="0.35" stroke-opacity="0.8"/>
<rect x="567.38" y="298.04" width="1.94" height="4.56" fill="#0072bd" fill-opacity="0.62" stroke="#2a2a2a" stroke-width="0.35" stroke-opacity="0.8"/>
<rect x="569.32" y="299.56" width="1.94" height="3.04" fill="#0072bd" fill-opacity="0.62" stroke="#2a2a2a" stroke-width="0.35" stroke-opacity="0.8"/>
<rect x="571.26" y="300.32" width="1.94" height="2.28" fill="#0072bd" fill-opacity="0.62" stroke="#2a2a2a" stroke-width="0.35" stroke-opacity="0.8"/>
<rect x="573.20" y="301.38" width="1.94" height="1.22" fill="#0072bd" fill-opacity="0.62" stroke="#2a2a2a" stroke-width="0.35" stroke-opacity="0.8"/>
<rect x="575.14" y="301.69" width="1.94" height="0.91" fill="#0072bd" fill-opacity="0.62" stroke="#2a2a2a" stroke-width="0.35" stroke-opacity="0.8"/>
<rect x="577.08" y="302.14" width="1.94" height="0.46" fill="#0072bd" fill-opacity="0.62" stroke="#2a2a2a" stroke-width="0.35" stroke-opacity="0.8"/>
<rect x="579.02" y="302.14" width="1.94" height="0.46" fill="#0072bd" fill-opacity="0.62" stroke="#2a2a2a" stroke-width="0.35" stroke-opacity="0.8"/>
<rect x="515.00" y="299.56" width="3.88" height="3.04" fill="#d95319" fill-opacity="0.62" stroke="#2a2a2a" stroke-width="0.35" stroke-opacity="0.8"/>
<rect x="518.88" y="296.22" width="3.88" height="6.38" fill="#d95319" fill-opacity="0.62" stroke="#2a2a2a" stroke-width="0.35" stroke-opacity="0.8"/>
<rect x="522.76" y="289.68" width="3.88" height="12.92" fill="#d95319" fill-opacity="0.62" stroke="#2a2a2a" stroke-width="0.35" stroke-opacity="0.8"/>
<rect x="526.64" y="287.40" width="3.88" height="15.20" fill="#d95319" fill-opacity="0.62" stroke="#2a2a2a" stroke-width="0.35" stroke-opacity="0.8"/>
<rect x="530.52" y="281.32" width="3.88" height="21.28" fill="#d95319" fill-opacity="0.62" stroke="#2a2a2a" stroke-width="0.35" stroke-opacity="0.8"/>
<rect x="534.40" y="276.30" width="3.88" height="26.30" fill="#d95319" fill-opacity="0.62" stroke="#2a2a2a" stroke-width="0.35" stroke-opacity="0.8"/>
<rect x="538.28" y="276.30" width="3.88" height="26.30" fill="#d95319" fill-opacity="0.62" stroke="#2a2a2a" stroke-width="0.35" stroke-opacity="0.8"/>
<rect x="542.16" y="272.96" width="3.88" height="29.64" fill="#d95319" fill-opacity="0.62" stroke="#2a2a2a" stroke-width="0.35" stroke-opacity="0.8"/>
<rect x="546.04" y="280.56" width="3.88" height="22.04" fill="#d95319" fill-opacity="0.62" stroke="#2a2a2a" stroke-width="0.35" stroke-opacity="0.8"/>
<rect x="549.92" y="281.32" width="3.88" height="21.28" fill="#d95319" fill-opacity="0.62" stroke="#2a2a2a" stroke-width="0.35" stroke-opacity="0.8"/>
<rect x="553.80" y="284.66" width="3.88" height="17.94" fill="#d95319" fill-opacity="0.62" stroke="#2a2a2a" stroke-width="0.35" stroke-opacity="0.8"/>
<rect x="557.68" y="293.48" width="3.88" height="9.12" fill="#d95319" fill-opacity="0.62" stroke="#2a2a2a" stroke-width="0.35" stroke-opacity="0.8"/>
<rect x="561.56" y="298.04" width="3.88" height="4.56" fill="#d95319" fill-opacity="0.62" stroke="#2a2a2a" stroke-width="0.35" stroke-opacity="0.8"/>
<rect x="565.44" y="300.32" width="3.88" height="2.28" fill="#d95319" fill-opacity="0.62" stroke="#2a2a2a" stroke-width="0.35" stroke-opacity="0.8"/>
<rect x="569.32" y="301.38" width="3.88" height="1.22" fill="#d95319" fill-opacity="0.62" stroke="#2a2a2a" stroke-width="0.35" stroke-opacity="0.8"/>
<rect x="573.20" y="302.14" width="3.88" height="0.46" fill="#d95319" fill-opacity="0.62" stroke="#2a2a2a" stroke-width="0.35" stroke-opacity="0.8"/>
<rect x="577.08" y="302.45" width="3.88" height="0.15" fill="#d95319" fill-opacity="0.62" stroke="#2a2a2a" stroke-width="0.35" stroke-opacity="0.8"/>
<rect x="515.00" y="297.13" width="3.88" height="5.47" fill="#edb120" fill-opacity="0.62" stroke="#2a2a2a" stroke-width="0.35" stroke-opacity="0.8"/>
<rect x="518.88" y="289.22" width="3.88" height="13.38" fill="#edb120" fill-opacity="0.62" stroke="#2a2a2a" stroke-width="0.35" stroke-opacity="0.8"/>
<rect x="522.76" y="289.68" width="3.88" height="12.92" fill="#edb120" fill-opacity="0.62" stroke="#2a2a2a" stroke-width="0.35" stroke-opacity="0.8"/>
<rect x="526.64" y="282.99" width="3.88" height="19.61" fill="#edb120" fill-opacity="0.62" stroke="#2a2a2a" stroke-width="0.35" stroke-opacity="0.8"/>
<rect x="530.52" y="278.58" width="3.88" height="24.02" fill="#edb120" fill-opacity="0.62" stroke="#2a2a2a" stroke-width="0.35" stroke-opacity="0.8"/>
<rect x="534.40" y="281.32" width="3.88" height="21.28" fill="#edb120" fill-opacity="0.62" stroke="#2a2a2a" stroke-width="0.35" stroke-opacity="0.8"/>
<rect x="538.28" y="284.36" width="3.88" height="18.24" fill="#edb120" fill-opacity="0.62" stroke="#2a2a2a" stroke-width="0.35" stroke-opacity="0.8"/>
<rect x="542.16" y="285.88" width="3.88" height="16.72" fill="#edb120" fill-opacity="0.62" stroke="#2a2a2a" stroke-width="0.35" stroke-opacity="0.8"/>
<rect x="546.04" y="287.40" width="3.88" height="15.20" fill="#edb120" fill-opacity="0.62" stroke="#2a2a2a" stroke-width="0.35" stroke-opacity="0.8"/>
<rect x="549.92" y="290.44" width="3.88" height="12.16" fill="#edb120" fill-opacity="0.62" stroke="#2a2a2a" stroke-width="0.35" stroke-opacity="0.8"/>
<rect x="553.80" y="293.48" width="3.88" height="9.12" fill="#edb120" fill-opacity="0.62" stroke="#2a2a2a" stroke-width="0.35" stroke-opacity="0.8"/>
<rect x="557.68" y="296.52" width="3.88" height="6.08" fill="#edb120" fill-opacity="0.62" stroke="#2a2a2a" stroke-width="0.35" stroke-opacity="0.8"/>
<rect x="561.56" y="299.56" width="3.88" height="3.04" fill="#edb120" fill-opacity="0.62" stroke="#2a2a2a" stroke-width="0.35" stroke-opacity="0.8"/>
<rect x="565.44" y="301.08" width="3.88" height="1.52" fill="#edb120" fill-opacity="0.62" stroke="#2a2a2a" stroke-width="0.35" stroke-opacity="0.8"/>
<rect x="569.32" y="301.84" width="3.88" height="0.76" fill="#edb120" fill-opacity="0.62" stroke="#2a2a2a" stroke-width="0.35" stroke-opacity="0.8"/>
<rect x="573.20" y="302.30" width="3.88" height="0.30" fill="#edb120" fill-opacity="0.62" stroke="#2a2a2a" stroke-width="0.35" stroke-opacity="0.8"/>
<rect x="577.08" y="302.45" width="3.88" height="0.15" fill="#edb120" fill-opacity="0.62" stroke="#2a2a2a" stroke-width="0.35" stroke-opacity="0.8"/>
<rect x="515.00" y="299.26" width="3.88" height="3.34" fill="#7e2f8e" fill-opacity="0.62" stroke="#2a2a2a" stroke-width="0.35" stroke-opacity="0.8"/>
<rect x="518.88" y="296.22" width="3.88" height="6.38" fill="#7e2f8e" fill-opacity="0.62" stroke="#2a2a2a" stroke-width="0.35" stroke-opacity="0.8"/>
<rect x="522.76" y="289.68" width="3.88" height="12.92" fill="#7e2f8e" fill-opacity="0.62" stroke="#2a2a2a" stroke-width="0.35" stroke-opacity="0.8"/>
<rect x="526.64" y="289.38" width="3.88" height="13.22" fill="#7e2f8e" fill-opacity="0.62" stroke="#2a2a2a" stroke-width="0.35" stroke-opacity="0.8"/>
<rect x="530.52" y="285.58" width="3.88" height="17.02" fill="#7e2f8e" fill-opacity="0.62" stroke="#2a2a2a" stroke-width="0.35" stroke-opacity="0.8"/>
<rect x="534.40" y="286.34" width="3.88" height="16.26" fill="#7e2f8e" fill-opacity="0.62" stroke="#2a2a2a" stroke-width="0.35" stroke-opacity="0.8"/>
<rect x="538.28" y="282.38" width="3.88" height="20.22" fill="#7e2f8e" fill-opacity="0.62" stroke="#2a2a2a" stroke-width="0.35" stroke-opacity="0.8"/>
<rect x="542.16" y="285.73" width="3.88" height="16.87" fill="#7e2f8e" fill-opacity="0.62" stroke="#2a2a2a" stroke-width="0.35" stroke-opacity="0.8"/>
<rect x="546.04" y="281.02" width="3.88" height="21.58" fill="#7e2f8e" fill-opacity="0.62" stroke="#2a2a2a" stroke-width="0.35" stroke-opacity="0.8"/>
<rect x="549.92" y="280.41" width="3.88" height="22.19" fill="#7e2f8e" fill-opacity="0.62" stroke="#2a2a2a" stroke-width="0.35" stroke-opacity="0.8"/>
<rect x="553.80" y="279.95" width="3.88" height="22.65" fill="#7e2f8e" fill-opacity="0.62" stroke="#2a2a2a" stroke-width="0.35" stroke-opacity="0.8"/>
<rect x="557.68" y="282.38" width="3.88" height="20.22" fill="#7e2f8e" fill-opacity="0.62" stroke="#2a2a2a" stroke-width="0.35" stroke-opacity="0.8"/>
<rect x="561.56" y="287.10" width="3.88" height="15.50" fill="#7e2f8e" fill-opacity="0.62" stroke="#2a2a2a" stroke-width="0.35" stroke-opacity="0.8"/>
<rect x="565.44" y="288.16" width="3.88" height="14.44" fill="#7e2f8e" fill-opacity="0.62" stroke="#2a2a2a" stroke-width="0.35" stroke-opacity="0.8"/>
<rect x="569.32" y="296.22" width="3.88" height="6.38" fill="#7e2f8e" fill-opacity="0.62" stroke="#2a2a2a" stroke-width="0.35" stroke-opacity="0.8"/>
<rect x="573.20" y="298.50" width="3.88" height="4.10" fill="#7e2f8e" fill-opacity="0.62" stroke="#2a2a2a" stroke-width="0.35" stroke-opacity="0.8"/>
<rect x="577.08" y="301.08" width="3.88" height="1.52" fill="#7e2f8e" fill-opacity="0.62" stroke="#2a2a2a" stroke-width="0.35" stroke-opacity="0.8"/>
<rect x="511.50" y="272.20" width="72.00" height="30.40" fill="none" stroke="#9a9a9a" stroke-width="0.6"/>
<text x="508.90" y="274.80" text-anchor="end">200</text>
<line x1="510.10" y1="272.20" x2="511.50" y2="272.20" stroke="#888" stroke-width="0.5"/>
<text x="508.90" y="290.00" text-anchor="end">100</text>
<line x1="510.10" y1="287.40" x2="511.50" y2="287.40" stroke="#888" stroke-width="0.5"/>
<text x="508.90" y="305.20" text-anchor="end">0</text>
<line x1="510.10" y1="302.60" x2="511.50" y2="302.60" stroke="#888" stroke-width="0.5"/>
<text x="514.80" y="311.70" text-anchor="middle">0</text>
<line x1="514.80" y1="302.60" x2="514.80" y2="303.80" stroke="#888" stroke-width="0.5"/>
<text x="533.80" y="311.70" text-anchor="middle">50</text>
<line x1="533.80" y1="302.60" x2="533.80" y2="303.80" stroke="#888" stroke-width="0.5"/>
<text x="553.20" y="311.70" text-anchor="middle">100</text>
<line x1="553.20" y1="302.60" x2="553.20" y2="303.80" stroke="#888" stroke-width="0.5"/>
<text x="572.50" y="311.70" text-anchor="middle">150</text>
<line x1="572.50" y1="302.60" x2="572.50" y2="303.80" stroke="#888" stroke-width="0.5"/>
<text x="547.50" y="267.60" text-anchor="middle">Sox9-CC3</text>
<rect x="614.70" y="301.01" width="2.25" height="1.48" fill="#0072bd" fill-opacity="0.62" stroke="#2a2a2a" stroke-width="0.35" stroke-opacity="0.8"/>
<rect x="616.95" y="299.23" width="2.25" height="3.27" fill="#0072bd" fill-opacity="0.62" stroke="#2a2a2a" stroke-width="0.35" stroke-opacity="0.8"/>
<rect x="619.20" y="292.70" width="2.25" height="9.80" fill="#0072bd" fill-opacity="0.62" stroke="#2a2a2a" stroke-width="0.35" stroke-opacity="0.8"/>
<rect x="621.45" y="288.69" width="2.25" height="13.81" fill="#0072bd" fill-opacity="0.62" stroke="#2a2a2a" stroke-width="0.35" stroke-opacity="0.8"/>
<rect x="623.70" y="284.23" width="2.25" height="18.27" fill="#0072bd" fill-opacity="0.62" stroke="#2a2a2a" stroke-width="0.35" stroke-opacity="0.8"/>
<rect x="625.95" y="282.45" width="2.25" height="20.05" fill="#0072bd" fill-opacity="0.62" stroke="#2a2a2a" stroke-width="0.35" stroke-opacity="0.8"/>
<rect x="628.20" y="277.55" width="2.25" height="24.95" fill="#0072bd" fill-opacity="0.62" stroke="#2a2a2a" stroke-width="0.35" stroke-opacity="0.8"/>
<rect x="630.45" y="277.55" width="2.25" height="24.95" fill="#0072bd" fill-opacity="0.62" stroke="#2a2a2a" stroke-width="0.35" stroke-opacity="0.8"/>
<rect x="632.70" y="276.96" width="2.25" height="25.54" fill="#0072bd" fill-opacity="0.62" stroke="#2a2a2a" stroke-width="0.35" stroke-opacity="0.8"/>
<rect x="634.95" y="274.73" width="2.25" height="27.77" fill="#0072bd" fill-opacity="0.62" stroke="#2a2a2a" stroke-width="0.35" stroke-opacity="0.8"/>
<rect x="637.20" y="276.36" width="2.25" height="26.14" fill="#0072bd" fill-opacity="0.62" stroke="#2a2a2a" stroke-width="0.35" stroke-opacity="0.8"/>
<rect x="639.45" y="278.15" width="2.25" height="24.35" fill="#0072bd" fill-opacity="0.62" stroke="#2a2a2a" stroke-width="0.35" stroke-opacity="0.8"/>
<rect x="641.70" y="280.23" width="2.25" height="22.27" fill="#0072bd" fill-opacity="0.62" stroke="#2a2a2a" stroke-width="0.35" stroke-opacity="0.8"/>
<rect x="643.95" y="284.68" width="2.25" height="17.82" fill="#0072bd" fill-opacity="0.62" stroke="#2a2a2a" stroke-width="0.35" stroke-opacity="0.8"/>
<rect x="646.20" y="287.65" width="2.25" height="14.85" fill="#0072bd" fill-opacity="0.62" stroke="#2a2a2a" stroke-width="0.35" stroke-opacity="0.8"/>
<rect x="648.45" y="290.62" width="2.25" height="11.88" fill="#0072bd" fill-opacity="0.62" stroke="#2a2a2a" stroke-width="0.35" stroke-opacity="0.8"/>
<rect x="650.70" y="293.59" width="2.25" height="8.91" fill="#0072bd" fill-opacity="0.62" stroke="#2a2a2a" stroke-width="0.35" stroke-opacity="0.8"/>
<rect x="652.95" y="296.56" width="2.25" height="5.94" fill="#0072bd" fill-opacity="0.62" stroke="#2a2a2a" stroke-width="0.35" stroke-opacity="0.8"/>
<rect x="655.20" y="298.79" width="2.25" height="3.71" fill="#0072bd" fill-opacity="0.62" stroke="#2a2a2a" stroke-width="0.35" stroke-opacity="0.8"/>
<rect x="657.45" y="300.27" width="2.25" height="2.23" fill="#0072bd" fill-opacity="0.62" stroke="#2a2a2a" stroke-width="0.35" stroke-opacity="0.8"/>
<rect x="659.70" y="301.31" width="2.25" height="1.19" fill="#0072bd" fill-opacity="0.62" stroke="#2a2a2a" stroke-width="0.35" stroke-opacity="0.8"/>
<rect x="661.95" y="301.91" width="2.25" height="0.59" fill="#0072bd" fill-opacity="0.62" stroke="#2a2a2a" stroke-width="0.35" stroke-opacity="0.8"/>
<rect x="615.90" y="298.34" width="5.60" height="4.16" fill="#d95319" fill-opacity="0.62" stroke="#2a2a2a" stroke-width="0.35" stroke-opacity="0.8"/>
<rect x="621.50" y="293.74" width="5.60" height="8.76" fill="#d95319" fill-opacity="0.62" stroke="#2a2a2a" stroke-width="0.35" stroke-opacity="0.8"/>
<rect x="627.10" y="292.11" width="5.60" height="10.39" fill="#d95319" fill-opacity="0.62" stroke="#2a2a2a" stroke-width="0.35" stroke-opacity="0.8"/>
<rect x="632.70" y="287.65" width="5.60" height="14.85" fill="#d95319" fill-opacity="0.62" stroke="#2a2a2a" stroke-width="0.35" stroke-opacity="0.8"/>
<rect x="638.30" y="285.42" width="5.60" height="17.08" fill="#d95319" fill-opacity="0.62" stroke="#2a2a2a" stroke-width="0.35" stroke-opacity="0.8"/>
<rect x="643.90" y="289.28" width="5.60" height="13.22" fill="#d95319" fill-opacity="0.62" stroke="#2a2a2a" stroke-width="0.35" stroke-opacity="0.8"/>
<rect x="649.50" y="292.11" width="5.60" height="10.39" fill="#d95319" fill-opacity="0.62" stroke="#2a2a2a" stroke-width="0.35" stroke-opacity="0.8"/>
<rect x="655.10" y="297.75" width="5.60" height="4.75" fill="#d95319" fill-opacity="0.62" stroke="#2a2a2a" stroke-width="0.35" stroke-opacity="0.8"/>
<rect x="660.70" y="301.16" width="5.60" height="1.34" fill="#d95319" fill-opacity="0.62" stroke="#2a2a2a" stroke-width="0.35" stroke-opacity="0.8"/>
<rect x="666.30" y="302.05" width="5.60" height="0.45" fill="#d95319" fill-opacity="0.62" stroke="#2a2a2a" stroke-width="0.35" stroke-opacity="0.8"/>
<rect x="614.70" y="298.79" width="4.50" height="3.71" fill="#edb120" fill-opacity="0.62" stroke="#2a2a2a" stroke-width="0.35" stroke-opacity="0.8"/>
<rect x="619.20" y="294.18" width="4.50" height="8.32" fill="#edb120" fill-opacity="0.62" stroke="#2a2a2a" stroke-width="0.35" stroke-opacity="0.8"/>
<rect x="623.70" y="290.62" width="4.50" height="11.88" fill="#edb120" fill-opacity="0.62" stroke="#2a2a2a" stroke-width="0.35" stroke-opacity="0.8"/>
<rect x="628.20" y="286.46" width="4.50" height="16.04" fill="#edb120" fill-opacity="0.62" stroke="#2a2a2a" stroke-width="0.35" stroke-opacity="0.8"/>
<rect x="632.70" y="287.65" width="4.50" height="14.85" fill="#edb120" fill-opacity="0.62" stroke="#2a2a2a" stroke-width="0.35" stroke-opacity="0.8"/>
<rect x="637.20" y="289.13" width="4.50" height="13.37" fill="#edb120" fill-opacity="0.62" stroke="#2a2a2a" stroke-width="0.35" stroke-opacity="0.8"/>
<rect x="641.70" y="292.11" width="4.50" height="10.39" fill="#edb120" fill-opacity="0.62" stroke="#2a2a2a" stroke-width="0.35" stroke-opacity="0.8"/>
<rect x="646.20" y="295.07" width="4.50" height="7.42" fill="#edb120" fill-opacity="0.62" stroke="#2a2a2a" stroke-width="0.35" stroke-opacity="0.8"/>
<rect x="650.70" y="298.05" width="4.50" height="4.46" fill="#edb120" fill-opacity="0.62" stroke="#2a2a2a" stroke-width="0.35" stroke-opacity="0.8"/>
<rect x="655.20" y="300.27" width="4.50" height="2.23" fill="#edb120" fill-opacity="0.62" stroke="#2a2a2a" stroke-width="0.35" stroke-opacity="0.8"/>
<rect x="659.70" y="301.76" width="4.50" height="0.74" fill="#edb120" fill-opacity="0.62" stroke="#2a2a2a" stroke-width="0.35" stroke-opacity="0.8"/>
<rect x="615.90" y="298.79" width="5.60" height="3.71" fill="#7e2f8e" fill-opacity="0.62" stroke="#2a2a2a" stroke-width="0.35" stroke-opacity="0.8"/>
<rect x="621.50" y="294.33" width="5.60" height="8.17" fill="#7e2f8e" fill-opacity="0.62" stroke="#2a2a2a" stroke-width="0.35" stroke-opacity="0.8"/>
<rect x="627.10" y="292.85" width="5.60" height="9.65" fill="#7e2f8e" fill-opacity="0.62" stroke="#2a2a2a" stroke-width="0.35" stroke-opacity="0.8"/>
<rect x="632.70" y="288.39" width="5.60" height="14.11" fill="#7e2f8e" fill-opacity="0.62" stroke="#2a2a2a" stroke-width="0.35" stroke-opacity="0.8"/>
<rect x="638.30" y="285.87" width="5.60" height="16.63" fill="#7e2f8e" fill-opacity="0.62" stroke="#2a2a2a" stroke-width="0.35" stroke-opacity="0.8"/>
<rect x="643.90" y="282.45" width="5.60" height="20.05" fill="#7e2f8e" fill-opacity="0.62" stroke="#2a2a2a" stroke-width="0.35" stroke-opacity="0.8"/>
<rect x="649.50" y="282.01" width="5.60" height="20.49" fill="#7e2f8e" fill-opacity="0.62" stroke="#2a2a2a" stroke-width="0.35" stroke-opacity="0.8"/>
<rect x="655.10" y="283.05" width="5.60" height="19.45" fill="#7e2f8e" fill-opacity="0.62" stroke="#2a2a2a" stroke-width="0.35" stroke-opacity="0.8"/>
<rect x="660.70" y="288.69" width="5.60" height="13.81" fill="#7e2f8e" fill-opacity="0.62" stroke="#2a2a2a" stroke-width="0.35" stroke-opacity="0.8"/>
<rect x="666.30" y="297.75" width="5.60" height="4.75" fill="#7e2f8e" fill-opacity="0.62" stroke="#2a2a2a" stroke-width="0.35" stroke-opacity="0.8"/>
<rect x="671.90" y="300.42" width="5.60" height="2.08" fill="#7e2f8e" fill-opacity="0.62" stroke="#2a2a2a" stroke-width="0.35" stroke-opacity="0.8"/>
<rect x="677.50" y="301.91" width="5.60" height="0.59" fill="#7e2f8e" fill-opacity="0.62" stroke="#2a2a2a" stroke-width="0.35" stroke-opacity="0.8"/>
<rect x="612.60" y="272.40" width="71.70" height="30.10" fill="none" stroke="#9a9a9a" stroke-width="0.6"/>
<text x="610.00" y="275.00" text-anchor="end">200</text>
<line x1="611.20" y1="272.40" x2="612.60" y2="272.40" stroke="#888" stroke-width="0.5"/>
<text x="610.00" y="290.05" text-anchor="end">100</text>
<line x1="611.20" y1="287.45" x2="612.60" y2="287.45" stroke="#888" stroke-width="0.5"/>
<text x="610.00" y="305.10" text-anchor="end">0</text>
<line x1="611.20" y1="302.50" x2="612.60" y2="302.50" stroke="#888" stroke-width="0.5"/>
<text x="614.70" y="311.60" text-anchor="middle">0</text>
<line x1="614.70" y1="302.50" x2="614.70" y2="303.70" stroke="#888" stroke-width="0.5"/>
<text x="632.90" y="311.60" text-anchor="middle">50</text>
<line x1="632.90" y1="302.50" x2="632.90" y2="303.70" stroke="#888" stroke-width="0.5"/>
<text x="651.60" y="311.60" text-anchor="middle">100</text>
<line x1="651.60" y1="302.50" x2="651.60" y2="303.70" stroke="#888" stroke-width="0.5"/>
<text x="670.60" y="311.60" text-anchor="middle">150</text>
<line x1="670.60" y1="302.50" x2="670.60" y2="303.70" stroke="#888" stroke-width="0.5"/>
<text x="648.20" y="267.80" text-anchor="middle">Sox9-Ly6G</text>
<rect x="514.00" y="355.80" width="3.80" height="6.70" fill="#0072bd" fill-opacity="0.62" stroke="#2a2a2a" stroke-width="0.35" stroke-opacity="0.8"/>
<rect x="517.80" y="349.10" width="3.80" height="13.40" fill="#0072bd" fill-opacity="0.62" stroke="#2a2a2a" stroke-width="0.35" stroke-opacity="0.8"/>
<rect x="521.60" y="345.08" width="3.80" height="17.42" fill="#0072bd" fill-opacity="0.62" stroke="#2a2a2a" stroke-width="0.35" stroke-opacity="0.8"/>
<rect x="525.40" y="339.72" width="3.80" height="22.78" fill="#0072bd" fill-opacity="0.62" stroke="#2a2a2a" stroke-width="0.35" stroke-opacity="0.8"/>
<rect x="529.20" y="335.70" width="3.80" height="26.80" fill="#0072bd" fill-opacity="0.62" stroke="#2a2a2a" stroke-width="0.35" stroke-opacity="0.8"/>
<rect x="533.00" y="343.74" width="3.80" height="18.76" fill="#0072bd" fill-opacity="0.62" stroke="#2a2a2a" stroke-width="0.35" stroke-opacity="0.8"/>
<rect x="536.80" y="341.06" width="3.80" height="21.44" fill="#0072bd" fill-opacity="0.62" stroke="#2a2a2a" stroke-width="0.35" stroke-opacity="0.8"/>
<rect x="540.60" y="343.74" width="3.80" height="18.76" fill="#0072bd" fill-opacity="0.62" stroke="#2a2a2a" stroke-width="0.35" stroke-opacity="0.8"/>
<rect x="544.40" y="342.40" width="3.80" height="20.10" fill="#0072bd" fill-opacity="0.62" stroke="#2a2a2a" stroke-width="0.35" stroke-opacity="0.8"/>
<rect x="548.20" y="349.10" width="3.80" height="13.40" fill="#0072bd" fill-opacity="0.62" stroke="#2a2a2a" stroke-width="0.35" stroke-opacity="0.8"/>
<rect x="552.00" y="354.46" width="3.80" height="8.04" fill="#0072bd" fill-opacity="0.62" stroke="#2a2a2a" stroke-width="0.35" stroke-opacity="0.8"/>
<rect x="555.80" y="358.48" width="3.80" height="4.02" fill="#0072bd" fill-opacity="0.62" stroke="#2a2a2a" stroke-width="0.35" stroke-opacity="0.8"/>
<rect x="559.60" y="360.36" width="3.80" height="2.14" fill="#0072bd" fill-opacity="0.62" stroke="#2a2a2a" stroke-width="0.35" stroke-opacity="0.8"/>
<rect x="563.40" y="361.16" width="3.80" height="1.34" fill="#0072bd" fill-opacity="0.62" stroke="#2a2a2a" stroke-width="0.35" stroke-opacity="0.8"/>
<rect x="567.20" y="361.96" width="3.80" height="0.54" fill="#0072bd" fill-opacity="0.62" stroke="#2a2a2a" stroke-width="0.35" stroke-opacity="0.8"/>
<rect x="571.00" y="362.23" width="3.80" height="0.27" fill="#0072bd" fill-opacity="0.62" stroke="#2a2a2a" stroke-width="0.35" stroke-opacity="0.8"/>
<rect x="514.00" y="355.80" width="3.80" height="6.70" fill="#d95319" fill-opacity="0.62" stroke="#2a2a2a" stroke-width="0.35" stroke-opacity="0.8"/>
<rect x="517.80" y="355.80" width="3.80" height="6.70" fill="#d95319" fill-opacity="0.62" stroke="#2a2a2a" stroke-width="0.35" stroke-opacity="0.8"/>
<rect x="521.60" y="355.00" width="3.80" height="7.50" fill="#d95319" fill-opacity="0.62" stroke="#2a2a2a" stroke-width="0.35" stroke-opacity="0.8"/>
<rect x="525.40" y="346.42" width="3.80" height="16.08" fill="#d95319" fill-opacity="0.62" stroke="#2a2a2a" stroke-width="0.35" stroke-opacity="0.8"/>
<rect x="529.20" y="346.42" width="3.80" height="16.08" fill="#d95319" fill-opacity="0.62" stroke="#2a2a2a" stroke-width="0.35" stroke-opacity="0.8"/>
<rect x="533.00" y="346.42" width="3.80" height="16.08" fill="#d95319" fill-opacity="0.62" stroke="#2a2a2a" stroke-width="0.35" stroke-opacity="0.8"/>
<rect x="536.80" y="349.10" width="3.80" height="13.40" fill="#d95319" fill-opacity="0.62" stroke="#2a2a2a" stroke-width="0.35" stroke-opacity="0.8"/>
<rect x="540.60" y="349.10" width="3.80" height="13.40" fill="#d95319" fill-opacity="0.62" stroke="#2a2a2a" stroke-width="0.35" stroke-opacity="0.8"/>
<rect x="544.40" y="349.10" width="3.80" height="13.40" fill="#d95319" fill-opacity="0.62" stroke="#2a2a2a" stroke-width="0.35" stroke-opacity="0.8"/>
<rect x="548.20" y="351.78" width="3.80" height="10.72" fill="#d95319" fill-opacity="0.62" stroke="#2a2a2a" stroke-width="0.35" stroke-opacity="0.8"/>
<rect x="552.00" y="357.14" width="3.80" height="5.36" fill="#d95319" fill-opacity="0.62" stroke="#2a2a2a" stroke-width="0.35" stroke-opacity="0.8"/>
<rect x="555.80" y="359.82" width="3.80" height="2.68" fill="#d95319" fill-opacity="0.62" stroke="#2a2a2a" stroke-width="0.35" stroke-opacity="0.8"/>
<rect x="559.60" y="360.89" width="3.80" height="1.61" fill="#d95319" fill-opacity="0.62" stroke="#2a2a2a" stroke-width="0.35" stroke-opacity="0.8"/>
<rect x="563.40" y="361.70" width="3.80" height="0.80" fill="#d95319" fill-opacity="0.62" stroke="#2a2a2a" stroke-width="0.35" stroke-opacity="0.8"/>
<rect x="567.20" y="362.23" width="3.80" height="0.27" fill="#d95319" fill-opacity="0.62" stroke="#2a2a2a" stroke-width="0.35" stroke-opacity="0.8"/>
<rect x="514.00" y="354.19" width="3.80" height="8.31" fill="#edb120" fill-opacity="0.62" stroke="#2a2a2a" stroke-width="0.35" stroke-opacity="0.8"/>
<rect x="517.80" y="345.62" width="3.80" height="16.88" fill="#edb120" fill-opacity="0.62" stroke="#2a2a2a" stroke-width="0.35" stroke-opacity="0.8"/>
<rect x="521.60" y="342.67" width="3.80" height="19.83" fill="#edb120" fill-opacity="0.62" stroke="#2a2a2a" stroke-width="0.35" stroke-opacity="0.8"/>
<rect x="525.40" y="336.24" width="3.80" height="26.26" fill="#edb120" fill-opacity="0.62" stroke="#2a2a2a" stroke-width="0.35" stroke-opacity="0.8"/>
<rect x="529.20" y="331.41" width="3.80" height="31.09" fill="#edb120" fill-opacity="0.62" stroke="#2a2a2a" stroke-width="0.35" stroke-opacity="0.8"/>
<rect x="533.00" y="343.20" width="3.80" height="19.30" fill="#edb120" fill-opacity="0.62" stroke="#2a2a2a" stroke-width="0.35" stroke-opacity="0.8"/>
<rect x="536.80" y="339.72" width="3.80" height="22.78" fill="#edb120" fill-opacity="0.62" stroke="#2a2a2a" stroke-width="0.35" stroke-opacity="0.8"/>
<rect x="540.60" y="342.40" width="3.80" height="20.10" fill="#edb120" fill-opacity="0.62" stroke="#2a2a2a" stroke-width="0.35" stroke-opacity="0.8"/>
<rect x="544.40" y="339.72" width="3.80" height="22.78" fill="#edb120" fill-opacity="0.62" stroke="#2a2a2a" stroke-width="0.35" stroke-opacity="0.8"/>
<rect x="548.20" y="348.03" width="3.80" height="14.47" fill="#edb120" fill-opacity="0.62" stroke="#2a2a2a" stroke-width="0.35" stroke-opacity="0.8"/>
<rect x="552.00" y="354.46" width="3.80" height="8.04" fill="#edb120" fill-opacity="0.62" stroke="#2a2a2a" stroke-width="0.35" stroke-opacity="0.8"/>
<rect x="555.80" y="358.48" width="3.80" height="4.02" fill="#edb120" fill-opacity="0.62" stroke="#2a2a2a" stroke-width="0.35" stroke-opacity="0.8"/>
<rect x="559.60" y="360.36" width="3.80" height="2.14" fill="#edb120" fill-opacity="0.62" stroke="#2a2a2a" stroke-width="0.35" stroke-opacity="0.8"/>
<rect x="563.40" y="361.16" width="3.80" height="1.34" fill="#edb120" fill-opacity="0.62" stroke="#2a2a2a" stroke-width="0.35" stroke-opacity="0.8"/>
<rect x="567.20" y="361.96" width="3.80" height="0.54" fill="#edb120" fill-opacity="0.62" stroke="#2a2a2a" stroke-width="0.35" stroke-opacity="0.8"/>
<rect x="571.00" y="362.23" width="3.80" height="0.27" fill="#edb120" fill-opacity="0.62" stroke="#2a2a2a" stroke-width="0.35" stroke-opacity="0.8"/>
<rect x="514.00" y="355.00" width="3.80" height="7.50" fill="#7e2f8e" fill-opacity="0.62" stroke="#2a2a2a" stroke-width="0.35" stroke-opacity="0.8"/>
<rect x="517.80" y="355.00" width="3.80" height="7.50" fill="#7e2f8e" fill-opacity="0.62" stroke="#2a2a2a" stroke-width="0.35" stroke-opacity="0.8"/>
<rect x="521.60" y="354.46" width="3.80" height="8.04" fill="#7e2f8e" fill-opacity="0.62" stroke="#2a2a2a" stroke-width="0.35" stroke-opacity="0.8"/>
<rect x="525.40" y="345.35" width="3.80" height="17.15" fill="#7e2f8e" fill-opacity="0.62" stroke="#2a2a2a" stroke-width="0.35" stroke-opacity="0.8"/>
<rect x="529.20" y="345.62" width="3.80" height="16.88" fill="#7e2f8e" fill-opacity="0.62" stroke="#2a2a2a" stroke-width="0.35" stroke-opacity="0.8"/>
<rect x="533.00" y="345.88" width="3.80" height="16.62" fill="#7e2f8e" fill-opacity="0.62" stroke="#2a2a2a" stroke-width="0.35" stroke-opacity="0.8"/>
<rect x="536.80" y="347.49" width="3.80" height="15.01" fill="#7e2f8e" fill-opacity="0.62" stroke="#2a2a2a" stroke-width="0.35" stroke-opacity="0.8"/>
<rect x="540.60" y="347.49" width="3.80" height="15.01" fill="#7e2f8e" fill-opacity="0.62" stroke="#2a2a2a" stroke-width="0.35" stroke-opacity="0.8"/>
<rect x="544.40" y="346.96" width="3.80" height="15.54" fill="#7e2f8e" fill-opacity="0.62" stroke="#2a2a2a" stroke-width="0.35" stroke-opacity="0.8"/>
<rect x="548.20" y="347.49" width="3.80" height="15.01" fill="#7e2f8e" fill-opacity="0.62" stroke="#2a2a2a" stroke-width="0.35" stroke-opacity="0.8"/>
<rect x="552.00" y="350.44" width="3.80" height="12.06" fill="#7e2f8e" fill-opacity="0.62" stroke="#2a2a2a" stroke-width="0.35" stroke-opacity="0.8"/>
<rect x="555.80" y="353.12" width="3.80" height="9.38" fill="#7e2f8e" fill-opacity="0.62" stroke="#2a2a2a" stroke-width="0.35" stroke-opacity="0.8"/>
<rect x="559.60" y="356.60" width="3.80" height="5.90" fill="#7e2f8e" fill-opacity="0.62" stroke="#2a2a2a" stroke-width="0.35" stroke-opacity="0.8"/>
<rect x="563.40" y="358.75" width="3.80" height="3.75" fill="#7e2f8e" fill-opacity="0.62" stroke="#2a2a2a" stroke-width="0.35" stroke-opacity="0.8"/>
<rect x="567.20" y="360.62" width="3.80" height="1.88" fill="#7e2f8e" fill-opacity="0.62" stroke="#2a2a2a" stroke-width="0.35" stroke-opacity="0.8"/>
<rect x="571.00" y="361.70" width="3.80" height="0.80" fill="#7e2f8e" fill-opacity="0.62" stroke="#2a2a2a" stroke-width="0.35" stroke-opacity="0.8"/>
<rect x="511.10" y="331.40" width="72.70" height="31.10" fill="none" stroke="#9a9a9a" stroke-width="0.6"/>
<text x="508.50" y="338.30" text-anchor="end">100</text>
<line x1="509.70" y1="335.70" x2="511.10" y2="335.70" stroke="#888" stroke-width="0.5"/>
<text x="508.50" y="351.70" text-anchor="end">50</text>
<line x1="509.70" y1="349.10" x2="511.10" y2="349.10" stroke="#888" stroke-width="0.5"/>
<text x="508.50" y="365.10" text-anchor="end">0</text>
<line x1="509.70" y1="362.50" x2="511.10" y2="362.50" stroke="#888" stroke-width="0.5"/>
<text x="513.80" y="371.60" text-anchor="middle">0</text>
<line x1="513.80" y1="362.50" x2="513.80" y2="363.70" stroke="#888" stroke-width="0.5"/>
<text x="532.00" y="371.60" text-anchor="middle">50</text>
<line x1="532.00" y1="362.50" x2="532.00" y2="363.70" stroke="#888" stroke-width="0.5"/>
<text x="551.00" y="371.60" text-anchor="middle">100</text>
<line x1="551.00" y1="362.50" x2="551.00" y2="363.70" stroke="#888" stroke-width="0.5"/>
<text x="570.80" y="371.60" text-anchor="middle">150</text>
<line x1="570.80" y1="362.50" x2="570.80" y2="363.70" stroke="#888" stroke-width="0.5"/>
<text x="547.80" y="326.80" text-anchor="middle">Sox9-CD11c</text>
<rect x="615.50" y="357.74" width="4.12" height="4.76" fill="#0072bd" fill-opacity="0.62" stroke="#2a2a2a" stroke-width="0.35" stroke-opacity="0.8"/>
<rect x="619.62" y="351.79" width="4.12" height="10.71" fill="#0072bd" fill-opacity="0.62" stroke="#2a2a2a" stroke-width="0.35" stroke-opacity="0.8"/>
<rect x="623.74" y="348.22" width="4.12" height="14.28" fill="#0072bd" fill-opacity="0.62" stroke="#2a2a2a" stroke-width="0.35" stroke-opacity="0.8"/>
<rect x="627.86" y="342.27" width="4.12" height="20.23" fill="#0072bd" fill-opacity="0.62" stroke="#2a2a2a" stroke-width="0.35" stroke-opacity="0.8"/>
<rect x="631.98" y="336.32" width="4.12" height="26.18" fill="#0072bd" fill-opacity="0.62" stroke="#2a2a2a" stroke-width="0.35" stroke-opacity="0.8"/>
<rect x="636.10" y="336.32" width="4.12" height="26.18" fill="#0072bd" fill-opacity="0.62" stroke="#2a2a2a" stroke-width="0.35" stroke-opacity="0.8"/>
<rect x="640.22" y="331.56" width="4.12" height="30.94" fill="#0072bd" fill-opacity="0.62" stroke="#2a2a2a" stroke-width="0.35" stroke-opacity="0.8"/>
<rect x="644.34" y="338.70" width="4.12" height="23.80" fill="#0072bd" fill-opacity="0.62" stroke="#2a2a2a" stroke-width="0.35" stroke-opacity="0.8"/>
<rect x="648.46" y="343.46" width="4.12" height="19.04" fill="#0072bd" fill-opacity="0.62" stroke="#2a2a2a" stroke-width="0.35" stroke-opacity="0.8"/>
<rect x="652.58" y="349.41" width="4.12" height="13.09" fill="#0072bd" fill-opacity="0.62" stroke="#2a2a2a" stroke-width="0.35" stroke-opacity="0.8"/>
<rect x="656.70" y="352.98" width="4.12" height="9.52" fill="#0072bd" fill-opacity="0.62" stroke="#2a2a2a" stroke-width="0.35" stroke-opacity="0.8"/>
<rect x="660.82" y="355.84" width="4.12" height="6.66" fill="#0072bd" fill-opacity="0.62" stroke="#2a2a2a" stroke-width="0.35" stroke-opacity="0.8"/>
<rect x="664.94" y="359.17" width="4.12" height="3.33" fill="#0072bd" fill-opacity="0.62" stroke="#2a2a2a" stroke-width="0.35" stroke-opacity="0.8"/>
<rect x="669.06" y="361.31" width="4.12" height="1.19" fill="#0072bd" fill-opacity="0.62" stroke="#2a2a2a" stroke-width="0.35" stroke-opacity="0.8"/>
<rect x="615.50" y="359.41" width="4.12" height="3.09" fill="#d95319" fill-opacity="0.62" stroke="#2a2a2a" stroke-width="0.35" stroke-opacity="0.8"/>
<rect x="619.62" y="359.41" width="4.12" height="3.09" fill="#d95319" fill-opacity="0.62" stroke="#2a2a2a" stroke-width="0.35" stroke-opacity="0.8"/>
<rect x="623.74" y="355.60" width="4.12" height="6.90" fill="#d95319" fill-opacity="0.62" stroke="#2a2a2a" stroke-width="0.35" stroke-opacity="0.8"/>
<rect x="627.86" y="355.60" width="4.12" height="6.90" fill="#d95319" fill-opacity="0.62" stroke="#2a2a2a" stroke-width="0.35" stroke-opacity="0.8"/>
<rect x="631.98" y="355.60" width="4.12" height="6.90" fill="#d95319" fill-opacity="0.62" stroke="#2a2a2a" stroke-width="0.35" stroke-opacity="0.8"/>
<rect x="636.10" y="348.22" width="4.12" height="14.28" fill="#d95319" fill-opacity="0.62" stroke="#2a2a2a" stroke-width="0.35" stroke-opacity="0.8"/>
<rect x="640.22" y="348.22" width="4.12" height="14.28" fill="#d95319" fill-opacity="0.62" stroke="#2a2a2a" stroke-width="0.35" stroke-opacity="0.8"/>
<rect x="644.34" y="351.31" width="4.12" height="11.19" fill="#d95319" fill-opacity="0.62" stroke="#2a2a2a" stroke-width="0.35" stroke-opacity="0.8"/>
<rect x="648.46" y="354.88" width="4.12" height="7.62" fill="#d95319" fill-opacity="0.62" stroke="#2a2a2a" stroke-width="0.35" stroke-opacity="0.8"/>
<rect x="652.58" y="356.55" width="4.12" height="5.95" fill="#d95319" fill-opacity="0.62" stroke="#2a2a2a" stroke-width="0.35" stroke-opacity="0.8"/>
<rect x="656.70" y="359.41" width="4.12" height="3.09" fill="#d95319" fill-opacity="0.62" stroke="#2a2a2a" stroke-width="0.35" stroke-opacity="0.8"/>
<rect x="660.82" y="360.60" width="4.12" height="1.90" fill="#d95319" fill-opacity="0.62" stroke="#2a2a2a" stroke-width="0.35" stroke-opacity="0.8"/>
<rect x="664.94" y="361.55" width="4.12" height="0.95" fill="#d95319" fill-opacity="0.62" stroke="#2a2a2a" stroke-width="0.35" stroke-opacity="0.8"/>
<rect x="669.06" y="362.02" width="4.12" height="0.48" fill="#d95319" fill-opacity="0.62" stroke="#2a2a2a" stroke-width="0.35" stroke-opacity="0.8"/>
<rect x="615.50" y="354.65" width="4.12" height="7.85" fill="#edb120" fill-opacity="0.62" stroke="#2a2a2a" stroke-width="0.35" stroke-opacity="0.8"/>
<rect x="619.62" y="345.36" width="4.12" height="17.14" fill="#edb120" fill-opacity="0.62" stroke="#2a2a2a" stroke-width="0.35" stroke-opacity="0.8"/>
<rect x="623.74" y="346.08" width="4.12" height="16.42" fill="#edb120" fill-opacity="0.62" stroke="#2a2a2a" stroke-width="0.35" stroke-opacity="0.8"/>
<rect x="627.86" y="338.70" width="4.12" height="23.80" fill="#edb120" fill-opacity="0.62" stroke="#2a2a2a" stroke-width="0.35" stroke-opacity="0.8"/>
<rect x="631.98" y="332.04" width="4.12" height="30.46" fill="#edb120" fill-opacity="0.62" stroke="#2a2a2a" stroke-width="0.35" stroke-opacity="0.8"/>
<rect x="636.10" y="339.18" width="4.12" height="23.32" fill="#edb120" fill-opacity="0.62" stroke="#2a2a2a" stroke-width="0.35" stroke-opacity="0.8"/>
<rect x="640.22" y="340.37" width="4.12" height="22.13" fill="#edb120" fill-opacity="0.62" stroke="#2a2a2a" stroke-width="0.35" stroke-opacity="0.8"/>
<rect x="644.34" y="343.46" width="4.12" height="19.04" fill="#edb120" fill-opacity="0.62" stroke="#2a2a2a" stroke-width="0.35" stroke-opacity="0.8"/>
<rect x="648.46" y="342.27" width="4.12" height="20.23" fill="#edb120" fill-opacity="0.62" stroke="#2a2a2a" stroke-width="0.35" stroke-opacity="0.8"/>
<rect x="652.58" y="348.22" width="4.12" height="14.28" fill="#edb120" fill-opacity="0.62" stroke="#2a2a2a" stroke-width="0.35" stroke-opacity="0.8"/>
<rect x="656.70" y="353.22" width="4.12" height="9.28" fill="#edb120" fill-opacity="0.62" stroke="#2a2a2a" stroke-width="0.35" stroke-opacity="0.8"/>
<rect x="660.82" y="356.55" width="4.12" height="5.95" fill="#edb120" fill-opacity="0.62" stroke="#2a2a2a" stroke-width="0.35" stroke-opacity="0.8"/>
<rect x="664.94" y="358.93" width="4.12" height="3.57" fill="#edb120" fill-opacity="0.62" stroke="#2a2a2a" stroke-width="0.35" stroke-opacity="0.8"/>
<rect x="669.06" y="361.31" width="4.12" height="1.19" fill="#edb120" fill-opacity="0.62" stroke="#2a2a2a" stroke-width="0.35" stroke-opacity="0.8"/>
<rect x="615.50" y="359.41" width="4.12" height="3.09" fill="#7e2f8e" fill-opacity="0.62" stroke="#2a2a2a" stroke-width="0.35" stroke-opacity="0.8"/>
<rect x="619.62" y="359.41" width="4.12" height="3.09" fill="#7e2f8e" fill-opacity="0.62" stroke="#2a2a2a" stroke-width="0.35" stroke-opacity="0.8"/>
<rect x="623.74" y="355.60" width="4.12" height="6.90" fill="#7e2f8e" fill-opacity="0.62" stroke="#2a2a2a" stroke-width="0.35" stroke-opacity="0.8"/>
<rect x="627.86" y="355.60" width="4.12" height="6.90" fill="#7e2f8e" fill-opacity="0.62" stroke="#2a2a2a" stroke-width="0.35" stroke-opacity="0.8"/>
<rect x="631.98" y="355.60" width="4.12" height="6.90" fill="#7e2f8e" fill-opacity="0.62" stroke="#2a2a2a" stroke-width="0.35" stroke-opacity="0.8"/>
<rect x="636.10" y="348.22" width="4.12" height="14.28" fill="#7e2f8e" fill-opacity="0.62" stroke="#2a2a2a" stroke-width="0.35" stroke-opacity="0.8"/>
<rect x="640.22" y="348.22" width="4.12" height="14.28" fill="#7e2f8e" fill-opacity="0.62" stroke="#2a2a2a" stroke-width="0.35" stroke-opacity="0.8"/>
<rect x="644.34" y="351.31" width="4.12" height="11.19" fill="#7e2f8e" fill-opacity="0.62" stroke="#2a2a2a" stroke-width="0.35" stroke-opacity="0.8"/>
<rect x="648.46" y="354.88" width="4.12" height="7.62" fill="#7e2f8e" fill-opacity="0.62" stroke="#2a2a2a" stroke-width="0.35" stroke-opacity="0.8"/>
<rect x="652.58" y="356.55" width="4.12" height="5.95" fill="#7e2f8e" fill-opacity="0.62" stroke="#2a2a2a" stroke-width="0.35" stroke-opacity="0.8"/>
<rect x="656.70" y="359.41" width="4.12" height="3.09" fill="#7e2f8e" fill-opacity="0.62" stroke="#2a2a2a" stroke-width="0.35" stroke-opacity="0.8"/>
<rect x="660.82" y="360.60" width="4.12" height="1.90" fill="#7e2f8e" fill-opacity="0.62" stroke="#2a2a2a" stroke-width="0.35" stroke-opacity="0.8"/>
<rect x="664.94" y="361.55" width="4.12" height="0.95" fill="#7e2f8e" fill-opacity="0.62" stroke="#2a2a2a" stroke-width="0.35" stroke-opacity="0.8"/>
<rect x="669.06" y="362.02" width="4.12" height="0.48" fill="#7e2f8e" fill-opacity="0.62" stroke="#2a2a2a" stroke-width="0.35" stroke-opacity="0.8"/>
<rect x="612.40" y="331.40" width="71.90" height="31.10" fill="none" stroke="#9a9a9a" stroke-width="0.6"/>
<text x="609.80" y="341.30" text-anchor="end">100</text>
<line x1="611.00" y1="338.70" x2="612.40" y2="338.70" stroke="#888" stroke-width="0.5"/>
<text x="609.80" y="353.20" text-anchor="end">50</text>
<line x1="611.00" y1="350.60" x2="612.40" y2="350.60" stroke="#888" stroke-width="0.5"/>
<text x="609.80" y="365.10" text-anchor="end">0</text>
<line x1="611.00" y1="362.50" x2="612.40" y2="362.50" stroke="#888" stroke-width="0.5"/>
<text x="615.30" y="371.60" text-anchor="middle">0</text>
<line x1="615.30" y1="362.50" x2="615.30" y2="363.70" stroke="#888" stroke-width="0.5"/>
<text x="635.90" y="371.60" text-anchor="middle">50</text>
<line x1="635.90" y1="362.50" x2="635.90" y2="363.70" stroke="#888" stroke-width="0.5"/>
<text x="656.80" y="371.60" text-anchor="middle">100</text>
<line x1="656.80" y1="362.50" x2="656.80" y2="363.70" stroke="#888" stroke-width="0.5"/>
<text x="679.30" y="371.60" text-anchor="middle">150</text>
<line x1="679.30" y1="362.50" x2="679.30" y2="363.70" stroke="#888" stroke-width="0.5"/>
<text x="648.60" y="326.80" text-anchor="middle">Sox9-αSMA</text>
<text x="0.00" y="0.00" text-anchor="middle" transform="translate(491.4 318) rotate(-90)">Number</text>
<text x="593.40" y="381.60" text-anchor="middle">Distance (μm)</text>
<text x="-0.80" y="352.80" font-size="10.4" font-weight="bold" fill="#111">f</text>
<line x1="41.40" y1="367.00" x2="41.40" y2="413.70" stroke="#6a6a6a" stroke-width="0.6"/>
<line x1="41.40" y1="413.70" x2="142.80" y2="413.70" stroke="#8a8a8a" stroke-width="0.6"/>
<text x="37.00" y="416.30" text-anchor="end">0</text>
<text x="37.00" y="397.10" text-anchor="end">0.2</text>
<line x1="41.40" y1="394.50" x2="42.60" y2="394.50" stroke="#444" stroke-width="0.5"/>
<text x="37.00" y="377.90" text-anchor="end">0.4</text>
<line x1="41.40" y1="375.30" x2="42.60" y2="375.30" stroke="#444" stroke-width="0.5"/>
<rect x="56.10" y="380.10" width="14.50" height="33.60" fill="#0a6ab4"/>
<rect x="75.30" y="381.00" width="14.50" height="32.70" fill="#0a6ab4"/>
<rect x="94.30" y="374.20" width="14.50" height="39.50" fill="#0a6ab4"/>
<rect x="113.50" y="375.90" width="14.50" height="37.80" fill="#0a6ab4"/>
<line x1="63.70" y1="375.20" x2="63.70" y2="385.70" stroke="#111" stroke-width="0.6"/>
<line x1="62.70" y1="375.20" x2="64.70" y2="375.20" stroke="#111" stroke-width="0.6"/>
<line x1="62.70" y1="385.70" x2="64.70" y2="385.70" stroke="#111" stroke-width="0.6"/>
<line x1="82.50" y1="376.00" x2="82.50" y2="386.60" stroke="#111" stroke-width="0.6"/>
<line x1="81.50" y1="376.00" x2="83.50" y2="376.00" stroke="#111" stroke-width="0.6"/>
<line x1="81.50" y1="386.60" x2="83.50" y2="386.60" stroke="#111" stroke-width="0.6"/>
<line x1="101.70" y1="370.10" x2="101.70" y2="378.40" stroke="#111" stroke-width="0.6"/>
<line x1="100.70" y1="370.10" x2="102.70" y2="370.10" stroke="#111" stroke-width="0.6"/>
<line x1="100.70" y1="378.40" x2="102.70" y2="378.40" stroke="#111" stroke-width="0.6"/>
<line x1="120.70" y1="373.00" x2="120.70" y2="378.40" stroke="#111" stroke-width="0.6"/>
<line x1="119.70" y1="373.00" x2="121.70" y2="373.00" stroke="#111" stroke-width="0.6"/>
<line x1="119.70" y1="378.40" x2="121.70" y2="378.40" stroke="#111" stroke-width="0.6"/>
<circle cx="59.5" cy="374.2" r="1.15" fill="none" stroke="#ecb22e" stroke-width="0.7"/>
<circle cx="65.4" cy="369.6" r="1.15" fill="none" stroke="#ecb22e" stroke-width="0.7"/>
<circle cx="61.5" cy="385.4" r="1.15" fill="none" stroke="#ecb22e" stroke-width="0.7"/>
<circle cx="67.5" cy="392.0" r="1.15" fill="none" stroke="#ecb22e" stroke-width="0.7"/>
<circle cx="78.7" cy="375.2" r="1.15" fill="none" stroke="#ecb22e" stroke-width="0.7"/>
<circle cx="84.4" cy="370.8" r="1.15" fill="none" stroke="#ecb22e" stroke-width="0.7"/>
<circle cx="80.7" cy="385.4" r="1.15" fill="none" stroke="#ecb22e" stroke-width="0.7"/>
<circle cx="86.3" cy="393.7" r="1.15" fill="none" stroke="#ecb22e" stroke-width="0.7"/>
<circle cx="97.7" cy="367.6" r="1.15" fill="none" stroke="#ecb22e" stroke-width="0.7"/>
<circle cx="103.4" cy="367.0" r="1.15" fill="none" stroke="#ecb22e" stroke-width="0.7"/>
<circle cx="99.7" cy="379.6" r="1.15" fill="none" stroke="#ecb22e" stroke-width="0.7"/>
<circle cx="105.5" cy="383.2" r="1.15" fill="none" stroke="#ecb22e" stroke-width="0.7"/>
<circle cx="122.6" cy="368.4" r="1.15" fill="none" stroke="#ecb22e" stroke-width="0.7"/>
<circle cx="118.9" cy="375.5" r="1.15" fill="none" stroke="#ecb22e" stroke-width="0.7"/>
<circle cx="117.5" cy="377.6" r="1.15" fill="none" stroke="#ecb22e" stroke-width="0.7"/>
<circle cx="124.5" cy="382.0" r="1.15" fill="none" stroke="#ecb22e" stroke-width="0.7"/>
<line x1="62.00" y1="363.70" x2="101.40" y2="363.70" stroke="#777" stroke-width="1.1"/>
<line x1="82.10" y1="358.90" x2="101.40" y2="358.90" stroke="#777" stroke-width="1.1"/>
<text x="46.6" y="360.6" font-size="7.4"><tspan font-style="italic">P</tspan> = .0215</text>
<text x="83.2" y="355.4" font-size="7.4"><tspan font-style="italic">P</tspan> = .0164</text>
<text x="0.00" y="0.00" text-anchor="middle" transform="translate(11.8 394.3) rotate(-90)">Proportion</text>
<text x="0.00" y="0.00" text-anchor="middle" transform="translate(19.2 395.5) rotate(-90)">&lt; 50-μm distance</text>
<text x="0.00" y="0.00" text-anchor="end" transform="translate(65.40 423.5) rotate(-29)">Sox9-CC3</text>
<text x="0.00" y="0.00" text-anchor="end" transform="translate(84.60 423.5) rotate(-29)">Sox9-Ly6G</text>
<text x="0.00" y="0.00" text-anchor="end" transform="translate(103.60 423.5) rotate(-29)">Sox9-CD11c</text>
<text x="0.00" y="0.00" text-anchor="end" transform="translate(122.80 423.5) rotate(-29)">Sox9-αSMA</text>
</svg>
</body></html>
